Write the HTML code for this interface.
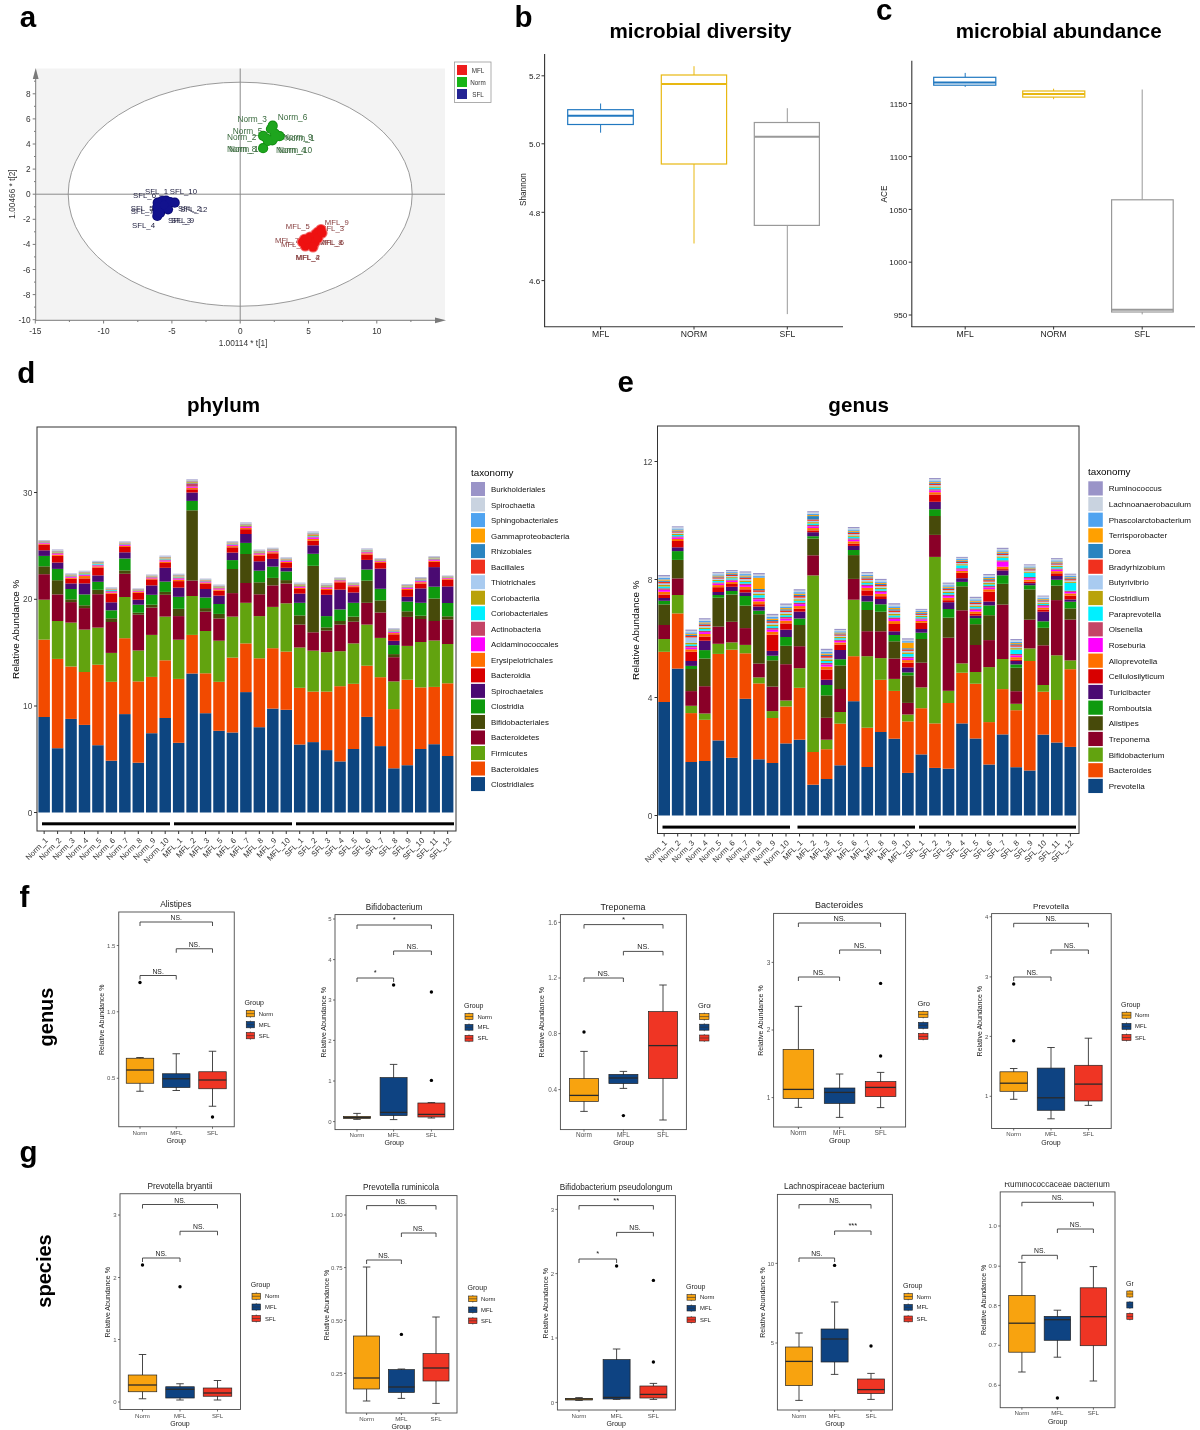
<!DOCTYPE html>
<html><head><meta charset="utf-8"><style>
html,body{margin:0;padding:0;background:#fff;}
svg{display:block;font-family:"Liberation Sans", sans-serif;will-change:transform;}
</style></head><body>
<svg width="1200" height="1430" viewBox="0 0 1200 1430">
<rect width="1200" height="1430" fill="#fff"/>
<text x="19.8" y="26.5" font-size="29.5" text-anchor="start" font-weight="bold" fill="#000" >a</text>
<text x="514.5" y="26.5" font-size="29.5" text-anchor="start" font-weight="bold" fill="#000" >b</text>
<text x="876" y="19.7" font-size="29.5" text-anchor="start" font-weight="bold" fill="#000" >c</text>
<text x="17.3" y="383" font-size="29.5" text-anchor="start" font-weight="bold" fill="#000" >d</text>
<text x="617.4" y="392.3" font-size="29.5" text-anchor="start" font-weight="bold" fill="#000" >e</text>
<text x="19.5" y="907" font-size="29.5" text-anchor="start" font-weight="bold" fill="#000" >f</text>
<text x="19.6" y="1161.7" font-size="29.5" text-anchor="start" font-weight="bold" fill="#000" >g</text>
<rect x="36" y="68.5" width="409" height="251.5" fill="#f3f3f3"/>
<ellipse cx="240.2" cy="194.2" rx="172" ry="112" fill="#fff" stroke="#9a9a9a" stroke-width="1"/>
<line x1="36" y1="194.2" x2="445" y2="194.2" stroke="#8a8a8a" stroke-width="1"/>
<line x1="240.2" y1="68.5" x2="240.2" y2="320" stroke="#8a8a8a" stroke-width="1"/>
<line x1="35.7" y1="72" x2="35.7" y2="320.5" stroke="#7a7a7a" stroke-width="1"/>
<line x1="35.2" y1="320.3" x2="440" y2="320.3" stroke="#7a7a7a" stroke-width="1"/>
<path d="M35.7,68 L32.8,79 L38.6,79 Z" fill="#7a7a7a"/>
<path d="M446,320.3 L435,317.4 L435,323.2 Z" fill="#7a7a7a"/>
<line x1="32.7" y1="319.7" x2="35.7" y2="319.7" stroke="#7a7a7a" stroke-width="1"/>
<text x="30.5" y="322.7" font-size="8.3" text-anchor="end" font-weight="normal" fill="#333" >-10</text>
<line x1="34" y1="307.1" x2="35.7" y2="307.1" stroke="#7a7a7a" stroke-width="1"/>
<line x1="32.7" y1="294.6" x2="35.7" y2="294.6" stroke="#7a7a7a" stroke-width="1"/>
<text x="30.5" y="297.6" font-size="8.3" text-anchor="end" font-weight="normal" fill="#333" >-8</text>
<line x1="34" y1="282.1" x2="35.7" y2="282.1" stroke="#7a7a7a" stroke-width="1"/>
<line x1="32.7" y1="269.5" x2="35.7" y2="269.5" stroke="#7a7a7a" stroke-width="1"/>
<text x="30.5" y="272.5" font-size="8.3" text-anchor="end" font-weight="normal" fill="#333" >-6</text>
<line x1="34" y1="256.9" x2="35.7" y2="256.9" stroke="#7a7a7a" stroke-width="1"/>
<line x1="32.7" y1="244.4" x2="35.7" y2="244.4" stroke="#7a7a7a" stroke-width="1"/>
<text x="30.5" y="247.39999999999998" font-size="8.3" text-anchor="end" font-weight="normal" fill="#333" >-4</text>
<line x1="34" y1="231.8" x2="35.7" y2="231.8" stroke="#7a7a7a" stroke-width="1"/>
<line x1="32.7" y1="219.3" x2="35.7" y2="219.3" stroke="#7a7a7a" stroke-width="1"/>
<text x="30.5" y="222.29999999999998" font-size="8.3" text-anchor="end" font-weight="normal" fill="#333" >-2</text>
<line x1="34" y1="206.8" x2="35.7" y2="206.8" stroke="#7a7a7a" stroke-width="1"/>
<line x1="32.7" y1="194.2" x2="35.7" y2="194.2" stroke="#7a7a7a" stroke-width="1"/>
<text x="30.5" y="197.2" font-size="8.3" text-anchor="end" font-weight="normal" fill="#333" >0</text>
<line x1="34" y1="181.6" x2="35.7" y2="181.6" stroke="#7a7a7a" stroke-width="1"/>
<line x1="32.7" y1="169.1" x2="35.7" y2="169.1" stroke="#7a7a7a" stroke-width="1"/>
<text x="30.5" y="172.1" font-size="8.3" text-anchor="end" font-weight="normal" fill="#333" >2</text>
<line x1="34" y1="156.5" x2="35.7" y2="156.5" stroke="#7a7a7a" stroke-width="1"/>
<line x1="32.7" y1="144.0" x2="35.7" y2="144.0" stroke="#7a7a7a" stroke-width="1"/>
<text x="30.5" y="147.0" font-size="8.3" text-anchor="end" font-weight="normal" fill="#333" >4</text>
<line x1="34" y1="131.4" x2="35.7" y2="131.4" stroke="#7a7a7a" stroke-width="1"/>
<line x1="32.7" y1="118.9" x2="35.7" y2="118.9" stroke="#7a7a7a" stroke-width="1"/>
<text x="30.5" y="121.89999999999998" font-size="8.3" text-anchor="end" font-weight="normal" fill="#333" >6</text>
<line x1="34" y1="106.3" x2="35.7" y2="106.3" stroke="#7a7a7a" stroke-width="1"/>
<line x1="32.7" y1="93.8" x2="35.7" y2="93.8" stroke="#7a7a7a" stroke-width="1"/>
<text x="30.5" y="96.79999999999998" font-size="8.3" text-anchor="end" font-weight="normal" fill="#333" >8</text>
<line x1="34" y1="81.2" x2="35.7" y2="81.2" stroke="#7a7a7a" stroke-width="1"/>
<line x1="35.3" y1="320.3" x2="35.3" y2="323.5" stroke="#7a7a7a" stroke-width="1"/>
<text x="35.29999999999998" y="334" font-size="8.3" text-anchor="middle" font-weight="normal" fill="#333" >-15</text>
<line x1="69.4" y1="320.3" x2="69.4" y2="322" stroke="#7a7a7a" stroke-width="1"/>
<line x1="103.6" y1="320.3" x2="103.6" y2="323.5" stroke="#7a7a7a" stroke-width="1"/>
<text x="103.6" y="334" font-size="8.3" text-anchor="middle" font-weight="normal" fill="#333" >-10</text>
<line x1="137.8" y1="320.3" x2="137.8" y2="322" stroke="#7a7a7a" stroke-width="1"/>
<line x1="171.9" y1="320.3" x2="171.9" y2="323.5" stroke="#7a7a7a" stroke-width="1"/>
<text x="171.89999999999998" y="334" font-size="8.3" text-anchor="middle" font-weight="normal" fill="#333" >-5</text>
<line x1="206.0" y1="320.3" x2="206.0" y2="322" stroke="#7a7a7a" stroke-width="1"/>
<line x1="240.2" y1="320.3" x2="240.2" y2="323.5" stroke="#7a7a7a" stroke-width="1"/>
<text x="240.2" y="334" font-size="8.3" text-anchor="middle" font-weight="normal" fill="#333" >0</text>
<line x1="274.3" y1="320.3" x2="274.3" y2="322" stroke="#7a7a7a" stroke-width="1"/>
<line x1="308.5" y1="320.3" x2="308.5" y2="323.5" stroke="#7a7a7a" stroke-width="1"/>
<text x="308.5" y="334" font-size="8.3" text-anchor="middle" font-weight="normal" fill="#333" >5</text>
<line x1="342.6" y1="320.3" x2="342.6" y2="322" stroke="#7a7a7a" stroke-width="1"/>
<line x1="376.8" y1="320.3" x2="376.8" y2="323.5" stroke="#7a7a7a" stroke-width="1"/>
<text x="376.79999999999995" y="334" font-size="8.3" text-anchor="middle" font-weight="normal" fill="#333" >10</text>
<line x1="410.9" y1="320.3" x2="410.9" y2="322" stroke="#7a7a7a" stroke-width="1"/>
<text x="243" y="346" font-size="8.3" text-anchor="middle" font-weight="normal" fill="#333" >1.00114 * t[1]</text>
<text x="0" y="0" font-size="8.3" text-anchor="middle" fill="#333" transform="translate(15.3,194) rotate(-90)">1.00466 * t[2]</text>
<rect x="454.5" y="62" width="36.5" height="40.5" fill="#fff" stroke="#999" stroke-width="0.8"/>
<rect x="457" y="65" width="10" height="10" fill="#ee1c1c"/>
<text x="478" y="73" font-size="6.3" text-anchor="middle" font-weight="normal" fill="#333" >MFL</text>
<rect x="457" y="77" width="10" height="10" fill="#18b418"/>
<text x="478" y="85" font-size="6.3" text-anchor="middle" font-weight="normal" fill="#333" >Norm</text>
<rect x="457" y="89" width="10" height="10" fill="#242494"/>
<text x="478" y="97" font-size="6.3" text-anchor="middle" font-weight="normal" fill="#333" >SFL</text>
<text x="237.4" y="121.6" font-size="8.3" text-anchor="start" font-weight="normal" fill="#3a6a3e" >Norm_3</text>
<text x="277.8" y="119.7" font-size="8.3" text-anchor="start" font-weight="normal" fill="#3a6a3e" >Norm_6</text>
<text x="232.8" y="133.5" font-size="8.3" text-anchor="start" font-weight="normal" fill="#3a6a3e" >Norm_5</text>
<text x="226.9" y="140.3" font-size="8.3" text-anchor="start" font-weight="normal" fill="#3a6a3e" >Norm_2</text>
<text x="283" y="139.9" font-size="8.3" text-anchor="start" font-weight="normal" fill="#3a6a3e" >Norm_9</text>
<text x="285" y="141" font-size="8.3" text-anchor="start" font-weight="normal" fill="#3a6a3e" >Norm_1</text>
<text x="226.9" y="151.8" font-size="8.3" text-anchor="start" font-weight="normal" fill="#3a6a3e" >Norm_8</text>
<text x="229" y="152.4" font-size="8.3" text-anchor="start" font-weight="normal" fill="#3a6a3e" >Norm_10</text>
<text x="276" y="153.2" font-size="8.3" text-anchor="start" font-weight="normal" fill="#3a6a3e" >Norm_4</text>
<text x="278" y="152.6" font-size="8.3" text-anchor="start" font-weight="normal" fill="#3a6a3e" >Norm_10</text>
<text x="133" y="198" font-size="7.8" text-anchor="start" font-weight="normal" fill="#1c1c3c" >SFL_6</text>
<text x="145" y="194.3" font-size="7.8" text-anchor="start" font-weight="normal" fill="#1c1c3c" >SFL_1</text>
<text x="169.7" y="194.3" font-size="7.8" text-anchor="start" font-weight="normal" fill="#1c1c3c" >SFL_10</text>
<text x="130.7" y="210.7" font-size="7.8" text-anchor="start" font-weight="normal" fill="#1c1c3c" >SFL_5</text>
<text x="130.7" y="214" font-size="7.8" text-anchor="start" font-weight="normal" fill="#1c1c3c" >SFL_7</text>
<text x="178" y="210.7" font-size="7.8" text-anchor="start" font-weight="normal" fill="#1c1c3c" >SFL_2</text>
<text x="180" y="211.5" font-size="7.8" text-anchor="start" font-weight="normal" fill="#1c1c3c" >SFL_12</text>
<text x="168" y="222.7" font-size="7.8" text-anchor="start" font-weight="normal" fill="#1c1c3c" >SFL_3</text>
<text x="171" y="222.7" font-size="7.8" text-anchor="start" font-weight="normal" fill="#1c1c3c" >SFL_9</text>
<text x="132" y="228" font-size="7.8" text-anchor="start" font-weight="normal" fill="#1c1c3c" >SFL_4</text>
<text x="285.8" y="228.8" font-size="7.7" text-anchor="start" font-weight="normal" fill="#853c3c" >MFL_5</text>
<text x="324.8" y="224.6" font-size="7.7" text-anchor="start" font-weight="normal" fill="#853c3c" >MFL_9</text>
<text x="320" y="231.4" font-size="7.7" text-anchor="start" font-weight="normal" fill="#853c3c" >MFL_3</text>
<text x="275" y="243" font-size="7.7" text-anchor="start" font-weight="normal" fill="#853c3c" >MFL_7</text>
<text x="281" y="246.8" font-size="7.7" text-anchor="start" font-weight="normal" fill="#853c3c" >MFL_1</text>
<text x="318.5" y="245.3" font-size="7.7" text-anchor="start" font-weight="normal" fill="#853c3c" >MFL_8</text>
<text x="320" y="245.3" font-size="7.7" text-anchor="start" font-weight="normal" fill="#853c3c" >MFL_6</text>
<text x="295.5" y="259.5" font-size="7.7" text-anchor="start" font-weight="normal" fill="#853c3c" >MFL_4</text>
<text x="296" y="259.5" font-size="7.7" text-anchor="start" font-weight="normal" fill="#853c3c" >MFL_2</text>
<circle cx="272.7" cy="125.7" r="5.1" fill="#0f8a0f"/>
<circle cx="270.9" cy="129" r="5.1" fill="#0f8a0f"/>
<circle cx="275" cy="133.5" r="5.1" fill="#0f8a0f"/>
<circle cx="263.1" cy="135.8" r="5.1" fill="#0f8a0f"/>
<circle cx="266.8" cy="138.5" r="5.1" fill="#0f8a0f"/>
<circle cx="272.3" cy="140.3" r="5.1" fill="#0f8a0f"/>
<circle cx="279.6" cy="136.2" r="5.1" fill="#0f8a0f"/>
<circle cx="275.5" cy="137" r="5.1" fill="#0f8a0f"/>
<circle cx="263.1" cy="148.2" r="5.1" fill="#0f8a0f"/>
<circle cx="268" cy="141" r="5.1" fill="#0f8a0f"/>
<circle cx="272.7" cy="125.7" r="4.3" fill="#1ea51e"/>
<circle cx="270.9" cy="129" r="4.3" fill="#1ea51e"/>
<circle cx="275" cy="133.5" r="4.3" fill="#1ea51e"/>
<circle cx="263.1" cy="135.8" r="4.3" fill="#1ea51e"/>
<circle cx="266.8" cy="138.5" r="4.3" fill="#1ea51e"/>
<circle cx="272.3" cy="140.3" r="4.3" fill="#1ea51e"/>
<circle cx="279.6" cy="136.2" r="4.3" fill="#1ea51e"/>
<circle cx="275.5" cy="137" r="4.3" fill="#1ea51e"/>
<circle cx="263.1" cy="148.2" r="4.3" fill="#1ea51e"/>
<circle cx="268" cy="141" r="4.3" fill="#1ea51e"/>
<circle cx="157.7" cy="202.7" r="5.1" fill="#0a0a70"/>
<circle cx="162" cy="201" r="5.1" fill="#0a0a70"/>
<circle cx="166" cy="200.7" r="5.1" fill="#0a0a70"/>
<circle cx="170" cy="202" r="5.1" fill="#0a0a70"/>
<circle cx="174.7" cy="202.7" r="5.1" fill="#0a0a70"/>
<circle cx="157.3" cy="216" r="5.1" fill="#0a0a70"/>
<circle cx="157.5" cy="212" r="5.1" fill="#0a0a70"/>
<circle cx="161.3" cy="208.7" r="5.1" fill="#0a0a70"/>
<circle cx="168" cy="209.3" r="5.1" fill="#0a0a70"/>
<circle cx="157.3" cy="207" r="5.1" fill="#0a0a70"/>
<circle cx="164" cy="205" r="5.1" fill="#0a0a70"/>
<circle cx="160" cy="213" r="5.1" fill="#0a0a70"/>
<circle cx="157.7" cy="202.7" r="4.3" fill="#12128e"/>
<circle cx="162" cy="201" r="4.3" fill="#12128e"/>
<circle cx="166" cy="200.7" r="4.3" fill="#12128e"/>
<circle cx="170" cy="202" r="4.3" fill="#12128e"/>
<circle cx="174.7" cy="202.7" r="4.3" fill="#12128e"/>
<circle cx="157.3" cy="216" r="4.3" fill="#12128e"/>
<circle cx="157.5" cy="212" r="4.3" fill="#12128e"/>
<circle cx="161.3" cy="208.7" r="4.3" fill="#12128e"/>
<circle cx="168" cy="209.3" r="4.3" fill="#12128e"/>
<circle cx="157.3" cy="207" r="4.3" fill="#12128e"/>
<circle cx="164" cy="205" r="4.3" fill="#12128e"/>
<circle cx="160" cy="213" r="4.3" fill="#12128e"/>
<circle cx="321" cy="229.5" r="5.6" fill="#f26a6a"/>
<circle cx="318" cy="232" r="5.6" fill="#f26a6a"/>
<circle cx="315.8" cy="234" r="5.6" fill="#f26a6a"/>
<circle cx="310" cy="237" r="5.6" fill="#f26a6a"/>
<circle cx="304.5" cy="239.3" r="5.6" fill="#f26a6a"/>
<circle cx="311.3" cy="241.5" r="5.6" fill="#f26a6a"/>
<circle cx="305.3" cy="246" r="5.6" fill="#f26a6a"/>
<circle cx="315" cy="242.3" r="5.6" fill="#f26a6a"/>
<circle cx="308" cy="244" r="5.6" fill="#f26a6a"/>
<circle cx="302.5" cy="242" r="5.6" fill="#f26a6a"/>
<circle cx="318" cy="238" r="5.6" fill="#f26a6a"/>
<circle cx="313" cy="247" r="5.6" fill="#f26a6a"/>
<circle cx="322" cy="233" r="5.6" fill="#f26a6a"/>
<circle cx="307" cy="239" r="5.6" fill="#f26a6a"/>
<circle cx="321" cy="229.5" r="4.5" fill="#ee1111"/>
<circle cx="318" cy="232" r="4.5" fill="#ee1111"/>
<circle cx="315.8" cy="234" r="4.5" fill="#ee1111"/>
<circle cx="310" cy="237" r="4.5" fill="#ee1111"/>
<circle cx="304.5" cy="239.3" r="4.5" fill="#ee1111"/>
<circle cx="311.3" cy="241.5" r="4.5" fill="#ee1111"/>
<circle cx="305.3" cy="246" r="4.5" fill="#ee1111"/>
<circle cx="315" cy="242.3" r="4.5" fill="#ee1111"/>
<circle cx="308" cy="244" r="4.5" fill="#ee1111"/>
<circle cx="302.5" cy="242" r="4.5" fill="#ee1111"/>
<circle cx="318" cy="238" r="4.5" fill="#ee1111"/>
<circle cx="313" cy="247" r="4.5" fill="#ee1111"/>
<circle cx="322" cy="233" r="4.5" fill="#ee1111"/>
<circle cx="307" cy="239" r="4.5" fill="#ee1111"/>
<text x="700.5" y="38" font-size="20.6" text-anchor="middle" font-weight="bold" fill="#000" >microbial diversity</text>
<line x1="544.6" y1="54" x2="544.6" y2="327" stroke="#333" stroke-width="1.1"/>
<line x1="544" y1="326.7" x2="843" y2="326.7" stroke="#333" stroke-width="1.1"/>
<line x1="541.5" y1="75.8" x2="544.6" y2="75.8" stroke="#333" stroke-width="1"/>
<text x="540.2" y="79.0" font-size="8.1" text-anchor="end" font-weight="normal" fill="#222" >5.2</text>
<line x1="541.5" y1="143.8" x2="544.6" y2="143.8" stroke="#333" stroke-width="1"/>
<text x="540.2" y="147.0" font-size="8.1" text-anchor="end" font-weight="normal" fill="#222" >5.0</text>
<line x1="541.5" y1="212.3" x2="544.6" y2="212.3" stroke="#333" stroke-width="1"/>
<text x="540.2" y="215.5" font-size="8.1" text-anchor="end" font-weight="normal" fill="#222" >4.8</text>
<line x1="541.5" y1="280.6" x2="544.6" y2="280.6" stroke="#333" stroke-width="1"/>
<text x="540.2" y="283.8" font-size="8.1" text-anchor="end" font-weight="normal" fill="#222" >4.6</text>
<line x1="600.6" y1="326.7" x2="600.6" y2="329.5" stroke="#333" stroke-width="1"/>
<text x="600.6" y="336.8" font-size="8.6" text-anchor="middle" font-weight="normal" fill="#222" >MFL</text>
<line x1="694" y1="326.7" x2="694" y2="329.5" stroke="#333" stroke-width="1"/>
<text x="694" y="336.8" font-size="8.6" text-anchor="middle" font-weight="normal" fill="#222" >NORM</text>
<line x1="787.3" y1="326.7" x2="787.3" y2="329.5" stroke="#333" stroke-width="1"/>
<text x="787.3" y="336.8" font-size="8.6" text-anchor="middle" font-weight="normal" fill="#222" >SFL</text>
<text x="0" y="0" font-size="8.2" text-anchor="middle" fill="#222" transform="translate(525.5,189.6) rotate(-90)">Shannon</text>
<line x1="600.6" y1="103.5" x2="600.6" y2="109.7" stroke="#2178c0" stroke-width="1"/>
<line x1="600.6" y1="124.5" x2="600.6" y2="132.7" stroke="#2178c0" stroke-width="1"/>
<rect x="567.7" y="109.7" width="65.59999999999991" height="14.799999999999997" fill="#fff" stroke="#2178c0" stroke-width="1.2"/>
<line x1="567.7" y1="115.8" x2="633.3" y2="115.8" stroke="#2178c0" stroke-width="2"/>
<line x1="694" y1="66.2" x2="694" y2="75" stroke="#e8b812" stroke-width="1"/>
<line x1="694" y1="164" x2="694" y2="243.5" stroke="#e8b812" stroke-width="1"/>
<rect x="661.3" y="75" width="65.30000000000007" height="89" fill="#fff" stroke="#e8b812" stroke-width="1.2"/>
<line x1="661.3" y1="84" x2="726.6" y2="84" stroke="#e8b812" stroke-width="2"/>
<line x1="787.3" y1="108.2" x2="787.3" y2="122.5" stroke="#999999" stroke-width="1"/>
<line x1="787.3" y1="225.4" x2="787.3" y2="314.1" stroke="#999999" stroke-width="1"/>
<rect x="754.3" y="122.5" width="65.10000000000002" height="102.9" fill="#fff" stroke="#999999" stroke-width="1.2"/>
<line x1="754.3" y1="136.8" x2="819.4" y2="136.8" stroke="#999999" stroke-width="2"/>
<text x="1058.7" y="37.5" font-size="20.6" text-anchor="middle" font-weight="bold" fill="#000" >microbial abundance</text>
<line x1="911.8" y1="60.7" x2="911.8" y2="327" stroke="#333" stroke-width="1.1"/>
<line x1="911.3" y1="326.7" x2="1195" y2="326.7" stroke="#333" stroke-width="1.1"/>
<line x1="908.7" y1="103.5" x2="911.8" y2="103.5" stroke="#333" stroke-width="1"/>
<text x="907.2" y="106.7" font-size="8.1" text-anchor="end" font-weight="normal" fill="#222" >1150</text>
<line x1="908.7" y1="156.6" x2="911.8" y2="156.6" stroke="#333" stroke-width="1"/>
<text x="907.2" y="159.79999999999998" font-size="8.1" text-anchor="end" font-weight="normal" fill="#222" >1100</text>
<line x1="908.7" y1="209.4" x2="911.8" y2="209.4" stroke="#333" stroke-width="1"/>
<text x="907.2" y="212.6" font-size="8.1" text-anchor="end" font-weight="normal" fill="#222" >1050</text>
<line x1="908.7" y1="262.2" x2="911.8" y2="262.2" stroke="#333" stroke-width="1"/>
<text x="907.2" y="265.4" font-size="8.1" text-anchor="end" font-weight="normal" fill="#222" >1000</text>
<line x1="908.7" y1="315" x2="911.8" y2="315" stroke="#333" stroke-width="1"/>
<text x="907.2" y="318.2" font-size="8.1" text-anchor="end" font-weight="normal" fill="#222" >950</text>
<line x1="965.2" y1="326.7" x2="965.2" y2="329.5" stroke="#333" stroke-width="1"/>
<text x="965.2" y="336.8" font-size="8.6" text-anchor="middle" font-weight="normal" fill="#222" >MFL</text>
<line x1="1053.6" y1="326.7" x2="1053.6" y2="329.5" stroke="#333" stroke-width="1"/>
<text x="1053.6" y="336.8" font-size="8.6" text-anchor="middle" font-weight="normal" fill="#222" >NORM</text>
<line x1="1142.2" y1="326.7" x2="1142.2" y2="329.5" stroke="#333" stroke-width="1"/>
<text x="1142.2" y="336.8" font-size="8.6" text-anchor="middle" font-weight="normal" fill="#222" >SFL</text>
<text x="0" y="0" font-size="8.2" text-anchor="middle" fill="#222" transform="translate(886.5,194) rotate(-90)">ACE</text>
<line x1="965.2" y1="72.9" x2="965.2" y2="77.3" stroke="#2178c0" stroke-width="1"/>
<line x1="965.2" y1="85.2" x2="965.2" y2="86.9" stroke="#2178c0" stroke-width="1"/>
<rect x="933.7" y="77.3" width="62.09999999999991" height="7.900000000000006" fill="#fff" stroke="#2178c0" stroke-width="1.2"/>
<line x1="933.7" y1="82.5" x2="995.8" y2="82.5" stroke="#2178c0" stroke-width="2"/>
<line x1="1053.6" y1="88.7" x2="1053.6" y2="91" stroke="#e8b812" stroke-width="1"/>
<line x1="1053.6" y1="97.1" x2="1053.6" y2="99.2" stroke="#e8b812" stroke-width="1"/>
<rect x="1022.7" y="91" width="62.09999999999991" height="6.099999999999994" fill="#fff" stroke="#e8b812" stroke-width="1.2"/>
<line x1="1022.7" y1="93.9" x2="1084.8" y2="93.9" stroke="#e8b812" stroke-width="2"/>
<line x1="1142.2" y1="89.5" x2="1142.2" y2="199.8" stroke="#999999" stroke-width="1"/>
<line x1="1142.2" y1="312" x2="1142.2" y2="314.4" stroke="#999999" stroke-width="1"/>
<rect x="1111.6" y="199.8" width="61.600000000000136" height="112.19999999999999" fill="#fff" stroke="#999999" stroke-width="1.2"/>
<line x1="1111.6" y1="309.7" x2="1173.2" y2="309.7" stroke="#999999" stroke-width="2"/>
<text x="223.5" y="411.5" font-size="20.6" text-anchor="middle" font-weight="bold" fill="#000" >phylum</text>
<rect x="37" y="427" width="419" height="404" fill="#fff" stroke="#333" stroke-width="1"/>
<rect x="38.40" y="717.00" width="11.5" height="95.50" fill="#0d4580"/>
<rect x="38.40" y="639.60" width="11.5" height="77.40" fill="#f24a00"/>
<rect x="38.40" y="599.70" width="11.5" height="39.90" fill="#62a30f"/>
<rect x="38.40" y="574.20" width="11.5" height="25.50" fill="#8a0028"/>
<rect x="38.40" y="566.30" width="11.5" height="7.90" fill="#474a0a"/>
<rect x="38.40" y="555.90" width="11.5" height="10.40" fill="#0e9a0e"/>
<rect x="38.40" y="550.30" width="11.5" height="5.60" fill="#4a0a72"/>
<rect x="38.40" y="544.50" width="11.5" height="5.80" fill="#d80000"/>
<rect x="38.40" y="543.60" width="11.5" height="0.90" fill="#ff7000"/>
<rect x="38.40" y="542.93" width="11.5" height="0.67" fill="#ff00ff"/>
<rect x="38.40" y="542.39" width="11.5" height="0.54" fill="#c44466"/>
<rect x="38.40" y="542.12" width="11.5" height="0.27" fill="#00f0ff"/>
<rect x="38.40" y="541.67" width="11.5" height="0.45" fill="#b9a20a"/>
<rect x="38.40" y="541.44" width="11.5" height="0.23" fill="#a9cbf0"/>
<rect x="38.40" y="541.22" width="11.5" height="0.23" fill="#f0301e"/>
<rect x="38.40" y="541.04" width="11.5" height="0.18" fill="#2a84c0"/>
<rect x="38.40" y="540.86" width="11.5" height="0.18" fill="#ffa000"/>
<rect x="38.40" y="540.63" width="11.5" height="0.23" fill="#4fa3f0"/>
<rect x="38.40" y="540.32" width="11.5" height="0.32" fill="#c9d3e0"/>
<rect x="38.40" y="540.00" width="11.5" height="0.32" fill="#9a94c8"/>
<rect x="51.85" y="748.20" width="11.5" height="64.30" fill="#0d4580"/>
<rect x="51.85" y="658.90" width="11.5" height="89.30" fill="#f24a00"/>
<rect x="51.85" y="621.00" width="11.5" height="37.90" fill="#62a30f"/>
<rect x="51.85" y="594.40" width="11.5" height="26.60" fill="#8a0028"/>
<rect x="51.85" y="580.20" width="11.5" height="14.20" fill="#474a0a"/>
<rect x="51.85" y="568.90" width="11.5" height="11.30" fill="#0e9a0e"/>
<rect x="51.85" y="562.50" width="11.5" height="6.40" fill="#4a0a72"/>
<rect x="51.85" y="555.90" width="11.5" height="6.60" fill="#d80000"/>
<rect x="51.85" y="554.62" width="11.5" height="1.28" fill="#ff7000"/>
<rect x="51.85" y="553.66" width="11.5" height="0.96" fill="#ff00ff"/>
<rect x="51.85" y="552.89" width="11.5" height="0.77" fill="#c44466"/>
<rect x="51.85" y="552.51" width="11.5" height="0.38" fill="#00f0ff"/>
<rect x="51.85" y="551.87" width="11.5" height="0.64" fill="#b9a20a"/>
<rect x="51.85" y="551.55" width="11.5" height="0.32" fill="#a9cbf0"/>
<rect x="51.85" y="551.23" width="11.5" height="0.32" fill="#f0301e"/>
<rect x="51.85" y="550.97" width="11.5" height="0.26" fill="#2a84c0"/>
<rect x="51.85" y="550.72" width="11.5" height="0.26" fill="#ffa000"/>
<rect x="51.85" y="550.40" width="11.5" height="0.32" fill="#4fa3f0"/>
<rect x="51.85" y="549.95" width="11.5" height="0.45" fill="#c9d3e0"/>
<rect x="51.85" y="549.50" width="11.5" height="0.45" fill="#9a94c8"/>
<rect x="65.30" y="718.90" width="11.5" height="93.60" fill="#0d4580"/>
<rect x="65.30" y="666.50" width="11.5" height="52.40" fill="#f24a00"/>
<rect x="65.30" y="622.60" width="11.5" height="43.90" fill="#62a30f"/>
<rect x="65.30" y="602.10" width="11.5" height="20.50" fill="#8a0028"/>
<rect x="65.30" y="599.30" width="11.5" height="2.80" fill="#474a0a"/>
<rect x="65.30" y="589.00" width="11.5" height="10.30" fill="#0e9a0e"/>
<rect x="65.30" y="583.40" width="11.5" height="5.60" fill="#4a0a72"/>
<rect x="65.30" y="578.80" width="11.5" height="4.60" fill="#d80000"/>
<rect x="65.30" y="577.72" width="11.5" height="1.08" fill="#ff7000"/>
<rect x="65.30" y="576.91" width="11.5" height="0.81" fill="#ff00ff"/>
<rect x="65.30" y="576.26" width="11.5" height="0.65" fill="#c44466"/>
<rect x="65.30" y="575.94" width="11.5" height="0.32" fill="#00f0ff"/>
<rect x="65.30" y="575.40" width="11.5" height="0.54" fill="#b9a20a"/>
<rect x="65.30" y="575.13" width="11.5" height="0.27" fill="#a9cbf0"/>
<rect x="65.30" y="574.86" width="11.5" height="0.27" fill="#f0301e"/>
<rect x="65.30" y="574.64" width="11.5" height="0.22" fill="#2a84c0"/>
<rect x="65.30" y="574.43" width="11.5" height="0.22" fill="#ffa000"/>
<rect x="65.30" y="574.16" width="11.5" height="0.27" fill="#4fa3f0"/>
<rect x="65.30" y="573.78" width="11.5" height="0.38" fill="#c9d3e0"/>
<rect x="65.30" y="573.40" width="11.5" height="0.38" fill="#9a94c8"/>
<rect x="78.75" y="724.90" width="11.5" height="87.60" fill="#0d4580"/>
<rect x="78.75" y="672.00" width="11.5" height="52.90" fill="#f24a00"/>
<rect x="78.75" y="629.60" width="11.5" height="42.40" fill="#62a30f"/>
<rect x="78.75" y="608.10" width="11.5" height="21.50" fill="#8a0028"/>
<rect x="78.75" y="605.30" width="11.5" height="2.80" fill="#474a0a"/>
<rect x="78.75" y="594.40" width="11.5" height="10.90" fill="#0e9a0e"/>
<rect x="78.75" y="583.40" width="11.5" height="11.00" fill="#4a0a72"/>
<rect x="78.75" y="578.40" width="11.5" height="5.00" fill="#d80000"/>
<rect x="78.75" y="576.04" width="11.5" height="2.36" fill="#ff7000"/>
<rect x="78.75" y="575.16" width="11.5" height="0.88" fill="#ff00ff"/>
<rect x="78.75" y="574.45" width="11.5" height="0.71" fill="#c44466"/>
<rect x="78.75" y="573.57" width="11.5" height="0.88" fill="#00f0ff"/>
<rect x="78.75" y="572.98" width="11.5" height="0.59" fill="#b9a20a"/>
<rect x="78.75" y="572.69" width="11.5" height="0.29" fill="#a9cbf0"/>
<rect x="78.75" y="572.39" width="11.5" height="0.29" fill="#f0301e"/>
<rect x="78.75" y="572.16" width="11.5" height="0.24" fill="#2a84c0"/>
<rect x="78.75" y="571.92" width="11.5" height="0.24" fill="#ffa000"/>
<rect x="78.75" y="571.62" width="11.5" height="0.29" fill="#4fa3f0"/>
<rect x="78.75" y="571.21" width="11.5" height="0.41" fill="#c9d3e0"/>
<rect x="78.75" y="570.80" width="11.5" height="0.41" fill="#9a94c8"/>
<rect x="92.20" y="745.20" width="11.5" height="67.30" fill="#0d4580"/>
<rect x="92.20" y="664.70" width="11.5" height="80.50" fill="#f24a00"/>
<rect x="92.20" y="627.60" width="11.5" height="37.10" fill="#62a30f"/>
<rect x="92.20" y="594.20" width="11.5" height="33.40" fill="#8a0028"/>
<rect x="92.20" y="589.80" width="11.5" height="4.40" fill="#474a0a"/>
<rect x="92.20" y="581.80" width="11.5" height="8.00" fill="#0e9a0e"/>
<rect x="92.20" y="575.40" width="11.5" height="6.40" fill="#4a0a72"/>
<rect x="92.20" y="567.50" width="11.5" height="7.90" fill="#d80000"/>
<rect x="92.20" y="566.32" width="11.5" height="1.18" fill="#ff7000"/>
<rect x="92.20" y="565.44" width="11.5" height="0.88" fill="#ff00ff"/>
<rect x="92.20" y="564.73" width="11.5" height="0.71" fill="#c44466"/>
<rect x="92.20" y="564.02" width="11.5" height="0.71" fill="#00f0ff"/>
<rect x="92.20" y="563.43" width="11.5" height="0.59" fill="#b9a20a"/>
<rect x="92.20" y="563.14" width="11.5" height="0.29" fill="#a9cbf0"/>
<rect x="92.20" y="562.84" width="11.5" height="0.29" fill="#f0301e"/>
<rect x="92.20" y="562.26" width="11.5" height="0.59" fill="#2a84c0"/>
<rect x="92.20" y="562.02" width="11.5" height="0.24" fill="#ffa000"/>
<rect x="92.20" y="561.72" width="11.5" height="0.29" fill="#4fa3f0"/>
<rect x="92.20" y="561.31" width="11.5" height="0.41" fill="#c9d3e0"/>
<rect x="92.20" y="560.90" width="11.5" height="0.41" fill="#9a94c8"/>
<rect x="105.65" y="760.70" width="11.5" height="51.80" fill="#0d4580"/>
<rect x="105.65" y="681.80" width="11.5" height="78.90" fill="#f24a00"/>
<rect x="105.65" y="652.90" width="11.5" height="28.90" fill="#62a30f"/>
<rect x="105.65" y="622.00" width="11.5" height="30.90" fill="#8a0028"/>
<rect x="105.65" y="618.30" width="11.5" height="3.70" fill="#474a0a"/>
<rect x="105.65" y="610.30" width="11.5" height="8.00" fill="#0e9a0e"/>
<rect x="105.65" y="602.30" width="11.5" height="8.00" fill="#4a0a72"/>
<rect x="105.65" y="593.80" width="11.5" height="8.50" fill="#d80000"/>
<rect x="105.65" y="592.63" width="11.5" height="1.17" fill="#ff7000"/>
<rect x="105.65" y="591.74" width="11.5" height="0.88" fill="#ff00ff"/>
<rect x="105.65" y="591.04" width="11.5" height="0.70" fill="#c44466"/>
<rect x="105.65" y="590.16" width="11.5" height="0.88" fill="#00f0ff"/>
<rect x="105.65" y="589.57" width="11.5" height="0.59" fill="#b9a20a"/>
<rect x="105.65" y="589.28" width="11.5" height="0.29" fill="#a9cbf0"/>
<rect x="105.65" y="588.99" width="11.5" height="0.29" fill="#f0301e"/>
<rect x="105.65" y="588.75" width="11.5" height="0.23" fill="#2a84c0"/>
<rect x="105.65" y="588.52" width="11.5" height="0.23" fill="#ffa000"/>
<rect x="105.65" y="588.22" width="11.5" height="0.29" fill="#4fa3f0"/>
<rect x="105.65" y="587.81" width="11.5" height="0.41" fill="#c9d3e0"/>
<rect x="105.65" y="587.40" width="11.5" height="0.41" fill="#9a94c8"/>
<rect x="119.10" y="714.10" width="11.5" height="98.40" fill="#0d4580"/>
<rect x="119.10" y="638.20" width="11.5" height="75.90" fill="#f24a00"/>
<rect x="119.10" y="597.00" width="11.5" height="41.20" fill="#62a30f"/>
<rect x="119.10" y="573.80" width="11.5" height="23.20" fill="#8a0028"/>
<rect x="119.10" y="570.40" width="11.5" height="3.40" fill="#474a0a"/>
<rect x="119.10" y="558.50" width="11.5" height="11.90" fill="#0e9a0e"/>
<rect x="119.10" y="552.30" width="11.5" height="6.20" fill="#4a0a72"/>
<rect x="119.10" y="547.00" width="11.5" height="5.30" fill="#d80000"/>
<rect x="119.10" y="545.88" width="11.5" height="1.12" fill="#ff7000"/>
<rect x="119.10" y="545.04" width="11.5" height="0.84" fill="#ff00ff"/>
<rect x="119.10" y="544.37" width="11.5" height="0.67" fill="#c44466"/>
<rect x="119.10" y="544.03" width="11.5" height="0.34" fill="#00f0ff"/>
<rect x="119.10" y="543.47" width="11.5" height="0.56" fill="#b9a20a"/>
<rect x="119.10" y="543.19" width="11.5" height="0.28" fill="#a9cbf0"/>
<rect x="119.10" y="542.91" width="11.5" height="0.28" fill="#f0301e"/>
<rect x="119.10" y="542.69" width="11.5" height="0.22" fill="#2a84c0"/>
<rect x="119.10" y="542.46" width="11.5" height="0.22" fill="#ffa000"/>
<rect x="119.10" y="542.18" width="11.5" height="0.28" fill="#4fa3f0"/>
<rect x="119.10" y="541.79" width="11.5" height="0.39" fill="#c9d3e0"/>
<rect x="119.10" y="541.40" width="11.5" height="0.39" fill="#9a94c8"/>
<rect x="132.55" y="762.70" width="11.5" height="49.80" fill="#0d4580"/>
<rect x="132.55" y="681.40" width="11.5" height="81.30" fill="#f24a00"/>
<rect x="132.55" y="650.50" width="11.5" height="30.90" fill="#62a30f"/>
<rect x="132.55" y="614.70" width="11.5" height="35.80" fill="#8a0028"/>
<rect x="132.55" y="612.70" width="11.5" height="2.00" fill="#474a0a"/>
<rect x="132.55" y="604.70" width="11.5" height="8.00" fill="#0e9a0e"/>
<rect x="132.55" y="599.70" width="11.5" height="5.00" fill="#4a0a72"/>
<rect x="132.55" y="592.80" width="11.5" height="6.90" fill="#d80000"/>
<rect x="132.55" y="591.92" width="11.5" height="0.88" fill="#ff7000"/>
<rect x="132.55" y="591.26" width="11.5" height="0.66" fill="#ff00ff"/>
<rect x="132.55" y="590.73" width="11.5" height="0.53" fill="#c44466"/>
<rect x="132.55" y="590.47" width="11.5" height="0.26" fill="#00f0ff"/>
<rect x="132.55" y="590.03" width="11.5" height="0.44" fill="#b9a20a"/>
<rect x="132.55" y="589.81" width="11.5" height="0.22" fill="#a9cbf0"/>
<rect x="132.55" y="589.59" width="11.5" height="0.22" fill="#f0301e"/>
<rect x="132.55" y="589.41" width="11.5" height="0.18" fill="#2a84c0"/>
<rect x="132.55" y="589.24" width="11.5" height="0.18" fill="#ffa000"/>
<rect x="132.55" y="589.02" width="11.5" height="0.22" fill="#4fa3f0"/>
<rect x="132.55" y="588.71" width="11.5" height="0.31" fill="#c9d3e0"/>
<rect x="132.55" y="588.40" width="11.5" height="0.31" fill="#9a94c8"/>
<rect x="146.00" y="733.20" width="11.5" height="79.30" fill="#0d4580"/>
<rect x="146.00" y="676.90" width="11.5" height="56.30" fill="#f24a00"/>
<rect x="146.00" y="634.90" width="11.5" height="42.00" fill="#62a30f"/>
<rect x="146.00" y="607.60" width="11.5" height="27.30" fill="#8a0028"/>
<rect x="146.00" y="604.70" width="11.5" height="2.90" fill="#474a0a"/>
<rect x="146.00" y="594.80" width="11.5" height="9.90" fill="#0e9a0e"/>
<rect x="146.00" y="585.40" width="11.5" height="9.40" fill="#4a0a72"/>
<rect x="146.00" y="579.40" width="11.5" height="6.00" fill="#d80000"/>
<rect x="146.00" y="578.44" width="11.5" height="0.96" fill="#ff7000"/>
<rect x="146.00" y="577.72" width="11.5" height="0.72" fill="#ff00ff"/>
<rect x="146.00" y="577.14" width="11.5" height="0.58" fill="#c44466"/>
<rect x="146.00" y="576.86" width="11.5" height="0.29" fill="#00f0ff"/>
<rect x="146.00" y="576.38" width="11.5" height="0.48" fill="#b9a20a"/>
<rect x="146.00" y="576.14" width="11.5" height="0.24" fill="#a9cbf0"/>
<rect x="146.00" y="575.90" width="11.5" height="0.24" fill="#f0301e"/>
<rect x="146.00" y="575.70" width="11.5" height="0.19" fill="#2a84c0"/>
<rect x="146.00" y="575.51" width="11.5" height="0.19" fill="#ffa000"/>
<rect x="146.00" y="575.27" width="11.5" height="0.24" fill="#4fa3f0"/>
<rect x="146.00" y="574.94" width="11.5" height="0.34" fill="#c9d3e0"/>
<rect x="146.00" y="574.60" width="11.5" height="0.34" fill="#9a94c8"/>
<rect x="159.45" y="718.00" width="11.5" height="94.50" fill="#0d4580"/>
<rect x="159.45" y="660.30" width="11.5" height="57.70" fill="#f24a00"/>
<rect x="159.45" y="616.60" width="11.5" height="43.70" fill="#62a30f"/>
<rect x="159.45" y="594.80" width="11.5" height="21.80" fill="#8a0028"/>
<rect x="159.45" y="591.90" width="11.5" height="2.90" fill="#474a0a"/>
<rect x="159.45" y="581.60" width="11.5" height="10.30" fill="#0e9a0e"/>
<rect x="159.45" y="567.80" width="11.5" height="13.80" fill="#4a0a72"/>
<rect x="159.45" y="563.00" width="11.5" height="4.80" fill="#d80000"/>
<rect x="159.45" y="561.54" width="11.5" height="1.46" fill="#ff7000"/>
<rect x="159.45" y="560.44" width="11.5" height="1.09" fill="#ff00ff"/>
<rect x="159.45" y="559.57" width="11.5" height="0.88" fill="#c44466"/>
<rect x="159.45" y="559.13" width="11.5" height="0.44" fill="#00f0ff"/>
<rect x="159.45" y="558.40" width="11.5" height="0.73" fill="#b9a20a"/>
<rect x="159.45" y="558.04" width="11.5" height="0.36" fill="#a9cbf0"/>
<rect x="159.45" y="557.67" width="11.5" height="0.36" fill="#f0301e"/>
<rect x="159.45" y="557.38" width="11.5" height="0.29" fill="#2a84c0"/>
<rect x="159.45" y="557.09" width="11.5" height="0.29" fill="#ffa000"/>
<rect x="159.45" y="556.72" width="11.5" height="0.36" fill="#4fa3f0"/>
<rect x="159.45" y="556.21" width="11.5" height="0.51" fill="#c9d3e0"/>
<rect x="159.45" y="555.70" width="11.5" height="0.51" fill="#9a94c8"/>
<rect x="172.90" y="742.80" width="11.5" height="69.70" fill="#0d4580"/>
<rect x="172.90" y="678.90" width="11.5" height="63.90" fill="#f24a00"/>
<rect x="172.90" y="639.70" width="11.5" height="39.20" fill="#62a30f"/>
<rect x="172.90" y="616.10" width="11.5" height="23.60" fill="#8a0028"/>
<rect x="172.90" y="608.80" width="11.5" height="7.30" fill="#474a0a"/>
<rect x="172.90" y="596.80" width="11.5" height="12.00" fill="#0e9a0e"/>
<rect x="172.90" y="587.60" width="11.5" height="9.20" fill="#4a0a72"/>
<rect x="172.90" y="581.10" width="11.5" height="6.50" fill="#d80000"/>
<rect x="172.90" y="579.64" width="11.5" height="1.46" fill="#ff7000"/>
<rect x="172.90" y="578.54" width="11.5" height="1.10" fill="#ff00ff"/>
<rect x="172.90" y="577.67" width="11.5" height="0.88" fill="#c44466"/>
<rect x="172.90" y="577.23" width="11.5" height="0.44" fill="#00f0ff"/>
<rect x="172.90" y="576.50" width="11.5" height="0.73" fill="#b9a20a"/>
<rect x="172.90" y="576.14" width="11.5" height="0.37" fill="#a9cbf0"/>
<rect x="172.90" y="575.77" width="11.5" height="0.37" fill="#f0301e"/>
<rect x="172.90" y="575.48" width="11.5" height="0.29" fill="#2a84c0"/>
<rect x="172.90" y="575.19" width="11.5" height="0.29" fill="#ffa000"/>
<rect x="172.90" y="574.82" width="11.5" height="0.37" fill="#4fa3f0"/>
<rect x="172.90" y="574.31" width="11.5" height="0.51" fill="#c9d3e0"/>
<rect x="172.90" y="573.80" width="11.5" height="0.51" fill="#9a94c8"/>
<rect x="186.35" y="673.50" width="11.5" height="139.00" fill="#0d4580"/>
<rect x="186.35" y="634.90" width="11.5" height="38.60" fill="#f24a00"/>
<rect x="186.35" y="596.00" width="11.5" height="38.90" fill="#62a30f"/>
<rect x="186.35" y="580.60" width="11.5" height="15.40" fill="#8a0028"/>
<rect x="186.35" y="510.30" width="11.5" height="70.30" fill="#474a0a"/>
<rect x="186.35" y="500.90" width="11.5" height="9.40" fill="#0e9a0e"/>
<rect x="186.35" y="492.50" width="11.5" height="8.40" fill="#4a0a72"/>
<rect x="186.35" y="489.30" width="11.5" height="3.20" fill="#d80000"/>
<rect x="186.35" y="487.78" width="11.5" height="1.52" fill="#ff7000"/>
<rect x="186.35" y="486.64" width="11.5" height="1.14" fill="#ff00ff"/>
<rect x="186.35" y="483.22" width="11.5" height="3.42" fill="#c44466"/>
<rect x="186.35" y="482.77" width="11.5" height="0.46" fill="#00f0ff"/>
<rect x="186.35" y="482.01" width="11.5" height="0.76" fill="#b9a20a"/>
<rect x="186.35" y="481.63" width="11.5" height="0.38" fill="#a9cbf0"/>
<rect x="186.35" y="481.25" width="11.5" height="0.38" fill="#f0301e"/>
<rect x="186.35" y="480.95" width="11.5" height="0.30" fill="#2a84c0"/>
<rect x="186.35" y="480.64" width="11.5" height="0.30" fill="#ffa000"/>
<rect x="186.35" y="480.26" width="11.5" height="0.38" fill="#4fa3f0"/>
<rect x="186.35" y="479.73" width="11.5" height="0.53" fill="#c9d3e0"/>
<rect x="186.35" y="479.20" width="11.5" height="0.53" fill="#9a94c8"/>
<rect x="199.80" y="713.20" width="11.5" height="99.30" fill="#0d4580"/>
<rect x="199.80" y="673.30" width="11.5" height="39.90" fill="#f24a00"/>
<rect x="199.80" y="631.00" width="11.5" height="42.30" fill="#62a30f"/>
<rect x="199.80" y="611.70" width="11.5" height="19.30" fill="#8a0028"/>
<rect x="199.80" y="608.10" width="11.5" height="3.60" fill="#474a0a"/>
<rect x="199.80" y="597.50" width="11.5" height="10.60" fill="#0e9a0e"/>
<rect x="199.80" y="589.00" width="11.5" height="8.50" fill="#4a0a72"/>
<rect x="199.80" y="583.50" width="11.5" height="5.50" fill="#d80000"/>
<rect x="199.80" y="582.54" width="11.5" height="0.96" fill="#ff7000"/>
<rect x="199.80" y="581.82" width="11.5" height="0.72" fill="#ff00ff"/>
<rect x="199.80" y="581.24" width="11.5" height="0.58" fill="#c44466"/>
<rect x="199.80" y="580.96" width="11.5" height="0.29" fill="#00f0ff"/>
<rect x="199.80" y="580.48" width="11.5" height="0.48" fill="#b9a20a"/>
<rect x="199.80" y="580.24" width="11.5" height="0.24" fill="#a9cbf0"/>
<rect x="199.80" y="580.00" width="11.5" height="0.24" fill="#f0301e"/>
<rect x="199.80" y="579.80" width="11.5" height="0.19" fill="#2a84c0"/>
<rect x="199.80" y="579.61" width="11.5" height="0.19" fill="#ffa000"/>
<rect x="199.80" y="579.37" width="11.5" height="0.24" fill="#4fa3f0"/>
<rect x="199.80" y="579.04" width="11.5" height="0.34" fill="#c9d3e0"/>
<rect x="199.80" y="578.70" width="11.5" height="0.34" fill="#9a94c8"/>
<rect x="213.25" y="730.80" width="11.5" height="81.70" fill="#0d4580"/>
<rect x="213.25" y="681.80" width="11.5" height="49.00" fill="#f24a00"/>
<rect x="213.25" y="640.70" width="11.5" height="41.10" fill="#62a30f"/>
<rect x="213.25" y="618.50" width="11.5" height="22.20" fill="#8a0028"/>
<rect x="213.25" y="613.90" width="11.5" height="4.60" fill="#474a0a"/>
<rect x="213.25" y="604.00" width="11.5" height="9.90" fill="#0e9a0e"/>
<rect x="213.25" y="595.60" width="11.5" height="8.40" fill="#4a0a72"/>
<rect x="213.25" y="590.70" width="11.5" height="4.90" fill="#d80000"/>
<rect x="213.25" y="589.50" width="11.5" height="1.20" fill="#ff7000"/>
<rect x="213.25" y="588.60" width="11.5" height="0.90" fill="#ff00ff"/>
<rect x="213.25" y="587.88" width="11.5" height="0.72" fill="#c44466"/>
<rect x="213.25" y="587.52" width="11.5" height="0.36" fill="#00f0ff"/>
<rect x="213.25" y="586.92" width="11.5" height="0.60" fill="#b9a20a"/>
<rect x="213.25" y="586.62" width="11.5" height="0.30" fill="#a9cbf0"/>
<rect x="213.25" y="586.32" width="11.5" height="0.30" fill="#f0301e"/>
<rect x="213.25" y="586.08" width="11.5" height="0.24" fill="#2a84c0"/>
<rect x="213.25" y="585.84" width="11.5" height="0.24" fill="#ffa000"/>
<rect x="213.25" y="585.54" width="11.5" height="0.30" fill="#4fa3f0"/>
<rect x="213.25" y="585.12" width="11.5" height="0.42" fill="#c9d3e0"/>
<rect x="213.25" y="584.70" width="11.5" height="0.42" fill="#9a94c8"/>
<rect x="226.70" y="732.50" width="11.5" height="80.00" fill="#0d4580"/>
<rect x="226.70" y="657.60" width="11.5" height="74.90" fill="#f24a00"/>
<rect x="226.70" y="616.60" width="11.5" height="41.00" fill="#62a30f"/>
<rect x="226.70" y="593.10" width="11.5" height="23.50" fill="#8a0028"/>
<rect x="226.70" y="569.00" width="11.5" height="24.10" fill="#474a0a"/>
<rect x="226.70" y="560.10" width="11.5" height="8.90" fill="#0e9a0e"/>
<rect x="226.70" y="552.60" width="11.5" height="7.50" fill="#4a0a72"/>
<rect x="226.70" y="547.30" width="11.5" height="5.30" fill="#d80000"/>
<rect x="226.70" y="546.08" width="11.5" height="1.22" fill="#ff7000"/>
<rect x="226.70" y="545.16" width="11.5" height="0.91" fill="#ff00ff"/>
<rect x="226.70" y="544.43" width="11.5" height="0.73" fill="#c44466"/>
<rect x="226.70" y="544.07" width="11.5" height="0.37" fill="#00f0ff"/>
<rect x="226.70" y="543.46" width="11.5" height="0.61" fill="#b9a20a"/>
<rect x="226.70" y="543.15" width="11.5" height="0.30" fill="#a9cbf0"/>
<rect x="226.70" y="542.85" width="11.5" height="0.30" fill="#f0301e"/>
<rect x="226.70" y="542.60" width="11.5" height="0.24" fill="#2a84c0"/>
<rect x="226.70" y="542.36" width="11.5" height="0.24" fill="#ffa000"/>
<rect x="226.70" y="542.05" width="11.5" height="0.30" fill="#4fa3f0"/>
<rect x="226.70" y="541.63" width="11.5" height="0.43" fill="#c9d3e0"/>
<rect x="226.70" y="541.20" width="11.5" height="0.43" fill="#9a94c8"/>
<rect x="240.15" y="692.10" width="11.5" height="120.40" fill="#0d4580"/>
<rect x="240.15" y="643.40" width="11.5" height="48.70" fill="#f24a00"/>
<rect x="240.15" y="602.80" width="11.5" height="40.60" fill="#62a30f"/>
<rect x="240.15" y="583.00" width="11.5" height="19.80" fill="#8a0028"/>
<rect x="240.15" y="554.00" width="11.5" height="29.00" fill="#474a0a"/>
<rect x="240.15" y="542.90" width="11.5" height="11.10" fill="#0e9a0e"/>
<rect x="240.15" y="534.00" width="11.5" height="8.90" fill="#4a0a72"/>
<rect x="240.15" y="529.20" width="11.5" height="4.80" fill="#d80000"/>
<rect x="240.15" y="527.84" width="11.5" height="1.36" fill="#ff7000"/>
<rect x="240.15" y="526.82" width="11.5" height="1.02" fill="#ff00ff"/>
<rect x="240.15" y="526.00" width="11.5" height="0.82" fill="#c44466"/>
<rect x="240.15" y="525.60" width="11.5" height="0.41" fill="#00f0ff"/>
<rect x="240.15" y="524.92" width="11.5" height="0.68" fill="#b9a20a"/>
<rect x="240.15" y="524.58" width="11.5" height="0.34" fill="#a9cbf0"/>
<rect x="240.15" y="524.24" width="11.5" height="0.34" fill="#f0301e"/>
<rect x="240.15" y="523.96" width="11.5" height="0.27" fill="#2a84c0"/>
<rect x="240.15" y="523.69" width="11.5" height="0.27" fill="#ffa000"/>
<rect x="240.15" y="523.35" width="11.5" height="0.34" fill="#4fa3f0"/>
<rect x="240.15" y="522.88" width="11.5" height="0.48" fill="#c9d3e0"/>
<rect x="240.15" y="522.40" width="11.5" height="0.48" fill="#9a94c8"/>
<rect x="253.60" y="727.20" width="11.5" height="85.30" fill="#0d4580"/>
<rect x="253.60" y="658.30" width="11.5" height="68.90" fill="#f24a00"/>
<rect x="253.60" y="616.10" width="11.5" height="42.20" fill="#62a30f"/>
<rect x="253.60" y="594.30" width="11.5" height="21.80" fill="#8a0028"/>
<rect x="253.60" y="582.30" width="11.5" height="12.00" fill="#474a0a"/>
<rect x="253.60" y="570.70" width="11.5" height="11.60" fill="#0e9a0e"/>
<rect x="253.60" y="561.30" width="11.5" height="9.40" fill="#4a0a72"/>
<rect x="253.60" y="555.70" width="11.5" height="5.60" fill="#d80000"/>
<rect x="253.60" y="554.50" width="11.5" height="1.20" fill="#ff7000"/>
<rect x="253.60" y="553.60" width="11.5" height="0.90" fill="#ff00ff"/>
<rect x="253.60" y="552.88" width="11.5" height="0.72" fill="#c44466"/>
<rect x="253.60" y="552.52" width="11.5" height="0.36" fill="#00f0ff"/>
<rect x="253.60" y="551.92" width="11.5" height="0.60" fill="#b9a20a"/>
<rect x="253.60" y="551.62" width="11.5" height="0.30" fill="#a9cbf0"/>
<rect x="253.60" y="551.32" width="11.5" height="0.30" fill="#f0301e"/>
<rect x="253.60" y="551.08" width="11.5" height="0.24" fill="#2a84c0"/>
<rect x="253.60" y="550.84" width="11.5" height="0.24" fill="#ffa000"/>
<rect x="253.60" y="550.54" width="11.5" height="0.30" fill="#4fa3f0"/>
<rect x="253.60" y="550.12" width="11.5" height="0.42" fill="#c9d3e0"/>
<rect x="253.60" y="549.70" width="11.5" height="0.42" fill="#9a94c8"/>
<rect x="267.05" y="708.60" width="11.5" height="103.90" fill="#0d4580"/>
<rect x="267.05" y="648.20" width="11.5" height="60.40" fill="#f24a00"/>
<rect x="267.05" y="606.90" width="11.5" height="41.30" fill="#62a30f"/>
<rect x="267.05" y="585.40" width="11.5" height="21.50" fill="#8a0028"/>
<rect x="267.05" y="577.90" width="11.5" height="7.50" fill="#474a0a"/>
<rect x="267.05" y="566.60" width="11.5" height="11.30" fill="#0e9a0e"/>
<rect x="267.05" y="558.90" width="11.5" height="7.70" fill="#4a0a72"/>
<rect x="267.05" y="553.30" width="11.5" height="5.60" fill="#d80000"/>
<rect x="267.05" y="552.20" width="11.5" height="1.10" fill="#ff7000"/>
<rect x="267.05" y="551.37" width="11.5" height="0.82" fill="#ff00ff"/>
<rect x="267.05" y="550.71" width="11.5" height="0.66" fill="#c44466"/>
<rect x="267.05" y="550.38" width="11.5" height="0.33" fill="#00f0ff"/>
<rect x="267.05" y="549.83" width="11.5" height="0.55" fill="#b9a20a"/>
<rect x="267.05" y="549.56" width="11.5" height="0.28" fill="#a9cbf0"/>
<rect x="267.05" y="549.28" width="11.5" height="0.28" fill="#f0301e"/>
<rect x="267.05" y="549.06" width="11.5" height="0.22" fill="#2a84c0"/>
<rect x="267.05" y="548.84" width="11.5" height="0.22" fill="#ffa000"/>
<rect x="267.05" y="548.57" width="11.5" height="0.28" fill="#4fa3f0"/>
<rect x="267.05" y="548.18" width="11.5" height="0.39" fill="#c9d3e0"/>
<rect x="267.05" y="547.80" width="11.5" height="0.39" fill="#9a94c8"/>
<rect x="280.50" y="709.80" width="11.5" height="102.70" fill="#0d4580"/>
<rect x="280.50" y="651.60" width="11.5" height="58.20" fill="#f24a00"/>
<rect x="280.50" y="603.30" width="11.5" height="48.30" fill="#62a30f"/>
<rect x="280.50" y="583.50" width="11.5" height="19.80" fill="#8a0028"/>
<rect x="280.50" y="580.10" width="11.5" height="3.40" fill="#474a0a"/>
<rect x="280.50" y="571.40" width="11.5" height="8.70" fill="#0e9a0e"/>
<rect x="280.50" y="567.80" width="11.5" height="3.60" fill="#4a0a72"/>
<rect x="280.50" y="563.00" width="11.5" height="4.80" fill="#d80000"/>
<rect x="280.50" y="561.88" width="11.5" height="1.12" fill="#ff7000"/>
<rect x="280.50" y="561.04" width="11.5" height="0.84" fill="#ff00ff"/>
<rect x="280.50" y="560.37" width="11.5" height="0.67" fill="#c44466"/>
<rect x="280.50" y="560.03" width="11.5" height="0.34" fill="#00f0ff"/>
<rect x="280.50" y="559.47" width="11.5" height="0.56" fill="#b9a20a"/>
<rect x="280.50" y="559.19" width="11.5" height="0.28" fill="#a9cbf0"/>
<rect x="280.50" y="558.91" width="11.5" height="0.28" fill="#f0301e"/>
<rect x="280.50" y="558.69" width="11.5" height="0.22" fill="#2a84c0"/>
<rect x="280.50" y="558.46" width="11.5" height="0.22" fill="#ffa000"/>
<rect x="280.50" y="558.18" width="11.5" height="0.28" fill="#4fa3f0"/>
<rect x="280.50" y="557.79" width="11.5" height="0.39" fill="#c9d3e0"/>
<rect x="280.50" y="557.40" width="11.5" height="0.39" fill="#9a94c8"/>
<rect x="293.95" y="744.50" width="11.5" height="68.00" fill="#0d4580"/>
<rect x="293.95" y="687.80" width="11.5" height="56.70" fill="#f24a00"/>
<rect x="293.95" y="647.50" width="11.5" height="40.30" fill="#62a30f"/>
<rect x="293.95" y="624.60" width="11.5" height="22.90" fill="#8a0028"/>
<rect x="293.95" y="615.40" width="11.5" height="9.20" fill="#474a0a"/>
<rect x="293.95" y="602.80" width="11.5" height="12.60" fill="#0e9a0e"/>
<rect x="293.95" y="593.60" width="11.5" height="9.20" fill="#4a0a72"/>
<rect x="293.95" y="589.00" width="11.5" height="4.60" fill="#d80000"/>
<rect x="293.95" y="587.74" width="11.5" height="1.26" fill="#ff7000"/>
<rect x="293.95" y="586.80" width="11.5" height="0.94" fill="#ff00ff"/>
<rect x="293.95" y="586.04" width="11.5" height="0.76" fill="#c44466"/>
<rect x="293.95" y="585.66" width="11.5" height="0.38" fill="#00f0ff"/>
<rect x="293.95" y="585.03" width="11.5" height="0.63" fill="#b9a20a"/>
<rect x="293.95" y="584.72" width="11.5" height="0.31" fill="#a9cbf0"/>
<rect x="293.95" y="584.40" width="11.5" height="0.31" fill="#f0301e"/>
<rect x="293.95" y="584.15" width="11.5" height="0.25" fill="#2a84c0"/>
<rect x="293.95" y="583.90" width="11.5" height="0.25" fill="#ffa000"/>
<rect x="293.95" y="583.58" width="11.5" height="0.31" fill="#4fa3f0"/>
<rect x="293.95" y="583.14" width="11.5" height="0.44" fill="#c9d3e0"/>
<rect x="293.95" y="582.70" width="11.5" height="0.44" fill="#9a94c8"/>
<rect x="307.40" y="742.10" width="11.5" height="70.40" fill="#0d4580"/>
<rect x="307.40" y="691.60" width="11.5" height="50.50" fill="#f24a00"/>
<rect x="307.40" y="650.60" width="11.5" height="41.00" fill="#62a30f"/>
<rect x="307.40" y="632.30" width="11.5" height="18.30" fill="#8a0028"/>
<rect x="307.40" y="565.80" width="11.5" height="66.50" fill="#474a0a"/>
<rect x="307.40" y="553.80" width="11.5" height="12.00" fill="#0e9a0e"/>
<rect x="307.40" y="545.30" width="11.5" height="8.50" fill="#4a0a72"/>
<rect x="307.40" y="540.70" width="11.5" height="4.60" fill="#d80000"/>
<rect x="307.40" y="538.88" width="11.5" height="1.82" fill="#ff7000"/>
<rect x="307.40" y="537.51" width="11.5" height="1.37" fill="#ff00ff"/>
<rect x="307.40" y="536.42" width="11.5" height="1.09" fill="#c44466"/>
<rect x="307.40" y="535.88" width="11.5" height="0.55" fill="#00f0ff"/>
<rect x="307.40" y="534.97" width="11.5" height="0.91" fill="#b9a20a"/>
<rect x="307.40" y="534.51" width="11.5" height="0.46" fill="#a9cbf0"/>
<rect x="307.40" y="534.06" width="11.5" height="0.46" fill="#f0301e"/>
<rect x="307.40" y="533.69" width="11.5" height="0.36" fill="#2a84c0"/>
<rect x="307.40" y="533.33" width="11.5" height="0.36" fill="#ffa000"/>
<rect x="307.40" y="532.87" width="11.5" height="0.46" fill="#4fa3f0"/>
<rect x="307.40" y="532.24" width="11.5" height="0.64" fill="#c9d3e0"/>
<rect x="307.40" y="531.60" width="11.5" height="0.64" fill="#9a94c8"/>
<rect x="320.85" y="750.10" width="11.5" height="62.40" fill="#0d4580"/>
<rect x="320.85" y="691.60" width="11.5" height="58.50" fill="#f24a00"/>
<rect x="320.85" y="652.20" width="11.5" height="39.40" fill="#62a30f"/>
<rect x="320.85" y="630.60" width="11.5" height="21.60" fill="#8a0028"/>
<rect x="320.85" y="627.40" width="11.5" height="3.20" fill="#474a0a"/>
<rect x="320.85" y="616.10" width="11.5" height="11.30" fill="#0e9a0e"/>
<rect x="320.85" y="594.80" width="11.5" height="21.30" fill="#4a0a72"/>
<rect x="320.85" y="590.00" width="11.5" height="4.80" fill="#d80000"/>
<rect x="320.85" y="588.70" width="11.5" height="1.30" fill="#ff7000"/>
<rect x="320.85" y="587.73" width="11.5" height="0.97" fill="#ff00ff"/>
<rect x="320.85" y="586.95" width="11.5" height="0.78" fill="#c44466"/>
<rect x="320.85" y="586.56" width="11.5" height="0.39" fill="#00f0ff"/>
<rect x="320.85" y="585.91" width="11.5" height="0.65" fill="#b9a20a"/>
<rect x="320.85" y="585.58" width="11.5" height="0.33" fill="#a9cbf0"/>
<rect x="320.85" y="585.25" width="11.5" height="0.33" fill="#f0301e"/>
<rect x="320.85" y="585.00" width="11.5" height="0.26" fill="#2a84c0"/>
<rect x="320.85" y="584.74" width="11.5" height="0.26" fill="#ffa000"/>
<rect x="320.85" y="584.41" width="11.5" height="0.33" fill="#4fa3f0"/>
<rect x="320.85" y="583.95" width="11.5" height="0.46" fill="#c9d3e0"/>
<rect x="320.85" y="583.50" width="11.5" height="0.46" fill="#9a94c8"/>
<rect x="334.30" y="761.40" width="11.5" height="51.10" fill="#0d4580"/>
<rect x="334.30" y="686.20" width="11.5" height="75.20" fill="#f24a00"/>
<rect x="334.30" y="651.20" width="11.5" height="35.00" fill="#62a30f"/>
<rect x="334.30" y="624.60" width="11.5" height="26.60" fill="#8a0028"/>
<rect x="334.30" y="621.00" width="11.5" height="3.60" fill="#474a0a"/>
<rect x="334.30" y="609.40" width="11.5" height="11.60" fill="#0e9a0e"/>
<rect x="334.30" y="589.60" width="11.5" height="19.80" fill="#4a0a72"/>
<rect x="334.30" y="582.30" width="11.5" height="7.30" fill="#d80000"/>
<rect x="334.30" y="581.34" width="11.5" height="0.96" fill="#ff7000"/>
<rect x="334.30" y="580.62" width="11.5" height="0.72" fill="#ff00ff"/>
<rect x="334.30" y="580.04" width="11.5" height="0.58" fill="#c44466"/>
<rect x="334.30" y="579.76" width="11.5" height="0.29" fill="#00f0ff"/>
<rect x="334.30" y="579.28" width="11.5" height="0.48" fill="#b9a20a"/>
<rect x="334.30" y="579.04" width="11.5" height="0.24" fill="#a9cbf0"/>
<rect x="334.30" y="578.80" width="11.5" height="0.24" fill="#f0301e"/>
<rect x="334.30" y="578.60" width="11.5" height="0.19" fill="#2a84c0"/>
<rect x="334.30" y="578.41" width="11.5" height="0.19" fill="#ffa000"/>
<rect x="334.30" y="578.17" width="11.5" height="0.24" fill="#4fa3f0"/>
<rect x="334.30" y="577.84" width="11.5" height="0.34" fill="#c9d3e0"/>
<rect x="334.30" y="577.50" width="11.5" height="0.34" fill="#9a94c8"/>
<rect x="347.75" y="749.00" width="11.5" height="63.50" fill="#0d4580"/>
<rect x="347.75" y="683.80" width="11.5" height="65.20" fill="#f24a00"/>
<rect x="347.75" y="643.40" width="11.5" height="40.40" fill="#62a30f"/>
<rect x="347.75" y="621.70" width="11.5" height="21.70" fill="#8a0028"/>
<rect x="347.75" y="616.60" width="11.5" height="5.10" fill="#474a0a"/>
<rect x="347.75" y="602.80" width="11.5" height="13.80" fill="#0e9a0e"/>
<rect x="347.75" y="592.50" width="11.5" height="10.30" fill="#4a0a72"/>
<rect x="347.75" y="587.10" width="11.5" height="5.40" fill="#d80000"/>
<rect x="347.75" y="586.14" width="11.5" height="0.96" fill="#ff7000"/>
<rect x="347.75" y="585.42" width="11.5" height="0.72" fill="#ff00ff"/>
<rect x="347.75" y="584.84" width="11.5" height="0.58" fill="#c44466"/>
<rect x="347.75" y="584.56" width="11.5" height="0.29" fill="#00f0ff"/>
<rect x="347.75" y="584.08" width="11.5" height="0.48" fill="#b9a20a"/>
<rect x="347.75" y="583.84" width="11.5" height="0.24" fill="#a9cbf0"/>
<rect x="347.75" y="583.60" width="11.5" height="0.24" fill="#f0301e"/>
<rect x="347.75" y="583.40" width="11.5" height="0.19" fill="#2a84c0"/>
<rect x="347.75" y="583.21" width="11.5" height="0.19" fill="#ffa000"/>
<rect x="347.75" y="582.97" width="11.5" height="0.24" fill="#4fa3f0"/>
<rect x="347.75" y="582.64" width="11.5" height="0.34" fill="#c9d3e0"/>
<rect x="347.75" y="582.30" width="11.5" height="0.34" fill="#9a94c8"/>
<rect x="361.20" y="716.90" width="11.5" height="95.60" fill="#0d4580"/>
<rect x="361.20" y="665.70" width="11.5" height="51.20" fill="#f24a00"/>
<rect x="361.20" y="624.60" width="11.5" height="41.10" fill="#62a30f"/>
<rect x="361.20" y="602.80" width="11.5" height="21.80" fill="#8a0028"/>
<rect x="361.20" y="580.60" width="11.5" height="22.20" fill="#474a0a"/>
<rect x="361.20" y="569.50" width="11.5" height="11.10" fill="#0e9a0e"/>
<rect x="361.20" y="559.90" width="11.5" height="9.60" fill="#4a0a72"/>
<rect x="361.20" y="554.50" width="11.5" height="5.40" fill="#d80000"/>
<rect x="361.20" y="553.30" width="11.5" height="1.20" fill="#ff7000"/>
<rect x="361.20" y="552.40" width="11.5" height="0.90" fill="#ff00ff"/>
<rect x="361.20" y="551.68" width="11.5" height="0.72" fill="#c44466"/>
<rect x="361.20" y="551.32" width="11.5" height="0.36" fill="#00f0ff"/>
<rect x="361.20" y="550.72" width="11.5" height="0.60" fill="#b9a20a"/>
<rect x="361.20" y="550.42" width="11.5" height="0.30" fill="#a9cbf0"/>
<rect x="361.20" y="550.12" width="11.5" height="0.30" fill="#f0301e"/>
<rect x="361.20" y="549.88" width="11.5" height="0.24" fill="#2a84c0"/>
<rect x="361.20" y="549.64" width="11.5" height="0.24" fill="#ffa000"/>
<rect x="361.20" y="549.34" width="11.5" height="0.30" fill="#4fa3f0"/>
<rect x="361.20" y="548.92" width="11.5" height="0.42" fill="#c9d3e0"/>
<rect x="361.20" y="548.50" width="11.5" height="0.42" fill="#9a94c8"/>
<rect x="374.65" y="746.10" width="11.5" height="66.40" fill="#0d4580"/>
<rect x="374.65" y="677.20" width="11.5" height="68.90" fill="#f24a00"/>
<rect x="374.65" y="637.90" width="11.5" height="39.30" fill="#62a30f"/>
<rect x="374.65" y="612.50" width="11.5" height="25.40" fill="#8a0028"/>
<rect x="374.65" y="600.40" width="11.5" height="12.10" fill="#474a0a"/>
<rect x="374.65" y="588.80" width="11.5" height="11.60" fill="#0e9a0e"/>
<rect x="374.65" y="568.60" width="11.5" height="20.20" fill="#4a0a72"/>
<rect x="374.65" y="563.00" width="11.5" height="5.60" fill="#d80000"/>
<rect x="374.65" y="562.04" width="11.5" height="0.96" fill="#ff7000"/>
<rect x="374.65" y="561.32" width="11.5" height="0.72" fill="#ff00ff"/>
<rect x="374.65" y="560.74" width="11.5" height="0.58" fill="#c44466"/>
<rect x="374.65" y="560.46" width="11.5" height="0.29" fill="#00f0ff"/>
<rect x="374.65" y="559.98" width="11.5" height="0.48" fill="#b9a20a"/>
<rect x="374.65" y="559.74" width="11.5" height="0.24" fill="#a9cbf0"/>
<rect x="374.65" y="559.50" width="11.5" height="0.24" fill="#f0301e"/>
<rect x="374.65" y="559.30" width="11.5" height="0.19" fill="#2a84c0"/>
<rect x="374.65" y="559.11" width="11.5" height="0.19" fill="#ffa000"/>
<rect x="374.65" y="558.87" width="11.5" height="0.24" fill="#4fa3f0"/>
<rect x="374.65" y="558.54" width="11.5" height="0.34" fill="#c9d3e0"/>
<rect x="374.65" y="558.20" width="11.5" height="0.34" fill="#9a94c8"/>
<rect x="388.10" y="768.30" width="11.5" height="44.20" fill="#0d4580"/>
<rect x="388.10" y="709.10" width="11.5" height="59.20" fill="#f24a00"/>
<rect x="388.10" y="681.40" width="11.5" height="27.70" fill="#62a30f"/>
<rect x="388.10" y="657.20" width="11.5" height="24.20" fill="#8a0028"/>
<rect x="388.10" y="654.10" width="11.5" height="3.10" fill="#474a0a"/>
<rect x="388.10" y="645.10" width="11.5" height="9.00" fill="#0e9a0e"/>
<rect x="388.10" y="640.80" width="11.5" height="4.30" fill="#4a0a72"/>
<rect x="388.10" y="634.30" width="11.5" height="6.50" fill="#d80000"/>
<rect x="388.10" y="633.08" width="11.5" height="1.22" fill="#ff7000"/>
<rect x="388.10" y="632.16" width="11.5" height="0.91" fill="#ff00ff"/>
<rect x="388.10" y="631.43" width="11.5" height="0.73" fill="#c44466"/>
<rect x="388.10" y="631.07" width="11.5" height="0.37" fill="#00f0ff"/>
<rect x="388.10" y="630.46" width="11.5" height="0.61" fill="#b9a20a"/>
<rect x="388.10" y="630.15" width="11.5" height="0.30" fill="#a9cbf0"/>
<rect x="388.10" y="629.85" width="11.5" height="0.30" fill="#f0301e"/>
<rect x="388.10" y="629.60" width="11.5" height="0.24" fill="#2a84c0"/>
<rect x="388.10" y="629.36" width="11.5" height="0.24" fill="#ffa000"/>
<rect x="388.10" y="629.05" width="11.5" height="0.30" fill="#4fa3f0"/>
<rect x="388.10" y="628.63" width="11.5" height="0.43" fill="#c9d3e0"/>
<rect x="388.10" y="628.20" width="11.5" height="0.43" fill="#9a94c8"/>
<rect x="401.55" y="765.20" width="11.5" height="47.30" fill="#0d4580"/>
<rect x="401.55" y="679.70" width="11.5" height="85.50" fill="#f24a00"/>
<rect x="401.55" y="645.90" width="11.5" height="33.80" fill="#62a30f"/>
<rect x="401.55" y="616.90" width="11.5" height="29.00" fill="#8a0028"/>
<rect x="401.55" y="611.30" width="11.5" height="5.60" fill="#474a0a"/>
<rect x="401.55" y="601.60" width="11.5" height="9.70" fill="#0e9a0e"/>
<rect x="401.55" y="596.80" width="11.5" height="4.80" fill="#4a0a72"/>
<rect x="401.55" y="590.00" width="11.5" height="6.80" fill="#d80000"/>
<rect x="401.55" y="588.80" width="11.5" height="1.20" fill="#ff7000"/>
<rect x="401.55" y="587.90" width="11.5" height="0.90" fill="#ff00ff"/>
<rect x="401.55" y="587.18" width="11.5" height="0.72" fill="#c44466"/>
<rect x="401.55" y="586.82" width="11.5" height="0.36" fill="#00f0ff"/>
<rect x="401.55" y="586.22" width="11.5" height="0.60" fill="#b9a20a"/>
<rect x="401.55" y="585.92" width="11.5" height="0.30" fill="#a9cbf0"/>
<rect x="401.55" y="585.62" width="11.5" height="0.30" fill="#f0301e"/>
<rect x="401.55" y="585.38" width="11.5" height="0.24" fill="#2a84c0"/>
<rect x="401.55" y="585.14" width="11.5" height="0.24" fill="#ffa000"/>
<rect x="401.55" y="584.84" width="11.5" height="0.30" fill="#4fa3f0"/>
<rect x="401.55" y="584.42" width="11.5" height="0.42" fill="#c9d3e0"/>
<rect x="401.55" y="584.00" width="11.5" height="0.42" fill="#9a94c8"/>
<rect x="415.00" y="749.00" width="11.5" height="63.50" fill="#0d4580"/>
<rect x="415.00" y="687.40" width="11.5" height="61.60" fill="#f24a00"/>
<rect x="415.00" y="642.00" width="11.5" height="45.40" fill="#62a30f"/>
<rect x="415.00" y="619.00" width="11.5" height="23.00" fill="#8a0028"/>
<rect x="415.00" y="615.70" width="11.5" height="3.30" fill="#474a0a"/>
<rect x="415.00" y="602.80" width="11.5" height="12.90" fill="#0e9a0e"/>
<rect x="415.00" y="588.40" width="11.5" height="14.40" fill="#4a0a72"/>
<rect x="415.00" y="583.50" width="11.5" height="4.90" fill="#d80000"/>
<rect x="415.00" y="582.20" width="11.5" height="1.30" fill="#ff7000"/>
<rect x="415.00" y="581.23" width="11.5" height="0.97" fill="#ff00ff"/>
<rect x="415.00" y="580.45" width="11.5" height="0.78" fill="#c44466"/>
<rect x="415.00" y="580.06" width="11.5" height="0.39" fill="#00f0ff"/>
<rect x="415.00" y="579.41" width="11.5" height="0.65" fill="#b9a20a"/>
<rect x="415.00" y="579.08" width="11.5" height="0.33" fill="#a9cbf0"/>
<rect x="415.00" y="578.75" width="11.5" height="0.33" fill="#f0301e"/>
<rect x="415.00" y="578.50" width="11.5" height="0.26" fill="#2a84c0"/>
<rect x="415.00" y="578.24" width="11.5" height="0.26" fill="#ffa000"/>
<rect x="415.00" y="577.91" width="11.5" height="0.33" fill="#4fa3f0"/>
<rect x="415.00" y="577.45" width="11.5" height="0.46" fill="#c9d3e0"/>
<rect x="415.00" y="577.00" width="11.5" height="0.46" fill="#9a94c8"/>
<rect x="428.45" y="744.20" width="11.5" height="68.30" fill="#0d4580"/>
<rect x="428.45" y="686.90" width="11.5" height="57.30" fill="#f24a00"/>
<rect x="428.45" y="640.50" width="11.5" height="46.40" fill="#62a30f"/>
<rect x="428.45" y="621.00" width="11.5" height="19.50" fill="#8a0028"/>
<rect x="428.45" y="598.50" width="11.5" height="22.50" fill="#474a0a"/>
<rect x="428.45" y="586.70" width="11.5" height="11.80" fill="#0e9a0e"/>
<rect x="428.45" y="567.10" width="11.5" height="19.60" fill="#4a0a72"/>
<rect x="428.45" y="561.80" width="11.5" height="5.30" fill="#d80000"/>
<rect x="428.45" y="560.68" width="11.5" height="1.12" fill="#ff7000"/>
<rect x="428.45" y="559.84" width="11.5" height="0.84" fill="#ff00ff"/>
<rect x="428.45" y="559.17" width="11.5" height="0.67" fill="#c44466"/>
<rect x="428.45" y="558.83" width="11.5" height="0.34" fill="#00f0ff"/>
<rect x="428.45" y="558.27" width="11.5" height="0.56" fill="#b9a20a"/>
<rect x="428.45" y="557.99" width="11.5" height="0.28" fill="#a9cbf0"/>
<rect x="428.45" y="557.71" width="11.5" height="0.28" fill="#f0301e"/>
<rect x="428.45" y="557.49" width="11.5" height="0.22" fill="#2a84c0"/>
<rect x="428.45" y="557.26" width="11.5" height="0.22" fill="#ffa000"/>
<rect x="428.45" y="556.98" width="11.5" height="0.28" fill="#4fa3f0"/>
<rect x="428.45" y="556.59" width="11.5" height="0.39" fill="#c9d3e0"/>
<rect x="428.45" y="556.20" width="11.5" height="0.39" fill="#9a94c8"/>
<rect x="441.90" y="756.00" width="11.5" height="56.50" fill="#0d4580"/>
<rect x="441.90" y="683.30" width="11.5" height="72.70" fill="#f24a00"/>
<rect x="441.90" y="644.00" width="11.5" height="39.30" fill="#62a30f"/>
<rect x="441.90" y="619.40" width="11.5" height="24.60" fill="#8a0028"/>
<rect x="441.90" y="616.30" width="11.5" height="3.10" fill="#474a0a"/>
<rect x="441.90" y="603.00" width="11.5" height="13.30" fill="#0e9a0e"/>
<rect x="441.90" y="586.40" width="11.5" height="16.60" fill="#4a0a72"/>
<rect x="441.90" y="579.60" width="11.5" height="6.80" fill="#d80000"/>
<rect x="441.90" y="578.78" width="11.5" height="0.82" fill="#ff7000"/>
<rect x="441.90" y="578.16" width="11.5" height="0.62" fill="#ff00ff"/>
<rect x="441.90" y="577.67" width="11.5" height="0.49" fill="#c44466"/>
<rect x="441.90" y="577.43" width="11.5" height="0.25" fill="#00f0ff"/>
<rect x="441.90" y="577.02" width="11.5" height="0.41" fill="#b9a20a"/>
<rect x="441.90" y="576.81" width="11.5" height="0.21" fill="#a9cbf0"/>
<rect x="441.90" y="576.61" width="11.5" height="0.21" fill="#f0301e"/>
<rect x="441.90" y="576.44" width="11.5" height="0.16" fill="#2a84c0"/>
<rect x="441.90" y="576.28" width="11.5" height="0.16" fill="#ffa000"/>
<rect x="441.90" y="576.07" width="11.5" height="0.21" fill="#4fa3f0"/>
<rect x="441.90" y="575.79" width="11.5" height="0.29" fill="#c9d3e0"/>
<rect x="441.90" y="575.50" width="11.5" height="0.29" fill="#9a94c8"/>
<rect x="42" y="822.3" width="128" height="3" fill="#000"/>
<rect x="174" y="822.3" width="118" height="3" fill="#000"/>
<rect x="296" y="822.3" width="158" height="3" fill="#000"/>
<line x1="34" y1="812.5" x2="37" y2="812.5" stroke="#333" stroke-width="1"/>
<text x="32.3" y="815.5" font-size="8.3" text-anchor="end" font-weight="normal" fill="#444" >0</text>
<line x1="34" y1="706" x2="37" y2="706" stroke="#333" stroke-width="1"/>
<text x="32.3" y="709" font-size="8.3" text-anchor="end" font-weight="normal" fill="#444" >10</text>
<line x1="34" y1="599.3" x2="37" y2="599.3" stroke="#333" stroke-width="1"/>
<text x="32.3" y="602.3" font-size="8.3" text-anchor="end" font-weight="normal" fill="#444" >20</text>
<line x1="34" y1="492.5" x2="37" y2="492.5" stroke="#333" stroke-width="1"/>
<text x="32.3" y="495.5" font-size="8.3" text-anchor="end" font-weight="normal" fill="#444" >30</text>
<text x="0" y="0" font-size="9.9" text-anchor="middle" fill="#000" transform="translate(19.4,629.3) rotate(-90)">Relative Abundance %</text>
<line x1="44.15" y1="831" x2="44.15" y2="834" stroke="#333" stroke-width="1"/>
<text x="0" y="0" font-size="7.8" text-anchor="end" fill="#333" transform="translate(48.35,841) rotate(-45)">Norm_1</text>
<line x1="57.60" y1="831" x2="57.60" y2="834" stroke="#333" stroke-width="1"/>
<text x="0" y="0" font-size="7.8" text-anchor="end" fill="#333" transform="translate(61.80,841) rotate(-45)">Norm_2</text>
<line x1="71.05" y1="831" x2="71.05" y2="834" stroke="#333" stroke-width="1"/>
<text x="0" y="0" font-size="7.8" text-anchor="end" fill="#333" transform="translate(75.25,841) rotate(-45)">Norm_3</text>
<line x1="84.50" y1="831" x2="84.50" y2="834" stroke="#333" stroke-width="1"/>
<text x="0" y="0" font-size="7.8" text-anchor="end" fill="#333" transform="translate(88.70,841) rotate(-45)">Norm_4</text>
<line x1="97.95" y1="831" x2="97.95" y2="834" stroke="#333" stroke-width="1"/>
<text x="0" y="0" font-size="7.8" text-anchor="end" fill="#333" transform="translate(102.15,841) rotate(-45)">Norm_5</text>
<line x1="111.40" y1="831" x2="111.40" y2="834" stroke="#333" stroke-width="1"/>
<text x="0" y="0" font-size="7.8" text-anchor="end" fill="#333" transform="translate(115.60,841) rotate(-45)">Norm_6</text>
<line x1="124.85" y1="831" x2="124.85" y2="834" stroke="#333" stroke-width="1"/>
<text x="0" y="0" font-size="7.8" text-anchor="end" fill="#333" transform="translate(129.05,841) rotate(-45)">Norm_7</text>
<line x1="138.30" y1="831" x2="138.30" y2="834" stroke="#333" stroke-width="1"/>
<text x="0" y="0" font-size="7.8" text-anchor="end" fill="#333" transform="translate(142.50,841) rotate(-45)">Norm_8</text>
<line x1="151.75" y1="831" x2="151.75" y2="834" stroke="#333" stroke-width="1"/>
<text x="0" y="0" font-size="7.8" text-anchor="end" fill="#333" transform="translate(155.95,841) rotate(-45)">Norm_9</text>
<line x1="165.20" y1="831" x2="165.20" y2="834" stroke="#333" stroke-width="1"/>
<text x="0" y="0" font-size="7.8" text-anchor="end" fill="#333" transform="translate(169.40,841) rotate(-45)">Norm_10</text>
<line x1="178.65" y1="831" x2="178.65" y2="834" stroke="#333" stroke-width="1"/>
<text x="0" y="0" font-size="7.8" text-anchor="end" fill="#333" transform="translate(182.85,841) rotate(-45)">MFL_1</text>
<line x1="192.10" y1="831" x2="192.10" y2="834" stroke="#333" stroke-width="1"/>
<text x="0" y="0" font-size="7.8" text-anchor="end" fill="#333" transform="translate(196.30,841) rotate(-45)">MFL_2</text>
<line x1="205.55" y1="831" x2="205.55" y2="834" stroke="#333" stroke-width="1"/>
<text x="0" y="0" font-size="7.8" text-anchor="end" fill="#333" transform="translate(209.75,841) rotate(-45)">MFL_3</text>
<line x1="219.00" y1="831" x2="219.00" y2="834" stroke="#333" stroke-width="1"/>
<text x="0" y="0" font-size="7.8" text-anchor="end" fill="#333" transform="translate(223.20,841) rotate(-45)">MFL_5</text>
<line x1="232.45" y1="831" x2="232.45" y2="834" stroke="#333" stroke-width="1"/>
<text x="0" y="0" font-size="7.8" text-anchor="end" fill="#333" transform="translate(236.65,841) rotate(-45)">MFL_6</text>
<line x1="245.90" y1="831" x2="245.90" y2="834" stroke="#333" stroke-width="1"/>
<text x="0" y="0" font-size="7.8" text-anchor="end" fill="#333" transform="translate(250.10,841) rotate(-45)">MFL_7</text>
<line x1="259.35" y1="831" x2="259.35" y2="834" stroke="#333" stroke-width="1"/>
<text x="0" y="0" font-size="7.8" text-anchor="end" fill="#333" transform="translate(263.55,841) rotate(-45)">MFL_8</text>
<line x1="272.80" y1="831" x2="272.80" y2="834" stroke="#333" stroke-width="1"/>
<text x="0" y="0" font-size="7.8" text-anchor="end" fill="#333" transform="translate(277.00,841) rotate(-45)">MFL_9</text>
<line x1="286.25" y1="831" x2="286.25" y2="834" stroke="#333" stroke-width="1"/>
<text x="0" y="0" font-size="7.8" text-anchor="end" fill="#333" transform="translate(290.45,841) rotate(-45)">MFL_10</text>
<line x1="299.70" y1="831" x2="299.70" y2="834" stroke="#333" stroke-width="1"/>
<text x="0" y="0" font-size="7.8" text-anchor="end" fill="#333" transform="translate(303.90,841) rotate(-45)">SFL_1</text>
<line x1="313.15" y1="831" x2="313.15" y2="834" stroke="#333" stroke-width="1"/>
<text x="0" y="0" font-size="7.8" text-anchor="end" fill="#333" transform="translate(317.35,841) rotate(-45)">SFL_2</text>
<line x1="326.60" y1="831" x2="326.60" y2="834" stroke="#333" stroke-width="1"/>
<text x="0" y="0" font-size="7.8" text-anchor="end" fill="#333" transform="translate(330.80,841) rotate(-45)">SFL_3</text>
<line x1="340.05" y1="831" x2="340.05" y2="834" stroke="#333" stroke-width="1"/>
<text x="0" y="0" font-size="7.8" text-anchor="end" fill="#333" transform="translate(344.25,841) rotate(-45)">SFL_4</text>
<line x1="353.50" y1="831" x2="353.50" y2="834" stroke="#333" stroke-width="1"/>
<text x="0" y="0" font-size="7.8" text-anchor="end" fill="#333" transform="translate(357.70,841) rotate(-45)">SFL_5</text>
<line x1="366.95" y1="831" x2="366.95" y2="834" stroke="#333" stroke-width="1"/>
<text x="0" y="0" font-size="7.8" text-anchor="end" fill="#333" transform="translate(371.15,841) rotate(-45)">SFL_6</text>
<line x1="380.40" y1="831" x2="380.40" y2="834" stroke="#333" stroke-width="1"/>
<text x="0" y="0" font-size="7.8" text-anchor="end" fill="#333" transform="translate(384.60,841) rotate(-45)">SFL_7</text>
<line x1="393.85" y1="831" x2="393.85" y2="834" stroke="#333" stroke-width="1"/>
<text x="0" y="0" font-size="7.8" text-anchor="end" fill="#333" transform="translate(398.05,841) rotate(-45)">SFL_8</text>
<line x1="407.30" y1="831" x2="407.30" y2="834" stroke="#333" stroke-width="1"/>
<text x="0" y="0" font-size="7.8" text-anchor="end" fill="#333" transform="translate(411.50,841) rotate(-45)">SFL_9</text>
<line x1="420.75" y1="831" x2="420.75" y2="834" stroke="#333" stroke-width="1"/>
<text x="0" y="0" font-size="7.8" text-anchor="end" fill="#333" transform="translate(424.95,841) rotate(-45)">SFL_10</text>
<line x1="434.20" y1="831" x2="434.20" y2="834" stroke="#333" stroke-width="1"/>
<text x="0" y="0" font-size="7.8" text-anchor="end" fill="#333" transform="translate(438.40,841) rotate(-45)">SFL_11</text>
<line x1="447.65" y1="831" x2="447.65" y2="834" stroke="#333" stroke-width="1"/>
<text x="0" y="0" font-size="7.8" text-anchor="end" fill="#333" transform="translate(451.85,841) rotate(-45)">SFL_12</text>
<text x="471" y="476" font-size="9.8" text-anchor="start" font-weight="normal" fill="#000" >taxonomy</text>
<rect x="471" y="482.00" width="14" height="14" fill="#9a94c8"/>
<text x="491" y="492.0" font-size="7.9" text-anchor="start" font-weight="normal" fill="#111" >Burkholderiales</text>
<rect x="471" y="497.53" width="14" height="14" fill="#c9d3e0"/>
<text x="491" y="507.53" font-size="7.9" text-anchor="start" font-weight="normal" fill="#111" >Spirochaetia</text>
<rect x="471" y="513.06" width="14" height="14" fill="#4fa3f0"/>
<text x="491" y="523.06" font-size="7.9" text-anchor="start" font-weight="normal" fill="#111" >Sphingobacteriales</text>
<rect x="471" y="528.59" width="14" height="14" fill="#ffa000"/>
<text x="491" y="538.59" font-size="7.9" text-anchor="start" font-weight="normal" fill="#111" >Gammaproteobacteria</text>
<rect x="471" y="544.12" width="14" height="14" fill="#2a84c0"/>
<text x="491" y="554.12" font-size="7.9" text-anchor="start" font-weight="normal" fill="#111" >Rhizobiales</text>
<rect x="471" y="559.65" width="14" height="14" fill="#f0301e"/>
<text x="491" y="569.65" font-size="7.9" text-anchor="start" font-weight="normal" fill="#111" >Bacillales</text>
<rect x="471" y="575.18" width="14" height="14" fill="#a9cbf0"/>
<text x="491" y="585.18" font-size="7.9" text-anchor="start" font-weight="normal" fill="#111" >Thiotrichales</text>
<rect x="471" y="590.71" width="14" height="14" fill="#b9a20a"/>
<text x="491" y="600.71" font-size="7.9" text-anchor="start" font-weight="normal" fill="#111" >Coriobacteriia</text>
<rect x="471" y="606.24" width="14" height="14" fill="#00f0ff"/>
<text x="491" y="616.24" font-size="7.9" text-anchor="start" font-weight="normal" fill="#111" >Coriobacteriales</text>
<rect x="471" y="621.77" width="14" height="14" fill="#c44466"/>
<text x="491" y="631.77" font-size="7.9" text-anchor="start" font-weight="normal" fill="#111" >Actinobacteria</text>
<rect x="471" y="637.30" width="14" height="14" fill="#ff00ff"/>
<text x="491" y="647.3" font-size="7.9" text-anchor="start" font-weight="normal" fill="#111" >Acidaminococcales</text>
<rect x="471" y="652.83" width="14" height="14" fill="#ff7000"/>
<text x="491" y="662.8299999999999" font-size="7.9" text-anchor="start" font-weight="normal" fill="#111" >Erysipelotrichales</text>
<rect x="471" y="668.36" width="14" height="14" fill="#d80000"/>
<text x="491" y="678.36" font-size="7.9" text-anchor="start" font-weight="normal" fill="#111" >Bacteroidia</text>
<rect x="471" y="683.89" width="14" height="14" fill="#4a0a72"/>
<text x="491" y="693.89" font-size="7.9" text-anchor="start" font-weight="normal" fill="#111" >Spirochaetales</text>
<rect x="471" y="699.42" width="14" height="14" fill="#0e9a0e"/>
<text x="491" y="709.42" font-size="7.9" text-anchor="start" font-weight="normal" fill="#111" >Clostridia</text>
<rect x="471" y="714.95" width="14" height="14" fill="#474a0a"/>
<text x="491" y="724.95" font-size="7.9" text-anchor="start" font-weight="normal" fill="#111" >Bifidobacteriales</text>
<rect x="471" y="730.48" width="14" height="14" fill="#8a0028"/>
<text x="491" y="740.48" font-size="7.9" text-anchor="start" font-weight="normal" fill="#111" >Bacteroidetes</text>
<rect x="471" y="746.01" width="14" height="14" fill="#62a30f"/>
<text x="491" y="756.01" font-size="7.9" text-anchor="start" font-weight="normal" fill="#111" >Firmicutes</text>
<rect x="471" y="761.54" width="14" height="14" fill="#f24a00"/>
<text x="491" y="771.54" font-size="7.9" text-anchor="start" font-weight="normal" fill="#111" >Bacteroidales</text>
<rect x="471" y="777.07" width="14" height="14" fill="#0d4580"/>
<text x="491" y="787.0699999999999" font-size="7.9" text-anchor="start" font-weight="normal" fill="#111" >Clostridiales</text>
<text x="858.7" y="411.5" font-size="20.6" text-anchor="middle" font-weight="bold" fill="#000" >genus</text>
<rect x="657.5" y="426" width="421.5" height="407.5" fill="#fff" stroke="#333" stroke-width="1"/>
<rect x="658.30" y="702.00" width="11.7" height="113.50" fill="#0d4580"/>
<rect x="658.30" y="651.80" width="11.7" height="50.20" fill="#f24a00"/>
<rect x="658.30" y="639.00" width="11.7" height="12.80" fill="#62a30f"/>
<rect x="658.30" y="625.00" width="11.7" height="14.00" fill="#8a0028"/>
<rect x="658.30" y="604.40" width="11.7" height="20.60" fill="#474a0a"/>
<rect x="658.30" y="600.80" width="11.7" height="3.60" fill="#0e9a0e"/>
<rect x="658.30" y="598.00" width="11.7" height="2.80" fill="#4a0a72"/>
<rect x="658.30" y="594.50" width="11.7" height="3.50" fill="#d80000"/>
<rect x="658.30" y="591.77" width="11.7" height="2.73" fill="#ff7000"/>
<rect x="658.30" y="589.82" width="11.7" height="1.95" fill="#ff00ff"/>
<rect x="658.30" y="588.26" width="11.7" height="1.56" fill="#c44466"/>
<rect x="658.30" y="586.50" width="11.7" height="1.75" fill="#00f0ff"/>
<rect x="658.30" y="584.95" width="11.7" height="1.56" fill="#b9a20a"/>
<rect x="658.30" y="583.39" width="11.7" height="1.56" fill="#a9cbf0"/>
<rect x="658.30" y="581.83" width="11.7" height="1.56" fill="#f0301e"/>
<rect x="658.30" y="580.66" width="11.7" height="1.17" fill="#2a84c0"/>
<rect x="658.30" y="579.49" width="11.7" height="1.17" fill="#ffa000"/>
<rect x="658.30" y="577.93" width="11.7" height="1.56" fill="#4fa3f0"/>
<rect x="658.30" y="576.37" width="11.7" height="1.56" fill="#c9d3e0"/>
<rect x="658.30" y="575.00" width="11.7" height="1.37" fill="#9a94c8"/>
<rect x="671.84" y="668.60" width="11.7" height="146.90" fill="#0d4580"/>
<rect x="671.84" y="613.40" width="11.7" height="55.20" fill="#f24a00"/>
<rect x="671.84" y="595.00" width="11.7" height="18.40" fill="#62a30f"/>
<rect x="671.84" y="578.40" width="11.7" height="16.60" fill="#8a0028"/>
<rect x="671.84" y="559.90" width="11.7" height="18.50" fill="#474a0a"/>
<rect x="671.84" y="551.10" width="11.7" height="8.80" fill="#0e9a0e"/>
<rect x="671.84" y="547.30" width="11.7" height="3.80" fill="#4a0a72"/>
<rect x="671.84" y="541.00" width="11.7" height="6.30" fill="#d80000"/>
<rect x="671.84" y="538.94" width="11.7" height="2.06" fill="#ff7000"/>
<rect x="671.84" y="537.47" width="11.7" height="1.47" fill="#ff00ff"/>
<rect x="671.84" y="536.30" width="11.7" height="1.18" fill="#c44466"/>
<rect x="671.84" y="534.97" width="11.7" height="1.32" fill="#00f0ff"/>
<rect x="671.84" y="533.80" width="11.7" height="1.18" fill="#b9a20a"/>
<rect x="671.84" y="532.62" width="11.7" height="1.18" fill="#a9cbf0"/>
<rect x="671.84" y="531.44" width="11.7" height="1.18" fill="#f0301e"/>
<rect x="671.84" y="530.56" width="11.7" height="0.88" fill="#2a84c0"/>
<rect x="671.84" y="529.68" width="11.7" height="0.88" fill="#ffa000"/>
<rect x="671.84" y="528.50" width="11.7" height="1.18" fill="#4fa3f0"/>
<rect x="671.84" y="527.33" width="11.7" height="1.18" fill="#c9d3e0"/>
<rect x="671.84" y="526.30" width="11.7" height="1.03" fill="#9a94c8"/>
<rect x="685.38" y="762.00" width="11.7" height="53.50" fill="#0d4580"/>
<rect x="685.38" y="713.10" width="11.7" height="48.90" fill="#f24a00"/>
<rect x="685.38" y="705.80" width="11.7" height="7.30" fill="#62a30f"/>
<rect x="685.38" y="691.10" width="11.7" height="14.70" fill="#8a0028"/>
<rect x="685.38" y="669.00" width="11.7" height="22.10" fill="#474a0a"/>
<rect x="685.38" y="665.90" width="11.7" height="3.10" fill="#0e9a0e"/>
<rect x="685.38" y="661.00" width="11.7" height="4.90" fill="#4a0a72"/>
<rect x="685.38" y="651.80" width="11.7" height="9.20" fill="#d80000"/>
<rect x="685.38" y="649.25" width="11.7" height="2.55" fill="#ff7000"/>
<rect x="685.38" y="647.43" width="11.7" height="1.82" fill="#ff00ff"/>
<rect x="685.38" y="645.98" width="11.7" height="1.46" fill="#c44466"/>
<rect x="685.38" y="644.34" width="11.7" height="1.64" fill="#00f0ff"/>
<rect x="685.38" y="642.88" width="11.7" height="1.46" fill="#b9a20a"/>
<rect x="685.38" y="637.42" width="11.7" height="5.46" fill="#a9cbf0"/>
<rect x="685.38" y="635.97" width="11.7" height="1.46" fill="#f0301e"/>
<rect x="685.38" y="634.88" width="11.7" height="1.09" fill="#2a84c0"/>
<rect x="685.38" y="633.79" width="11.7" height="1.09" fill="#ffa000"/>
<rect x="685.38" y="632.33" width="11.7" height="1.46" fill="#4fa3f0"/>
<rect x="685.38" y="630.87" width="11.7" height="1.46" fill="#c9d3e0"/>
<rect x="685.38" y="629.60" width="11.7" height="1.27" fill="#9a94c8"/>
<rect x="698.92" y="761.00" width="11.7" height="54.50" fill="#0d4580"/>
<rect x="698.92" y="719.80" width="11.7" height="41.20" fill="#f24a00"/>
<rect x="698.92" y="713.50" width="11.7" height="6.30" fill="#62a30f"/>
<rect x="698.92" y="686.20" width="11.7" height="27.30" fill="#8a0028"/>
<rect x="698.92" y="658.50" width="11.7" height="27.70" fill="#474a0a"/>
<rect x="698.92" y="650.10" width="11.7" height="8.40" fill="#0e9a0e"/>
<rect x="698.92" y="640.70" width="11.7" height="9.40" fill="#4a0a72"/>
<rect x="698.92" y="636.50" width="11.7" height="4.20" fill="#d80000"/>
<rect x="698.92" y="633.94" width="11.7" height="2.56" fill="#ff7000"/>
<rect x="698.92" y="632.11" width="11.7" height="1.83" fill="#ff00ff"/>
<rect x="698.92" y="630.64" width="11.7" height="1.46" fill="#c44466"/>
<rect x="698.92" y="629.00" width="11.7" height="1.65" fill="#00f0ff"/>
<rect x="698.92" y="627.53" width="11.7" height="1.46" fill="#b9a20a"/>
<rect x="698.92" y="626.07" width="11.7" height="1.46" fill="#a9cbf0"/>
<rect x="698.92" y="624.61" width="11.7" height="1.46" fill="#f0301e"/>
<rect x="698.92" y="623.51" width="11.7" height="1.10" fill="#2a84c0"/>
<rect x="698.92" y="622.41" width="11.7" height="1.10" fill="#ffa000"/>
<rect x="698.92" y="620.95" width="11.7" height="1.46" fill="#4fa3f0"/>
<rect x="698.92" y="619.48" width="11.7" height="1.46" fill="#c9d3e0"/>
<rect x="698.92" y="618.20" width="11.7" height="1.28" fill="#9a94c8"/>
<rect x="712.46" y="740.40" width="11.7" height="75.10" fill="#0d4580"/>
<rect x="712.46" y="653.90" width="11.7" height="86.50" fill="#f24a00"/>
<rect x="712.46" y="643.80" width="11.7" height="10.10" fill="#62a30f"/>
<rect x="712.46" y="626.60" width="11.7" height="17.20" fill="#8a0028"/>
<rect x="712.46" y="597.70" width="11.7" height="28.90" fill="#474a0a"/>
<rect x="712.46" y="595.00" width="11.7" height="2.70" fill="#0e9a0e"/>
<rect x="712.46" y="592.00" width="11.7" height="3.00" fill="#4a0a72"/>
<rect x="712.46" y="587.20" width="11.7" height="4.80" fill="#d80000"/>
<rect x="712.46" y="585.09" width="11.7" height="2.11" fill="#ff7000"/>
<rect x="712.46" y="583.58" width="11.7" height="1.51" fill="#ff00ff"/>
<rect x="712.46" y="582.37" width="11.7" height="1.21" fill="#c44466"/>
<rect x="712.46" y="581.01" width="11.7" height="1.36" fill="#00f0ff"/>
<rect x="712.46" y="579.80" width="11.7" height="1.21" fill="#b9a20a"/>
<rect x="712.46" y="578.59" width="11.7" height="1.21" fill="#a9cbf0"/>
<rect x="712.46" y="577.39" width="11.7" height="1.21" fill="#f0301e"/>
<rect x="712.46" y="576.48" width="11.7" height="0.91" fill="#2a84c0"/>
<rect x="712.46" y="575.57" width="11.7" height="0.91" fill="#ffa000"/>
<rect x="712.46" y="574.37" width="11.7" height="1.21" fill="#4fa3f0"/>
<rect x="712.46" y="573.16" width="11.7" height="1.21" fill="#c9d3e0"/>
<rect x="712.46" y="572.10" width="11.7" height="1.06" fill="#9a94c8"/>
<rect x="726.00" y="757.80" width="11.7" height="57.70" fill="#0d4580"/>
<rect x="726.00" y="649.70" width="11.7" height="108.10" fill="#f24a00"/>
<rect x="726.00" y="642.40" width="11.7" height="7.30" fill="#62a30f"/>
<rect x="726.00" y="621.80" width="11.7" height="20.60" fill="#8a0028"/>
<rect x="726.00" y="594.50" width="11.7" height="27.30" fill="#474a0a"/>
<rect x="726.00" y="591.00" width="11.7" height="3.50" fill="#0e9a0e"/>
<rect x="726.00" y="586.80" width="11.7" height="4.20" fill="#4a0a72"/>
<rect x="726.00" y="584.00" width="11.7" height="2.80" fill="#d80000"/>
<rect x="726.00" y="582.04" width="11.7" height="1.96" fill="#ff7000"/>
<rect x="726.00" y="580.64" width="11.7" height="1.40" fill="#ff00ff"/>
<rect x="726.00" y="579.52" width="11.7" height="1.12" fill="#c44466"/>
<rect x="726.00" y="578.26" width="11.7" height="1.26" fill="#00f0ff"/>
<rect x="726.00" y="577.14" width="11.7" height="1.12" fill="#b9a20a"/>
<rect x="726.00" y="576.02" width="11.7" height="1.12" fill="#a9cbf0"/>
<rect x="726.00" y="574.90" width="11.7" height="1.12" fill="#f0301e"/>
<rect x="726.00" y="574.06" width="11.7" height="0.84" fill="#2a84c0"/>
<rect x="726.00" y="573.22" width="11.7" height="0.84" fill="#ffa000"/>
<rect x="726.00" y="572.10" width="11.7" height="1.12" fill="#4fa3f0"/>
<rect x="726.00" y="570.98" width="11.7" height="1.12" fill="#c9d3e0"/>
<rect x="726.00" y="570.00" width="11.7" height="0.98" fill="#9a94c8"/>
<rect x="739.54" y="698.80" width="11.7" height="116.70" fill="#0d4580"/>
<rect x="739.54" y="653.30" width="11.7" height="45.50" fill="#f24a00"/>
<rect x="739.54" y="644.90" width="11.7" height="8.40" fill="#62a30f"/>
<rect x="739.54" y="628.10" width="11.7" height="16.80" fill="#8a0028"/>
<rect x="739.54" y="605.60" width="11.7" height="22.50" fill="#474a0a"/>
<rect x="739.54" y="596.00" width="11.7" height="9.60" fill="#0e9a0e"/>
<rect x="739.54" y="592.40" width="11.7" height="3.60" fill="#4a0a72"/>
<rect x="739.54" y="589.30" width="11.7" height="3.10" fill="#d80000"/>
<rect x="739.54" y="586.79" width="11.7" height="2.51" fill="#ff7000"/>
<rect x="739.54" y="585.00" width="11.7" height="1.79" fill="#ff00ff"/>
<rect x="739.54" y="583.57" width="11.7" height="1.43" fill="#c44466"/>
<rect x="739.54" y="581.96" width="11.7" height="1.61" fill="#00f0ff"/>
<rect x="739.54" y="580.53" width="11.7" height="1.43" fill="#b9a20a"/>
<rect x="739.54" y="579.10" width="11.7" height="1.43" fill="#a9cbf0"/>
<rect x="739.54" y="577.66" width="11.7" height="1.43" fill="#f0301e"/>
<rect x="739.54" y="576.59" width="11.7" height="1.07" fill="#2a84c0"/>
<rect x="739.54" y="575.52" width="11.7" height="1.07" fill="#ffa000"/>
<rect x="739.54" y="574.09" width="11.7" height="1.43" fill="#4fa3f0"/>
<rect x="739.54" y="572.65" width="11.7" height="1.43" fill="#c9d3e0"/>
<rect x="739.54" y="571.40" width="11.7" height="1.25" fill="#9a94c8"/>
<rect x="753.08" y="759.30" width="11.7" height="56.20" fill="#0d4580"/>
<rect x="753.08" y="683.40" width="11.7" height="75.90" fill="#f24a00"/>
<rect x="753.08" y="677.40" width="11.7" height="6.00" fill="#62a30f"/>
<rect x="753.08" y="663.60" width="11.7" height="13.80" fill="#8a0028"/>
<rect x="753.08" y="614.20" width="11.7" height="49.40" fill="#474a0a"/>
<rect x="753.08" y="610.70" width="11.7" height="3.50" fill="#0e9a0e"/>
<rect x="753.08" y="606.50" width="11.7" height="4.20" fill="#4a0a72"/>
<rect x="753.08" y="604.20" width="11.7" height="2.30" fill="#d80000"/>
<rect x="753.08" y="601.33" width="11.7" height="2.87" fill="#ff7000"/>
<rect x="753.08" y="599.27" width="11.7" height="2.05" fill="#ff00ff"/>
<rect x="753.08" y="597.63" width="11.7" height="1.64" fill="#c44466"/>
<rect x="753.08" y="595.17" width="11.7" height="2.46" fill="#00f0ff"/>
<rect x="753.08" y="593.53" width="11.7" height="1.64" fill="#b9a20a"/>
<rect x="753.08" y="591.88" width="11.7" height="1.64" fill="#a9cbf0"/>
<rect x="753.08" y="590.24" width="11.7" height="1.64" fill="#f0301e"/>
<rect x="753.08" y="589.01" width="11.7" height="1.23" fill="#2a84c0"/>
<rect x="753.08" y="577.72" width="11.7" height="11.29" fill="#ffa000"/>
<rect x="753.08" y="576.08" width="11.7" height="1.64" fill="#4fa3f0"/>
<rect x="753.08" y="574.44" width="11.7" height="1.64" fill="#c9d3e0"/>
<rect x="753.08" y="573.00" width="11.7" height="1.44" fill="#9a94c8"/>
<rect x="766.62" y="763.00" width="11.7" height="52.50" fill="#0d4580"/>
<rect x="766.62" y="718.00" width="11.7" height="45.00" fill="#f24a00"/>
<rect x="766.62" y="711.10" width="11.7" height="6.90" fill="#62a30f"/>
<rect x="766.62" y="686.60" width="11.7" height="24.50" fill="#8a0028"/>
<rect x="766.62" y="660.30" width="11.7" height="26.30" fill="#474a0a"/>
<rect x="766.62" y="655.70" width="11.7" height="4.60" fill="#0e9a0e"/>
<rect x="766.62" y="650.90" width="11.7" height="4.80" fill="#4a0a72"/>
<rect x="766.62" y="634.70" width="11.7" height="16.20" fill="#d80000"/>
<rect x="766.62" y="631.79" width="11.7" height="2.91" fill="#ff7000"/>
<rect x="766.62" y="629.71" width="11.7" height="2.08" fill="#ff00ff"/>
<rect x="766.62" y="628.04" width="11.7" height="1.66" fill="#c44466"/>
<rect x="766.62" y="626.17" width="11.7" height="1.87" fill="#00f0ff"/>
<rect x="766.62" y="624.51" width="11.7" height="1.66" fill="#b9a20a"/>
<rect x="766.62" y="622.84" width="11.7" height="1.66" fill="#a9cbf0"/>
<rect x="766.62" y="621.18" width="11.7" height="1.66" fill="#f0301e"/>
<rect x="766.62" y="619.93" width="11.7" height="1.25" fill="#2a84c0"/>
<rect x="766.62" y="618.68" width="11.7" height="1.25" fill="#ffa000"/>
<rect x="766.62" y="617.02" width="11.7" height="1.66" fill="#4fa3f0"/>
<rect x="766.62" y="615.36" width="11.7" height="1.66" fill="#c9d3e0"/>
<rect x="766.62" y="613.90" width="11.7" height="1.46" fill="#9a94c8"/>
<rect x="780.16" y="743.40" width="11.7" height="72.10" fill="#0d4580"/>
<rect x="780.16" y="706.50" width="11.7" height="36.90" fill="#f24a00"/>
<rect x="780.16" y="700.50" width="11.7" height="6.00" fill="#62a30f"/>
<rect x="780.16" y="664.20" width="11.7" height="36.30" fill="#8a0028"/>
<rect x="780.16" y="645.80" width="11.7" height="18.40" fill="#474a0a"/>
<rect x="780.16" y="637.00" width="11.7" height="8.80" fill="#0e9a0e"/>
<rect x="780.16" y="629.60" width="11.7" height="7.40" fill="#4a0a72"/>
<rect x="780.16" y="623.40" width="11.7" height="6.20" fill="#d80000"/>
<rect x="780.16" y="620.61" width="11.7" height="2.79" fill="#ff7000"/>
<rect x="780.16" y="618.62" width="11.7" height="1.99" fill="#ff00ff"/>
<rect x="780.16" y="617.03" width="11.7" height="1.59" fill="#c44466"/>
<rect x="780.16" y="615.24" width="11.7" height="1.79" fill="#00f0ff"/>
<rect x="780.16" y="613.65" width="11.7" height="1.59" fill="#b9a20a"/>
<rect x="780.16" y="612.06" width="11.7" height="1.59" fill="#a9cbf0"/>
<rect x="780.16" y="610.47" width="11.7" height="1.59" fill="#f0301e"/>
<rect x="780.16" y="609.27" width="11.7" height="1.19" fill="#2a84c0"/>
<rect x="780.16" y="608.08" width="11.7" height="1.19" fill="#ffa000"/>
<rect x="780.16" y="606.49" width="11.7" height="1.59" fill="#4fa3f0"/>
<rect x="780.16" y="604.89" width="11.7" height="1.59" fill="#c9d3e0"/>
<rect x="780.16" y="603.50" width="11.7" height="1.39" fill="#9a94c8"/>
<rect x="793.70" y="739.70" width="11.7" height="75.80" fill="#0d4580"/>
<rect x="793.70" y="687.80" width="11.7" height="51.90" fill="#f24a00"/>
<rect x="793.70" y="668.20" width="11.7" height="19.60" fill="#62a30f"/>
<rect x="793.70" y="646.20" width="11.7" height="22.00" fill="#8a0028"/>
<rect x="793.70" y="625.00" width="11.7" height="21.20" fill="#474a0a"/>
<rect x="793.70" y="618.50" width="11.7" height="6.50" fill="#0e9a0e"/>
<rect x="793.70" y="611.60" width="11.7" height="6.90" fill="#4a0a72"/>
<rect x="793.70" y="608.80" width="11.7" height="2.80" fill="#d80000"/>
<rect x="793.70" y="606.06" width="11.7" height="2.74" fill="#ff7000"/>
<rect x="793.70" y="604.10" width="11.7" height="1.96" fill="#ff00ff"/>
<rect x="793.70" y="602.53" width="11.7" height="1.57" fill="#c44466"/>
<rect x="793.70" y="600.76" width="11.7" height="1.76" fill="#00f0ff"/>
<rect x="793.70" y="599.20" width="11.7" height="1.57" fill="#b9a20a"/>
<rect x="793.70" y="597.63" width="11.7" height="1.57" fill="#a9cbf0"/>
<rect x="793.70" y="596.06" width="11.7" height="1.57" fill="#f0301e"/>
<rect x="793.70" y="594.88" width="11.7" height="1.18" fill="#2a84c0"/>
<rect x="793.70" y="593.71" width="11.7" height="1.18" fill="#ffa000"/>
<rect x="793.70" y="592.14" width="11.7" height="1.57" fill="#4fa3f0"/>
<rect x="793.70" y="590.57" width="11.7" height="1.57" fill="#c9d3e0"/>
<rect x="793.70" y="589.20" width="11.7" height="1.37" fill="#9a94c8"/>
<rect x="807.24" y="784.70" width="11.7" height="30.80" fill="#0d4580"/>
<rect x="807.24" y="752.00" width="11.7" height="32.70" fill="#f24a00"/>
<rect x="807.24" y="575.40" width="11.7" height="176.60" fill="#62a30f"/>
<rect x="807.24" y="555.30" width="11.7" height="20.10" fill="#8a0028"/>
<rect x="807.24" y="538.50" width="11.7" height="16.80" fill="#474a0a"/>
<rect x="807.24" y="536.20" width="11.7" height="2.30" fill="#0e9a0e"/>
<rect x="807.24" y="532.20" width="11.7" height="4.00" fill="#4a0a72"/>
<rect x="807.24" y="530.40" width="11.7" height="1.80" fill="#d80000"/>
<rect x="807.24" y="528.04" width="11.7" height="2.36" fill="#ff7000"/>
<rect x="807.24" y="526.36" width="11.7" height="1.68" fill="#ff00ff"/>
<rect x="807.24" y="525.01" width="11.7" height="1.35" fill="#c44466"/>
<rect x="807.24" y="523.49" width="11.7" height="1.52" fill="#00f0ff"/>
<rect x="807.24" y="522.15" width="11.7" height="1.35" fill="#b9a20a"/>
<rect x="807.24" y="520.80" width="11.7" height="1.35" fill="#a9cbf0"/>
<rect x="807.24" y="519.45" width="11.7" height="1.35" fill="#f0301e"/>
<rect x="807.24" y="516.08" width="11.7" height="3.37" fill="#2a84c0"/>
<rect x="807.24" y="515.07" width="11.7" height="1.01" fill="#ffa000"/>
<rect x="807.24" y="513.73" width="11.7" height="1.35" fill="#4fa3f0"/>
<rect x="807.24" y="512.38" width="11.7" height="1.35" fill="#c9d3e0"/>
<rect x="807.24" y="511.20" width="11.7" height="1.18" fill="#9a94c8"/>
<rect x="820.78" y="779.00" width="11.7" height="36.50" fill="#0d4580"/>
<rect x="820.78" y="749.20" width="11.7" height="29.80" fill="#f24a00"/>
<rect x="820.78" y="739.70" width="11.7" height="9.50" fill="#62a30f"/>
<rect x="820.78" y="717.80" width="11.7" height="21.90" fill="#8a0028"/>
<rect x="820.78" y="695.40" width="11.7" height="22.40" fill="#474a0a"/>
<rect x="820.78" y="685.00" width="11.7" height="10.40" fill="#0e9a0e"/>
<rect x="820.78" y="679.70" width="11.7" height="5.30" fill="#4a0a72"/>
<rect x="820.78" y="669.50" width="11.7" height="10.20" fill="#d80000"/>
<rect x="820.78" y="666.60" width="11.7" height="2.90" fill="#ff7000"/>
<rect x="820.78" y="664.53" width="11.7" height="2.07" fill="#ff00ff"/>
<rect x="820.78" y="662.88" width="11.7" height="1.66" fill="#c44466"/>
<rect x="820.78" y="661.01" width="11.7" height="1.86" fill="#00f0ff"/>
<rect x="820.78" y="659.36" width="11.7" height="1.66" fill="#b9a20a"/>
<rect x="820.78" y="657.70" width="11.7" height="1.66" fill="#a9cbf0"/>
<rect x="820.78" y="656.05" width="11.7" height="1.66" fill="#f0301e"/>
<rect x="820.78" y="654.80" width="11.7" height="1.24" fill="#2a84c0"/>
<rect x="820.78" y="653.56" width="11.7" height="1.24" fill="#ffa000"/>
<rect x="820.78" y="651.91" width="11.7" height="1.66" fill="#4fa3f0"/>
<rect x="820.78" y="650.25" width="11.7" height="1.66" fill="#c9d3e0"/>
<rect x="820.78" y="648.80" width="11.7" height="1.45" fill="#9a94c8"/>
<rect x="834.32" y="765.30" width="11.7" height="50.20" fill="#0d4580"/>
<rect x="834.32" y="723.60" width="11.7" height="41.70" fill="#f24a00"/>
<rect x="834.32" y="712.00" width="11.7" height="11.60" fill="#62a30f"/>
<rect x="834.32" y="689.00" width="11.7" height="23.00" fill="#8a0028"/>
<rect x="834.32" y="665.40" width="11.7" height="23.60" fill="#474a0a"/>
<rect x="834.32" y="659.20" width="11.7" height="6.20" fill="#0e9a0e"/>
<rect x="834.32" y="650.00" width="11.7" height="9.20" fill="#4a0a72"/>
<rect x="834.32" y="644.60" width="11.7" height="5.40" fill="#d80000"/>
<rect x="834.32" y="642.40" width="11.7" height="2.20" fill="#ff7000"/>
<rect x="834.32" y="640.83" width="11.7" height="1.57" fill="#ff00ff"/>
<rect x="834.32" y="639.58" width="11.7" height="1.26" fill="#c44466"/>
<rect x="834.32" y="638.16" width="11.7" height="1.41" fill="#00f0ff"/>
<rect x="834.32" y="636.91" width="11.7" height="1.26" fill="#b9a20a"/>
<rect x="834.32" y="635.65" width="11.7" height="1.26" fill="#a9cbf0"/>
<rect x="834.32" y="634.40" width="11.7" height="1.26" fill="#f0301e"/>
<rect x="834.32" y="633.45" width="11.7" height="0.94" fill="#2a84c0"/>
<rect x="834.32" y="632.51" width="11.7" height="0.94" fill="#ffa000"/>
<rect x="834.32" y="631.26" width="11.7" height="1.26" fill="#4fa3f0"/>
<rect x="834.32" y="630.00" width="11.7" height="1.26" fill="#c9d3e0"/>
<rect x="834.32" y="628.90" width="11.7" height="1.10" fill="#9a94c8"/>
<rect x="847.86" y="701.20" width="11.7" height="114.30" fill="#0d4580"/>
<rect x="847.86" y="656.20" width="11.7" height="45.00" fill="#f24a00"/>
<rect x="847.86" y="599.70" width="11.7" height="56.50" fill="#62a30f"/>
<rect x="847.86" y="578.90" width="11.7" height="20.80" fill="#8a0028"/>
<rect x="847.86" y="555.10" width="11.7" height="23.80" fill="#474a0a"/>
<rect x="847.86" y="550.00" width="11.7" height="5.10" fill="#0e9a0e"/>
<rect x="847.86" y="545.90" width="11.7" height="4.10" fill="#4a0a72"/>
<rect x="847.86" y="543.60" width="11.7" height="2.30" fill="#d80000"/>
<rect x="847.86" y="541.28" width="11.7" height="2.32" fill="#ff7000"/>
<rect x="847.86" y="539.62" width="11.7" height="1.66" fill="#ff00ff"/>
<rect x="847.86" y="538.29" width="11.7" height="1.33" fill="#c44466"/>
<rect x="847.86" y="536.79" width="11.7" height="1.49" fill="#00f0ff"/>
<rect x="847.86" y="535.47" width="11.7" height="1.33" fill="#b9a20a"/>
<rect x="847.86" y="534.14" width="11.7" height="1.33" fill="#a9cbf0"/>
<rect x="847.86" y="532.81" width="11.7" height="1.33" fill="#f0301e"/>
<rect x="847.86" y="531.81" width="11.7" height="1.00" fill="#2a84c0"/>
<rect x="847.86" y="530.82" width="11.7" height="1.00" fill="#ffa000"/>
<rect x="847.86" y="529.49" width="11.7" height="1.33" fill="#4fa3f0"/>
<rect x="847.86" y="528.16" width="11.7" height="1.33" fill="#c9d3e0"/>
<rect x="847.86" y="527.00" width="11.7" height="1.16" fill="#9a94c8"/>
<rect x="861.40" y="767.00" width="11.7" height="48.50" fill="#0d4580"/>
<rect x="861.40" y="727.70" width="11.7" height="39.30" fill="#f24a00"/>
<rect x="861.40" y="656.20" width="11.7" height="71.50" fill="#62a30f"/>
<rect x="861.40" y="631.20" width="11.7" height="25.00" fill="#8a0028"/>
<rect x="861.40" y="610.00" width="11.7" height="21.20" fill="#474a0a"/>
<rect x="861.40" y="601.50" width="11.7" height="8.50" fill="#0e9a0e"/>
<rect x="861.40" y="595.70" width="11.7" height="5.80" fill="#4a0a72"/>
<rect x="861.40" y="590.40" width="11.7" height="5.30" fill="#d80000"/>
<rect x="861.40" y="587.82" width="11.7" height="2.58" fill="#ff7000"/>
<rect x="861.40" y="585.98" width="11.7" height="1.84" fill="#ff00ff"/>
<rect x="861.40" y="584.51" width="11.7" height="1.47" fill="#c44466"/>
<rect x="861.40" y="582.86" width="11.7" height="1.66" fill="#00f0ff"/>
<rect x="861.40" y="581.38" width="11.7" height="1.47" fill="#b9a20a"/>
<rect x="861.40" y="579.91" width="11.7" height="1.47" fill="#a9cbf0"/>
<rect x="861.40" y="578.44" width="11.7" height="1.47" fill="#f0301e"/>
<rect x="861.40" y="577.34" width="11.7" height="1.10" fill="#2a84c0"/>
<rect x="861.40" y="576.23" width="11.7" height="1.10" fill="#ffa000"/>
<rect x="861.40" y="574.76" width="11.7" height="1.47" fill="#4fa3f0"/>
<rect x="861.40" y="573.29" width="11.7" height="1.47" fill="#c9d3e0"/>
<rect x="861.40" y="572.00" width="11.7" height="1.29" fill="#9a94c8"/>
<rect x="874.94" y="732.00" width="11.7" height="83.50" fill="#0d4580"/>
<rect x="874.94" y="679.80" width="11.7" height="52.20" fill="#f24a00"/>
<rect x="874.94" y="658.10" width="11.7" height="21.70" fill="#62a30f"/>
<rect x="874.94" y="631.30" width="11.7" height="26.80" fill="#8a0028"/>
<rect x="874.94" y="611.70" width="11.7" height="19.60" fill="#474a0a"/>
<rect x="874.94" y="604.30" width="11.7" height="7.40" fill="#0e9a0e"/>
<rect x="874.94" y="599.00" width="11.7" height="5.30" fill="#4a0a72"/>
<rect x="874.94" y="596.20" width="11.7" height="2.80" fill="#d80000"/>
<rect x="874.94" y="593.78" width="11.7" height="2.42" fill="#ff7000"/>
<rect x="874.94" y="592.05" width="11.7" height="1.73" fill="#ff00ff"/>
<rect x="874.94" y="590.66" width="11.7" height="1.38" fill="#c44466"/>
<rect x="874.94" y="589.11" width="11.7" height="1.56" fill="#00f0ff"/>
<rect x="874.94" y="587.72" width="11.7" height="1.38" fill="#b9a20a"/>
<rect x="874.94" y="586.34" width="11.7" height="1.38" fill="#a9cbf0"/>
<rect x="874.94" y="584.95" width="11.7" height="1.38" fill="#f0301e"/>
<rect x="874.94" y="583.92" width="11.7" height="1.04" fill="#2a84c0"/>
<rect x="874.94" y="582.88" width="11.7" height="1.04" fill="#ffa000"/>
<rect x="874.94" y="581.49" width="11.7" height="1.38" fill="#4fa3f0"/>
<rect x="874.94" y="580.11" width="11.7" height="1.38" fill="#c9d3e0"/>
<rect x="874.94" y="578.90" width="11.7" height="1.21" fill="#9a94c8"/>
<rect x="888.48" y="738.70" width="11.7" height="76.80" fill="#0d4580"/>
<rect x="888.48" y="690.90" width="11.7" height="47.80" fill="#f24a00"/>
<rect x="888.48" y="678.90" width="11.7" height="12.00" fill="#62a30f"/>
<rect x="888.48" y="658.60" width="11.7" height="20.30" fill="#8a0028"/>
<rect x="888.48" y="641.30" width="11.7" height="17.30" fill="#474a0a"/>
<rect x="888.48" y="635.00" width="11.7" height="6.30" fill="#0e9a0e"/>
<rect x="888.48" y="631.30" width="11.7" height="3.70" fill="#4a0a72"/>
<rect x="888.48" y="624.00" width="11.7" height="7.30" fill="#d80000"/>
<rect x="888.48" y="621.09" width="11.7" height="2.91" fill="#ff7000"/>
<rect x="888.48" y="619.01" width="11.7" height="2.08" fill="#ff00ff"/>
<rect x="888.48" y="617.34" width="11.7" height="1.66" fill="#c44466"/>
<rect x="888.48" y="615.47" width="11.7" height="1.87" fill="#00f0ff"/>
<rect x="888.48" y="613.81" width="11.7" height="1.66" fill="#b9a20a"/>
<rect x="888.48" y="612.14" width="11.7" height="1.66" fill="#a9cbf0"/>
<rect x="888.48" y="610.48" width="11.7" height="1.66" fill="#f0301e"/>
<rect x="888.48" y="609.23" width="11.7" height="1.25" fill="#2a84c0"/>
<rect x="888.48" y="607.98" width="11.7" height="1.25" fill="#ffa000"/>
<rect x="888.48" y="606.32" width="11.7" height="1.66" fill="#4fa3f0"/>
<rect x="888.48" y="604.66" width="11.7" height="1.66" fill="#c9d3e0"/>
<rect x="888.48" y="603.20" width="11.7" height="1.46" fill="#9a94c8"/>
<rect x="902.02" y="772.90" width="11.7" height="42.60" fill="#0d4580"/>
<rect x="902.02" y="721.40" width="11.7" height="51.50" fill="#f24a00"/>
<rect x="902.02" y="714.50" width="11.7" height="6.90" fill="#62a30f"/>
<rect x="902.02" y="702.90" width="11.7" height="11.60" fill="#8a0028"/>
<rect x="902.02" y="675.40" width="11.7" height="27.50" fill="#474a0a"/>
<rect x="902.02" y="672.40" width="11.7" height="3.00" fill="#0e9a0e"/>
<rect x="902.02" y="667.40" width="11.7" height="5.00" fill="#4a0a72"/>
<rect x="902.02" y="662.70" width="11.7" height="4.70" fill="#d80000"/>
<rect x="902.02" y="660.07" width="11.7" height="2.63" fill="#ff7000"/>
<rect x="902.02" y="658.20" width="11.7" height="1.88" fill="#ff00ff"/>
<rect x="902.02" y="656.69" width="11.7" height="1.50" fill="#c44466"/>
<rect x="902.02" y="653.88" width="11.7" height="2.82" fill="#00f0ff"/>
<rect x="902.02" y="652.38" width="11.7" height="1.50" fill="#b9a20a"/>
<rect x="902.02" y="650.88" width="11.7" height="1.50" fill="#a9cbf0"/>
<rect x="902.02" y="649.37" width="11.7" height="1.50" fill="#f0301e"/>
<rect x="902.02" y="648.25" width="11.7" height="1.13" fill="#2a84c0"/>
<rect x="902.02" y="642.62" width="11.7" height="5.63" fill="#ffa000"/>
<rect x="902.02" y="641.12" width="11.7" height="1.50" fill="#4fa3f0"/>
<rect x="902.02" y="639.61" width="11.7" height="1.50" fill="#c9d3e0"/>
<rect x="902.02" y="638.30" width="11.7" height="1.31" fill="#9a94c8"/>
<rect x="915.56" y="754.40" width="11.7" height="61.10" fill="#0d4580"/>
<rect x="915.56" y="708.20" width="11.7" height="46.20" fill="#f24a00"/>
<rect x="915.56" y="687.40" width="11.7" height="20.80" fill="#62a30f"/>
<rect x="915.56" y="662.70" width="11.7" height="24.70" fill="#8a0028"/>
<rect x="915.56" y="639.00" width="11.7" height="23.70" fill="#474a0a"/>
<rect x="915.56" y="632.70" width="11.7" height="6.30" fill="#0e9a0e"/>
<rect x="915.56" y="629.00" width="11.7" height="3.70" fill="#4a0a72"/>
<rect x="915.56" y="622.80" width="11.7" height="6.20" fill="#d80000"/>
<rect x="915.56" y="620.85" width="11.7" height="1.95" fill="#ff7000"/>
<rect x="915.56" y="619.46" width="11.7" height="1.39" fill="#ff00ff"/>
<rect x="915.56" y="618.35" width="11.7" height="1.11" fill="#c44466"/>
<rect x="915.56" y="617.10" width="11.7" height="1.25" fill="#00f0ff"/>
<rect x="915.56" y="615.99" width="11.7" height="1.11" fill="#b9a20a"/>
<rect x="915.56" y="614.88" width="11.7" height="1.11" fill="#a9cbf0"/>
<rect x="915.56" y="613.77" width="11.7" height="1.11" fill="#f0301e"/>
<rect x="915.56" y="612.93" width="11.7" height="0.83" fill="#2a84c0"/>
<rect x="915.56" y="612.10" width="11.7" height="0.83" fill="#ffa000"/>
<rect x="915.56" y="610.99" width="11.7" height="1.11" fill="#4fa3f0"/>
<rect x="915.56" y="609.87" width="11.7" height="1.11" fill="#c9d3e0"/>
<rect x="915.56" y="608.90" width="11.7" height="0.97" fill="#9a94c8"/>
<rect x="929.10" y="767.90" width="11.7" height="47.60" fill="#0d4580"/>
<rect x="929.10" y="723.40" width="11.7" height="44.50" fill="#f24a00"/>
<rect x="929.10" y="556.90" width="11.7" height="166.50" fill="#62a30f"/>
<rect x="929.10" y="534.90" width="11.7" height="22.00" fill="#8a0028"/>
<rect x="929.10" y="516.00" width="11.7" height="18.90" fill="#474a0a"/>
<rect x="929.10" y="509.20" width="11.7" height="6.80" fill="#0e9a0e"/>
<rect x="929.10" y="501.80" width="11.7" height="7.40" fill="#4a0a72"/>
<rect x="929.10" y="494.50" width="11.7" height="7.30" fill="#d80000"/>
<rect x="929.10" y="492.19" width="11.7" height="2.31" fill="#ff7000"/>
<rect x="929.10" y="490.54" width="11.7" height="1.65" fill="#ff00ff"/>
<rect x="929.10" y="489.22" width="11.7" height="1.32" fill="#c44466"/>
<rect x="929.10" y="487.74" width="11.7" height="1.48" fill="#00f0ff"/>
<rect x="929.10" y="486.42" width="11.7" height="1.32" fill="#b9a20a"/>
<rect x="929.10" y="485.10" width="11.7" height="1.32" fill="#a9cbf0"/>
<rect x="929.10" y="483.78" width="11.7" height="1.32" fill="#f0301e"/>
<rect x="929.10" y="482.79" width="11.7" height="0.99" fill="#2a84c0"/>
<rect x="929.10" y="481.80" width="11.7" height="0.99" fill="#ffa000"/>
<rect x="929.10" y="480.48" width="11.7" height="1.32" fill="#4fa3f0"/>
<rect x="929.10" y="479.16" width="11.7" height="1.32" fill="#c9d3e0"/>
<rect x="929.10" y="478.00" width="11.7" height="1.16" fill="#9a94c8"/>
<rect x="942.64" y="768.70" width="11.7" height="46.80" fill="#0d4580"/>
<rect x="942.64" y="703.00" width="11.7" height="65.70" fill="#f24a00"/>
<rect x="942.64" y="690.80" width="11.7" height="12.20" fill="#62a30f"/>
<rect x="942.64" y="637.70" width="11.7" height="53.10" fill="#8a0028"/>
<rect x="942.64" y="617.60" width="11.7" height="20.10" fill="#474a0a"/>
<rect x="942.64" y="609.00" width="11.7" height="8.60" fill="#0e9a0e"/>
<rect x="942.64" y="602.20" width="11.7" height="6.80" fill="#4a0a72"/>
<rect x="942.64" y="600.20" width="11.7" height="2.00" fill="#d80000"/>
<rect x="942.64" y="597.74" width="11.7" height="2.46" fill="#ff7000"/>
<rect x="942.64" y="595.98" width="11.7" height="1.76" fill="#ff00ff"/>
<rect x="942.64" y="594.57" width="11.7" height="1.41" fill="#c44466"/>
<rect x="942.64" y="592.98" width="11.7" height="1.58" fill="#00f0ff"/>
<rect x="942.64" y="591.58" width="11.7" height="1.41" fill="#b9a20a"/>
<rect x="942.64" y="590.17" width="11.7" height="1.41" fill="#a9cbf0"/>
<rect x="942.64" y="588.76" width="11.7" height="1.41" fill="#f0301e"/>
<rect x="942.64" y="587.70" width="11.7" height="1.06" fill="#2a84c0"/>
<rect x="942.64" y="586.65" width="11.7" height="1.06" fill="#ffa000"/>
<rect x="942.64" y="585.24" width="11.7" height="1.41" fill="#4fa3f0"/>
<rect x="942.64" y="583.83" width="11.7" height="1.41" fill="#c9d3e0"/>
<rect x="942.64" y="582.60" width="11.7" height="1.23" fill="#9a94c8"/>
<rect x="956.18" y="723.40" width="11.7" height="92.10" fill="#0d4580"/>
<rect x="956.18" y="672.70" width="11.7" height="50.70" fill="#f24a00"/>
<rect x="956.18" y="663.40" width="11.7" height="9.30" fill="#62a30f"/>
<rect x="956.18" y="610.30" width="11.7" height="53.10" fill="#8a0028"/>
<rect x="956.18" y="586.30" width="11.7" height="24.00" fill="#474a0a"/>
<rect x="956.18" y="581.90" width="11.7" height="4.40" fill="#0e9a0e"/>
<rect x="956.18" y="578.20" width="11.7" height="3.70" fill="#4a0a72"/>
<rect x="956.18" y="572.80" width="11.7" height="5.40" fill="#d80000"/>
<rect x="956.18" y="570.79" width="11.7" height="2.01" fill="#ff7000"/>
<rect x="956.18" y="569.36" width="11.7" height="1.43" fill="#ff00ff"/>
<rect x="956.18" y="568.22" width="11.7" height="1.15" fill="#c44466"/>
<rect x="956.18" y="565.35" width="11.7" height="2.86" fill="#00f0ff"/>
<rect x="956.18" y="564.21" width="11.7" height="1.15" fill="#b9a20a"/>
<rect x="956.18" y="563.06" width="11.7" height="1.15" fill="#a9cbf0"/>
<rect x="956.18" y="561.91" width="11.7" height="1.15" fill="#f0301e"/>
<rect x="956.18" y="561.05" width="11.7" height="0.86" fill="#2a84c0"/>
<rect x="956.18" y="560.19" width="11.7" height="0.86" fill="#ffa000"/>
<rect x="956.18" y="559.05" width="11.7" height="1.15" fill="#4fa3f0"/>
<rect x="956.18" y="557.90" width="11.7" height="1.15" fill="#c9d3e0"/>
<rect x="956.18" y="556.90" width="11.7" height="1.00" fill="#9a94c8"/>
<rect x="969.72" y="738.50" width="11.7" height="77.00" fill="#0d4580"/>
<rect x="969.72" y="683.70" width="11.7" height="54.80" fill="#f24a00"/>
<rect x="969.72" y="672.00" width="11.7" height="11.70" fill="#62a30f"/>
<rect x="969.72" y="645.00" width="11.7" height="27.00" fill="#8a0028"/>
<rect x="969.72" y="624.20" width="11.7" height="20.80" fill="#474a0a"/>
<rect x="969.72" y="618.10" width="11.7" height="6.10" fill="#0e9a0e"/>
<rect x="969.72" y="615.70" width="11.7" height="2.40" fill="#4a0a72"/>
<rect x="969.72" y="613.90" width="11.7" height="1.80" fill="#d80000"/>
<rect x="969.72" y="611.51" width="11.7" height="2.39" fill="#ff7000"/>
<rect x="969.72" y="609.80" width="11.7" height="1.71" fill="#ff00ff"/>
<rect x="969.72" y="608.43" width="11.7" height="1.37" fill="#c44466"/>
<rect x="969.72" y="606.89" width="11.7" height="1.54" fill="#00f0ff"/>
<rect x="969.72" y="605.52" width="11.7" height="1.37" fill="#b9a20a"/>
<rect x="969.72" y="604.15" width="11.7" height="1.37" fill="#a9cbf0"/>
<rect x="969.72" y="602.78" width="11.7" height="1.37" fill="#f0301e"/>
<rect x="969.72" y="601.76" width="11.7" height="1.03" fill="#2a84c0"/>
<rect x="969.72" y="600.73" width="11.7" height="1.03" fill="#ffa000"/>
<rect x="969.72" y="599.36" width="11.7" height="1.37" fill="#4fa3f0"/>
<rect x="969.72" y="598.00" width="11.7" height="1.37" fill="#c9d3e0"/>
<rect x="969.72" y="596.80" width="11.7" height="1.20" fill="#9a94c8"/>
<rect x="983.26" y="764.50" width="11.7" height="51.00" fill="#0d4580"/>
<rect x="983.26" y="722.10" width="11.7" height="42.40" fill="#f24a00"/>
<rect x="983.26" y="667.10" width="11.7" height="55.00" fill="#62a30f"/>
<rect x="983.26" y="640.10" width="11.7" height="27.00" fill="#8a0028"/>
<rect x="983.26" y="615.20" width="11.7" height="24.90" fill="#474a0a"/>
<rect x="983.26" y="605.40" width="11.7" height="9.80" fill="#0e9a0e"/>
<rect x="983.26" y="601.50" width="11.7" height="3.90" fill="#4a0a72"/>
<rect x="983.26" y="591.70" width="11.7" height="9.80" fill="#d80000"/>
<rect x="983.26" y="589.22" width="11.7" height="2.48" fill="#ff7000"/>
<rect x="983.26" y="587.45" width="11.7" height="1.77" fill="#ff00ff"/>
<rect x="983.26" y="586.04" width="11.7" height="1.42" fill="#c44466"/>
<rect x="983.26" y="584.44" width="11.7" height="1.59" fill="#00f0ff"/>
<rect x="983.26" y="583.03" width="11.7" height="1.42" fill="#b9a20a"/>
<rect x="983.26" y="581.61" width="11.7" height="1.42" fill="#a9cbf0"/>
<rect x="983.26" y="580.19" width="11.7" height="1.42" fill="#f0301e"/>
<rect x="983.26" y="579.13" width="11.7" height="1.06" fill="#2a84c0"/>
<rect x="983.26" y="578.07" width="11.7" height="1.06" fill="#ffa000"/>
<rect x="983.26" y="576.65" width="11.7" height="1.42" fill="#4fa3f0"/>
<rect x="983.26" y="575.24" width="11.7" height="1.42" fill="#c9d3e0"/>
<rect x="983.26" y="574.00" width="11.7" height="1.24" fill="#9a94c8"/>
<rect x="996.80" y="734.40" width="11.7" height="81.10" fill="#0d4580"/>
<rect x="996.80" y="689.10" width="11.7" height="45.30" fill="#f24a00"/>
<rect x="996.80" y="659.00" width="11.7" height="30.10" fill="#62a30f"/>
<rect x="996.80" y="604.60" width="11.7" height="54.40" fill="#8a0028"/>
<rect x="996.80" y="583.80" width="11.7" height="20.80" fill="#474a0a"/>
<rect x="996.80" y="575.30" width="11.7" height="8.50" fill="#0e9a0e"/>
<rect x="996.80" y="570.40" width="11.7" height="4.90" fill="#4a0a72"/>
<rect x="996.80" y="569.10" width="11.7" height="1.30" fill="#d80000"/>
<rect x="996.80" y="566.73" width="11.7" height="2.37" fill="#ff7000"/>
<rect x="996.80" y="561.66" width="11.7" height="5.07" fill="#ff00ff"/>
<rect x="996.80" y="560.31" width="11.7" height="1.35" fill="#c44466"/>
<rect x="996.80" y="557.77" width="11.7" height="2.54" fill="#00f0ff"/>
<rect x="996.80" y="556.42" width="11.7" height="1.35" fill="#b9a20a"/>
<rect x="996.80" y="555.07" width="11.7" height="1.35" fill="#a9cbf0"/>
<rect x="996.80" y="553.72" width="11.7" height="1.35" fill="#f0301e"/>
<rect x="996.80" y="552.70" width="11.7" height="1.01" fill="#2a84c0"/>
<rect x="996.80" y="551.69" width="11.7" height="1.01" fill="#ffa000"/>
<rect x="996.80" y="550.34" width="11.7" height="1.35" fill="#4fa3f0"/>
<rect x="996.80" y="548.98" width="11.7" height="1.35" fill="#c9d3e0"/>
<rect x="996.80" y="547.80" width="11.7" height="1.18" fill="#9a94c8"/>
<rect x="1010.34" y="767.20" width="11.7" height="48.30" fill="#0d4580"/>
<rect x="1010.34" y="710.20" width="11.7" height="57.00" fill="#f24a00"/>
<rect x="1010.34" y="703.80" width="11.7" height="6.40" fill="#62a30f"/>
<rect x="1010.34" y="691.20" width="11.7" height="12.60" fill="#8a0028"/>
<rect x="1010.34" y="667.70" width="11.7" height="23.50" fill="#474a0a"/>
<rect x="1010.34" y="664.40" width="11.7" height="3.30" fill="#0e9a0e"/>
<rect x="1010.34" y="660.90" width="11.7" height="3.50" fill="#4a0a72"/>
<rect x="1010.34" y="659.70" width="11.7" height="1.20" fill="#d80000"/>
<rect x="1010.34" y="657.20" width="11.7" height="2.50" fill="#ff7000"/>
<rect x="1010.34" y="655.42" width="11.7" height="1.78" fill="#ff00ff"/>
<rect x="1010.34" y="653.99" width="11.7" height="1.43" fill="#c44466"/>
<rect x="1010.34" y="649.53" width="11.7" height="4.46" fill="#00f0ff"/>
<rect x="1010.34" y="648.10" width="11.7" height="1.43" fill="#b9a20a"/>
<rect x="1010.34" y="646.67" width="11.7" height="1.43" fill="#a9cbf0"/>
<rect x="1010.34" y="645.25" width="11.7" height="1.43" fill="#f0301e"/>
<rect x="1010.34" y="644.18" width="11.7" height="1.07" fill="#2a84c0"/>
<rect x="1010.34" y="643.10" width="11.7" height="1.07" fill="#ffa000"/>
<rect x="1010.34" y="641.68" width="11.7" height="1.43" fill="#4fa3f0"/>
<rect x="1010.34" y="640.25" width="11.7" height="1.43" fill="#c9d3e0"/>
<rect x="1010.34" y="639.00" width="11.7" height="1.25" fill="#9a94c8"/>
<rect x="1023.88" y="770.50" width="11.7" height="45.00" fill="#0d4580"/>
<rect x="1023.88" y="661.00" width="11.7" height="109.50" fill="#f24a00"/>
<rect x="1023.88" y="648.40" width="11.7" height="12.60" fill="#62a30f"/>
<rect x="1023.88" y="619.70" width="11.7" height="28.70" fill="#8a0028"/>
<rect x="1023.88" y="589.40" width="11.7" height="30.30" fill="#474a0a"/>
<rect x="1023.88" y="585.20" width="11.7" height="4.20" fill="#0e9a0e"/>
<rect x="1023.88" y="583.20" width="11.7" height="2.00" fill="#4a0a72"/>
<rect x="1023.88" y="581.60" width="11.7" height="1.60" fill="#d80000"/>
<rect x="1023.88" y="579.60" width="11.7" height="2.00" fill="#ff7000"/>
<rect x="1023.88" y="578.17" width="11.7" height="1.43" fill="#ff00ff"/>
<rect x="1023.88" y="577.02" width="11.7" height="1.14" fill="#c44466"/>
<rect x="1023.88" y="572.74" width="11.7" height="4.29" fill="#00f0ff"/>
<rect x="1023.88" y="571.59" width="11.7" height="1.14" fill="#b9a20a"/>
<rect x="1023.88" y="570.45" width="11.7" height="1.14" fill="#a9cbf0"/>
<rect x="1023.88" y="569.30" width="11.7" height="1.14" fill="#f0301e"/>
<rect x="1023.88" y="568.45" width="11.7" height="0.86" fill="#2a84c0"/>
<rect x="1023.88" y="567.59" width="11.7" height="0.86" fill="#ffa000"/>
<rect x="1023.88" y="566.44" width="11.7" height="1.14" fill="#4fa3f0"/>
<rect x="1023.88" y="565.30" width="11.7" height="1.14" fill="#c9d3e0"/>
<rect x="1023.88" y="564.30" width="11.7" height="1.00" fill="#9a94c8"/>
<rect x="1037.42" y="734.60" width="11.7" height="80.90" fill="#0d4580"/>
<rect x="1037.42" y="691.70" width="11.7" height="42.90" fill="#f24a00"/>
<rect x="1037.42" y="685.00" width="11.7" height="6.70" fill="#62a30f"/>
<rect x="1037.42" y="645.30" width="11.7" height="39.70" fill="#8a0028"/>
<rect x="1037.42" y="627.80" width="11.7" height="17.50" fill="#474a0a"/>
<rect x="1037.42" y="621.30" width="11.7" height="6.50" fill="#0e9a0e"/>
<rect x="1037.42" y="611.70" width="11.7" height="9.60" fill="#4a0a72"/>
<rect x="1037.42" y="609.50" width="11.7" height="2.20" fill="#d80000"/>
<rect x="1037.42" y="607.55" width="11.7" height="1.95" fill="#ff7000"/>
<rect x="1037.42" y="606.16" width="11.7" height="1.39" fill="#ff00ff"/>
<rect x="1037.42" y="605.05" width="11.7" height="1.11" fill="#c44466"/>
<rect x="1037.42" y="603.80" width="11.7" height="1.25" fill="#00f0ff"/>
<rect x="1037.42" y="602.69" width="11.7" height="1.11" fill="#b9a20a"/>
<rect x="1037.42" y="601.58" width="11.7" height="1.11" fill="#a9cbf0"/>
<rect x="1037.42" y="600.47" width="11.7" height="1.11" fill="#f0301e"/>
<rect x="1037.42" y="599.63" width="11.7" height="0.83" fill="#2a84c0"/>
<rect x="1037.42" y="598.80" width="11.7" height="0.83" fill="#ffa000"/>
<rect x="1037.42" y="597.69" width="11.7" height="1.11" fill="#4fa3f0"/>
<rect x="1037.42" y="596.57" width="11.7" height="1.11" fill="#c9d3e0"/>
<rect x="1037.42" y="595.60" width="11.7" height="0.97" fill="#9a94c8"/>
<rect x="1050.96" y="742.50" width="11.7" height="73.00" fill="#0d4580"/>
<rect x="1050.96" y="700.00" width="11.7" height="42.50" fill="#f24a00"/>
<rect x="1050.96" y="655.30" width="11.7" height="44.70" fill="#62a30f"/>
<rect x="1050.96" y="600.10" width="11.7" height="55.20" fill="#8a0028"/>
<rect x="1050.96" y="585.60" width="11.7" height="14.50" fill="#474a0a"/>
<rect x="1050.96" y="579.80" width="11.7" height="5.80" fill="#0e9a0e"/>
<rect x="1050.96" y="576.00" width="11.7" height="3.80" fill="#4a0a72"/>
<rect x="1050.96" y="573.30" width="11.7" height="2.70" fill="#d80000"/>
<rect x="1050.96" y="571.17" width="11.7" height="2.13" fill="#ff7000"/>
<rect x="1050.96" y="569.65" width="11.7" height="1.52" fill="#ff00ff"/>
<rect x="1050.96" y="568.44" width="11.7" height="1.22" fill="#c44466"/>
<rect x="1050.96" y="567.07" width="11.7" height="1.37" fill="#00f0ff"/>
<rect x="1050.96" y="565.85" width="11.7" height="1.22" fill="#b9a20a"/>
<rect x="1050.96" y="564.64" width="11.7" height="1.22" fill="#a9cbf0"/>
<rect x="1050.96" y="563.42" width="11.7" height="1.22" fill="#f0301e"/>
<rect x="1050.96" y="562.51" width="11.7" height="0.91" fill="#2a84c0"/>
<rect x="1050.96" y="561.60" width="11.7" height="0.91" fill="#ffa000"/>
<rect x="1050.96" y="560.38" width="11.7" height="1.22" fill="#4fa3f0"/>
<rect x="1050.96" y="559.16" width="11.7" height="1.22" fill="#c9d3e0"/>
<rect x="1050.96" y="558.10" width="11.7" height="1.06" fill="#9a94c8"/>
<rect x="1064.50" y="746.90" width="11.7" height="68.60" fill="#0d4580"/>
<rect x="1064.50" y="669.20" width="11.7" height="77.70" fill="#f24a00"/>
<rect x="1064.50" y="660.40" width="11.7" height="8.80" fill="#62a30f"/>
<rect x="1064.50" y="619.60" width="11.7" height="40.80" fill="#8a0028"/>
<rect x="1064.50" y="608.40" width="11.7" height="11.20" fill="#474a0a"/>
<rect x="1064.50" y="601.70" width="11.7" height="6.70" fill="#0e9a0e"/>
<rect x="1064.50" y="599.40" width="11.7" height="2.30" fill="#4a0a72"/>
<rect x="1064.50" y="595.60" width="11.7" height="3.80" fill="#d80000"/>
<rect x="1064.50" y="593.43" width="11.7" height="2.17" fill="#ff7000"/>
<rect x="1064.50" y="591.87" width="11.7" height="1.55" fill="#ff00ff"/>
<rect x="1064.50" y="590.63" width="11.7" height="1.24" fill="#c44466"/>
<rect x="1064.50" y="582.86" width="11.7" height="7.77" fill="#00f0ff"/>
<rect x="1064.50" y="581.62" width="11.7" height="1.24" fill="#b9a20a"/>
<rect x="1064.50" y="580.38" width="11.7" height="1.24" fill="#a9cbf0"/>
<rect x="1064.50" y="579.14" width="11.7" height="1.24" fill="#f0301e"/>
<rect x="1064.50" y="578.20" width="11.7" height="0.93" fill="#2a84c0"/>
<rect x="1064.50" y="577.27" width="11.7" height="0.93" fill="#ffa000"/>
<rect x="1064.50" y="576.03" width="11.7" height="1.24" fill="#4fa3f0"/>
<rect x="1064.50" y="574.79" width="11.7" height="1.24" fill="#c9d3e0"/>
<rect x="1064.50" y="573.70" width="11.7" height="1.09" fill="#9a94c8"/>
<rect x="662.5" y="825.6" width="127.5" height="3" fill="#000"/>
<rect x="797.5" y="825.6" width="117.5" height="3" fill="#000"/>
<rect x="919" y="825.6" width="157" height="3" fill="#000"/>
<line x1="654.5" y1="815.5" x2="657.5" y2="815.5" stroke="#333" stroke-width="1"/>
<text x="652.5" y="818.5" font-size="8.4" text-anchor="end" font-weight="normal" fill="#444" >0</text>
<line x1="654.5" y1="697.5" x2="657.5" y2="697.5" stroke="#333" stroke-width="1"/>
<text x="652.5" y="700.5" font-size="8.4" text-anchor="end" font-weight="normal" fill="#444" >4</text>
<line x1="654.5" y1="579.5" x2="657.5" y2="579.5" stroke="#333" stroke-width="1"/>
<text x="652.5" y="582.5" font-size="8.4" text-anchor="end" font-weight="normal" fill="#444" >8</text>
<line x1="654.5" y1="461.5" x2="657.5" y2="461.5" stroke="#333" stroke-width="1"/>
<text x="652.5" y="464.5" font-size="8.4" text-anchor="end" font-weight="normal" fill="#444" >12</text>
<text x="0" y="0" font-size="9.9" text-anchor="middle" fill="#000" transform="translate(639,630.2) rotate(-90)">Relative Abundance %</text>
<line x1="664.15" y1="833.5" x2="664.15" y2="836.5" stroke="#333" stroke-width="1"/>
<text x="0" y="0" font-size="7.8" text-anchor="end" fill="#333" transform="translate(667.65,843.5) rotate(-45)">Norm_1</text>
<line x1="677.69" y1="833.5" x2="677.69" y2="836.5" stroke="#333" stroke-width="1"/>
<text x="0" y="0" font-size="7.8" text-anchor="end" fill="#333" transform="translate(681.19,843.5) rotate(-45)">Norm_2</text>
<line x1="691.23" y1="833.5" x2="691.23" y2="836.5" stroke="#333" stroke-width="1"/>
<text x="0" y="0" font-size="7.8" text-anchor="end" fill="#333" transform="translate(694.73,843.5) rotate(-45)">Norm_3</text>
<line x1="704.77" y1="833.5" x2="704.77" y2="836.5" stroke="#333" stroke-width="1"/>
<text x="0" y="0" font-size="7.8" text-anchor="end" fill="#333" transform="translate(708.27,843.5) rotate(-45)">Norm_4</text>
<line x1="718.31" y1="833.5" x2="718.31" y2="836.5" stroke="#333" stroke-width="1"/>
<text x="0" y="0" font-size="7.8" text-anchor="end" fill="#333" transform="translate(721.81,843.5) rotate(-45)">Norm_5</text>
<line x1="731.85" y1="833.5" x2="731.85" y2="836.5" stroke="#333" stroke-width="1"/>
<text x="0" y="0" font-size="7.8" text-anchor="end" fill="#333" transform="translate(735.35,843.5) rotate(-45)">Norm_6</text>
<line x1="745.39" y1="833.5" x2="745.39" y2="836.5" stroke="#333" stroke-width="1"/>
<text x="0" y="0" font-size="7.8" text-anchor="end" fill="#333" transform="translate(748.89,843.5) rotate(-45)">Norm_7</text>
<line x1="758.93" y1="833.5" x2="758.93" y2="836.5" stroke="#333" stroke-width="1"/>
<text x="0" y="0" font-size="7.8" text-anchor="end" fill="#333" transform="translate(762.43,843.5) rotate(-45)">Norm_8</text>
<line x1="772.47" y1="833.5" x2="772.47" y2="836.5" stroke="#333" stroke-width="1"/>
<text x="0" y="0" font-size="7.8" text-anchor="end" fill="#333" transform="translate(775.97,843.5) rotate(-45)">Norm_9</text>
<line x1="786.01" y1="833.5" x2="786.01" y2="836.5" stroke="#333" stroke-width="1"/>
<text x="0" y="0" font-size="7.8" text-anchor="end" fill="#333" transform="translate(789.51,843.5) rotate(-45)">Norm_10</text>
<line x1="799.55" y1="833.5" x2="799.55" y2="836.5" stroke="#333" stroke-width="1"/>
<text x="0" y="0" font-size="7.8" text-anchor="end" fill="#333" transform="translate(803.05,843.5) rotate(-45)">MFL_1</text>
<line x1="813.09" y1="833.5" x2="813.09" y2="836.5" stroke="#333" stroke-width="1"/>
<text x="0" y="0" font-size="7.8" text-anchor="end" fill="#333" transform="translate(816.59,843.5) rotate(-45)">MFL_2</text>
<line x1="826.63" y1="833.5" x2="826.63" y2="836.5" stroke="#333" stroke-width="1"/>
<text x="0" y="0" font-size="7.8" text-anchor="end" fill="#333" transform="translate(830.13,843.5) rotate(-45)">MFL_3</text>
<line x1="840.17" y1="833.5" x2="840.17" y2="836.5" stroke="#333" stroke-width="1"/>
<text x="0" y="0" font-size="7.8" text-anchor="end" fill="#333" transform="translate(843.67,843.5) rotate(-45)">MFL_5</text>
<line x1="853.71" y1="833.5" x2="853.71" y2="836.5" stroke="#333" stroke-width="1"/>
<text x="0" y="0" font-size="7.8" text-anchor="end" fill="#333" transform="translate(857.21,843.5) rotate(-45)">MFL_6</text>
<line x1="867.25" y1="833.5" x2="867.25" y2="836.5" stroke="#333" stroke-width="1"/>
<text x="0" y="0" font-size="7.8" text-anchor="end" fill="#333" transform="translate(870.75,843.5) rotate(-45)">MFL_7</text>
<line x1="880.79" y1="833.5" x2="880.79" y2="836.5" stroke="#333" stroke-width="1"/>
<text x="0" y="0" font-size="7.8" text-anchor="end" fill="#333" transform="translate(884.29,843.5) rotate(-45)">MFL_8</text>
<line x1="894.33" y1="833.5" x2="894.33" y2="836.5" stroke="#333" stroke-width="1"/>
<text x="0" y="0" font-size="7.8" text-anchor="end" fill="#333" transform="translate(897.83,843.5) rotate(-45)">MFL_9</text>
<line x1="907.87" y1="833.5" x2="907.87" y2="836.5" stroke="#333" stroke-width="1"/>
<text x="0" y="0" font-size="7.8" text-anchor="end" fill="#333" transform="translate(911.37,843.5) rotate(-45)">MFL_10</text>
<line x1="921.41" y1="833.5" x2="921.41" y2="836.5" stroke="#333" stroke-width="1"/>
<text x="0" y="0" font-size="7.8" text-anchor="end" fill="#333" transform="translate(924.91,843.5) rotate(-45)">SFL_1</text>
<line x1="934.95" y1="833.5" x2="934.95" y2="836.5" stroke="#333" stroke-width="1"/>
<text x="0" y="0" font-size="7.8" text-anchor="end" fill="#333" transform="translate(938.45,843.5) rotate(-45)">SFL_2</text>
<line x1="948.49" y1="833.5" x2="948.49" y2="836.5" stroke="#333" stroke-width="1"/>
<text x="0" y="0" font-size="7.8" text-anchor="end" fill="#333" transform="translate(951.99,843.5) rotate(-45)">SFL_3</text>
<line x1="962.03" y1="833.5" x2="962.03" y2="836.5" stroke="#333" stroke-width="1"/>
<text x="0" y="0" font-size="7.8" text-anchor="end" fill="#333" transform="translate(965.53,843.5) rotate(-45)">SFL_4</text>
<line x1="975.57" y1="833.5" x2="975.57" y2="836.5" stroke="#333" stroke-width="1"/>
<text x="0" y="0" font-size="7.8" text-anchor="end" fill="#333" transform="translate(979.07,843.5) rotate(-45)">SFL_5</text>
<line x1="989.11" y1="833.5" x2="989.11" y2="836.5" stroke="#333" stroke-width="1"/>
<text x="0" y="0" font-size="7.8" text-anchor="end" fill="#333" transform="translate(992.61,843.5) rotate(-45)">SFL_6</text>
<line x1="1002.65" y1="833.5" x2="1002.65" y2="836.5" stroke="#333" stroke-width="1"/>
<text x="0" y="0" font-size="7.8" text-anchor="end" fill="#333" transform="translate(1006.15,843.5) rotate(-45)">SFL_7</text>
<line x1="1016.19" y1="833.5" x2="1016.19" y2="836.5" stroke="#333" stroke-width="1"/>
<text x="0" y="0" font-size="7.8" text-anchor="end" fill="#333" transform="translate(1019.69,843.5) rotate(-45)">SFL_8</text>
<line x1="1029.73" y1="833.5" x2="1029.73" y2="836.5" stroke="#333" stroke-width="1"/>
<text x="0" y="0" font-size="7.8" text-anchor="end" fill="#333" transform="translate(1033.23,843.5) rotate(-45)">SFL_9</text>
<line x1="1043.27" y1="833.5" x2="1043.27" y2="836.5" stroke="#333" stroke-width="1"/>
<text x="0" y="0" font-size="7.8" text-anchor="end" fill="#333" transform="translate(1046.77,843.5) rotate(-45)">SFL_10</text>
<line x1="1056.81" y1="833.5" x2="1056.81" y2="836.5" stroke="#333" stroke-width="1"/>
<text x="0" y="0" font-size="7.8" text-anchor="end" fill="#333" transform="translate(1060.31,843.5) rotate(-45)">SFL_11</text>
<line x1="1070.35" y1="833.5" x2="1070.35" y2="836.5" stroke="#333" stroke-width="1"/>
<text x="0" y="0" font-size="7.8" text-anchor="end" fill="#333" transform="translate(1073.85,843.5) rotate(-45)">SFL_12</text>
<text x="1088" y="474.6" font-size="9.8" text-anchor="start" font-weight="normal" fill="#000" >taxonomy</text>
<rect x="1088.3" y="481.30" width="14.5" height="14.2" fill="#9a94c8"/>
<text x="1108.7" y="491.3" font-size="8.1" text-anchor="start" font-weight="normal" fill="#111" >Ruminococcus</text>
<rect x="1088.3" y="496.96" width="14.5" height="14.2" fill="#c9d3e0"/>
<text x="1108.7" y="506.96000000000004" font-size="8.1" text-anchor="start" font-weight="normal" fill="#111" >Lachnoanaerobaculum</text>
<rect x="1088.3" y="512.62" width="14.5" height="14.2" fill="#4fa3f0"/>
<text x="1108.7" y="522.62" font-size="8.1" text-anchor="start" font-weight="normal" fill="#111" >Phascolarctobacterium</text>
<rect x="1088.3" y="528.28" width="14.5" height="14.2" fill="#ffa000"/>
<text x="1108.7" y="538.28" font-size="8.1" text-anchor="start" font-weight="normal" fill="#111" >Terrisporobacter</text>
<rect x="1088.3" y="543.94" width="14.5" height="14.2" fill="#2a84c0"/>
<text x="1108.7" y="553.94" font-size="8.1" text-anchor="start" font-weight="normal" fill="#111" >Dorea</text>
<rect x="1088.3" y="559.60" width="14.5" height="14.2" fill="#f0301e"/>
<text x="1108.7" y="569.6" font-size="8.1" text-anchor="start" font-weight="normal" fill="#111" >Bradyrhizobium</text>
<rect x="1088.3" y="575.26" width="14.5" height="14.2" fill="#a9cbf0"/>
<text x="1108.7" y="585.26" font-size="8.1" text-anchor="start" font-weight="normal" fill="#111" >Butyrivibrio</text>
<rect x="1088.3" y="590.92" width="14.5" height="14.2" fill="#b9a20a"/>
<text x="1108.7" y="600.9200000000001" font-size="8.1" text-anchor="start" font-weight="normal" fill="#111" >Clostridium</text>
<rect x="1088.3" y="606.58" width="14.5" height="14.2" fill="#00f0ff"/>
<text x="1108.7" y="616.58" font-size="8.1" text-anchor="start" font-weight="normal" fill="#111" >Paraprevotella</text>
<rect x="1088.3" y="622.24" width="14.5" height="14.2" fill="#c44466"/>
<text x="1108.7" y="632.24" font-size="8.1" text-anchor="start" font-weight="normal" fill="#111" >Olsenella</text>
<rect x="1088.3" y="637.90" width="14.5" height="14.2" fill="#ff00ff"/>
<text x="1108.7" y="647.9" font-size="8.1" text-anchor="start" font-weight="normal" fill="#111" >Roseburia</text>
<rect x="1088.3" y="653.56" width="14.5" height="14.2" fill="#ff7000"/>
<text x="1108.7" y="663.56" font-size="8.1" text-anchor="start" font-weight="normal" fill="#111" >Alloprevotella</text>
<rect x="1088.3" y="669.22" width="14.5" height="14.2" fill="#d80000"/>
<text x="1108.7" y="679.22" font-size="8.1" text-anchor="start" font-weight="normal" fill="#111" >Cellulosilyticum</text>
<rect x="1088.3" y="684.88" width="14.5" height="14.2" fill="#4a0a72"/>
<text x="1108.7" y="694.88" font-size="8.1" text-anchor="start" font-weight="normal" fill="#111" >Turicibacter</text>
<rect x="1088.3" y="700.54" width="14.5" height="14.2" fill="#0e9a0e"/>
<text x="1108.7" y="710.54" font-size="8.1" text-anchor="start" font-weight="normal" fill="#111" >Romboutsia</text>
<rect x="1088.3" y="716.20" width="14.5" height="14.2" fill="#474a0a"/>
<text x="1108.7" y="726.2" font-size="8.1" text-anchor="start" font-weight="normal" fill="#111" >Alistipes</text>
<rect x="1088.3" y="731.86" width="14.5" height="14.2" fill="#8a0028"/>
<text x="1108.7" y="741.86" font-size="8.1" text-anchor="start" font-weight="normal" fill="#111" >Treponema</text>
<rect x="1088.3" y="747.52" width="14.5" height="14.2" fill="#62a30f"/>
<text x="1108.7" y="757.52" font-size="8.1" text-anchor="start" font-weight="normal" fill="#111" >Bifidobacterium</text>
<rect x="1088.3" y="763.18" width="14.5" height="14.2" fill="#f24a00"/>
<text x="1108.7" y="773.1800000000001" font-size="8.1" text-anchor="start" font-weight="normal" fill="#111" >Bacteroides</text>
<rect x="1088.3" y="778.84" width="14.5" height="14.2" fill="#0d4580"/>
<text x="1108.7" y="788.84" font-size="8.1" text-anchor="start" font-weight="normal" fill="#111" >Prevotella</text>
<text x="0" y="0" font-size="20" font-weight="bold" text-anchor="middle" fill="#000" transform="translate(53,1017) rotate(-90)">genus</text>
<text x="0" y="0" font-size="20" font-weight="bold" text-anchor="middle" fill="#000" transform="translate(50.5,1271) rotate(-90)">species</text>
<rect x="118.75" y="912" width="115.5" height="214.75" fill="#fff" stroke="#4a4a4a" stroke-width="0.9"/>
<text x="175.75" y="907.2" font-size="8.4" text-anchor="middle" font-weight="normal" fill="#1a1a1a" >Alistipes</text>
<line x1="116.75" y1="945.5" x2="118.75" y2="945.5" stroke="#4a4a4a" stroke-width="0.8"/>
<text x="115.45" y="947.6" font-size="6.0" text-anchor="end" font-weight="normal" fill="#555" >1.5</text>
<line x1="116.75" y1="1011.75" x2="118.75" y2="1011.75" stroke="#4a4a4a" stroke-width="0.8"/>
<text x="115.45" y="1013.85" font-size="6.0" text-anchor="end" font-weight="normal" fill="#555" >1.0</text>
<line x1="116.75" y1="1078.25" x2="118.75" y2="1078.25" stroke="#4a4a4a" stroke-width="0.8"/>
<text x="115.45" y="1080.35" font-size="6.0" text-anchor="end" font-weight="normal" fill="#555" >0.5</text>
<line x1="140" y1="1126.75" x2="140" y2="1128.75" stroke="#4a4a4a" stroke-width="0.8"/>
<text x="140" y="1134.5" font-size="6.1" text-anchor="middle" font-weight="normal" fill="#4d4d4d" >Norm</text>
<line x1="176.25" y1="1126.75" x2="176.25" y2="1128.75" stroke="#4a4a4a" stroke-width="0.8"/>
<text x="176.25" y="1134.5" font-size="6.1" text-anchor="middle" font-weight="normal" fill="#4d4d4d" >MFL</text>
<line x1="212.5" y1="1126.75" x2="212.5" y2="1128.75" stroke="#4a4a4a" stroke-width="0.8"/>
<text x="212.5" y="1134.5" font-size="6.1" text-anchor="middle" font-weight="normal" fill="#4d4d4d" >SFL</text>
<text x="176.25" y="1143" font-size="7.0" text-anchor="middle" font-weight="normal" fill="#1a1a1a" >Group</text>
<text x="0" y="0" font-size="7" text-anchor="middle" fill="#1a1a1a" transform="translate(103.7,1019.8) rotate(-90)">Relative Abundance %</text>
<line x1="140" y1="1057.5" x2="140" y2="1091.25" stroke="#333" stroke-width="0.9"/>
<line x1="136.25" y1="1057.5" x2="143.75" y2="1057.5" stroke="#333" stroke-width="0.9"/>
<line x1="136.25" y1="1091.25" x2="143.75" y2="1091.25" stroke="#333" stroke-width="0.9"/>
<rect x="126.25" y="1058.25" width="27.5" height="25.0" fill="#f8a30f" stroke="#222" stroke-width="0.7"/>
<line x1="126.25" y1="1070" x2="153.75" y2="1070" stroke="#2a2a2a" stroke-width="1.3"/>
<circle cx="140" cy="982.5" r="1.7" fill="#000"/>
<line x1="176.25" y1="1053.75" x2="176.25" y2="1090.5" stroke="#333" stroke-width="0.9"/>
<line x1="172.5" y1="1053.75" x2="180.0" y2="1053.75" stroke="#333" stroke-width="0.9"/>
<line x1="172.5" y1="1090.5" x2="180.0" y2="1090.5" stroke="#333" stroke-width="0.9"/>
<rect x="162.5" y="1073.75" width="27.5" height="13.75" fill="#0e4382" stroke="#222" stroke-width="0.7"/>
<line x1="162.5" y1="1078.75" x2="190.0" y2="1078.75" stroke="#2a2a2a" stroke-width="1.3"/>
<line x1="212.5" y1="1051.25" x2="212.5" y2="1106.25" stroke="#333" stroke-width="0.9"/>
<line x1="208.75" y1="1051.25" x2="216.25" y2="1051.25" stroke="#333" stroke-width="0.9"/>
<line x1="208.75" y1="1106.25" x2="216.25" y2="1106.25" stroke="#333" stroke-width="0.9"/>
<rect x="198.75" y="1071.75" width="27.5" height="17.0" fill="#ef3524" stroke="#222" stroke-width="0.7"/>
<line x1="198.75" y1="1080" x2="226.25" y2="1080" stroke="#2a2a2a" stroke-width="1.3"/>
<circle cx="212.5" cy="1117" r="1.7" fill="#000"/>
<path d="M140,926 L140,922 L212.5,922 L212.5,926" fill="none" stroke="#3a3a3a" stroke-width="0.9"/>
<text x="176.25" y="920" font-size="6.8" text-anchor="middle" font-weight="normal" fill="#1a1a1a" >NS.</text>
<path d="M176.25,952.75 L176.25,948.75 L212.5,948.75 L212.5,952.75" fill="none" stroke="#3a3a3a" stroke-width="0.9"/>
<text x="194.375" y="946.75" font-size="6.8" text-anchor="middle" font-weight="normal" fill="#1a1a1a" >NS.</text>
<path d="M140,979.5 L140,975.5 L176.25,975.5 L176.25,979.5" fill="none" stroke="#3a3a3a" stroke-width="0.9"/>
<text x="158.125" y="973.5" font-size="6.8" text-anchor="middle" font-weight="normal" fill="#1a1a1a" >NS.</text>
<text x="244.5" y="1005" font-size="7.0" text-anchor="start" font-weight="normal" fill="#1a1a1a" >Group</text>
<line x1="250.375" y1="1009.5" x2="250.375" y2="1017.8" stroke="#333" stroke-width="0.6"/>
<rect x="246.25" y="1010.5" width="8.25" height="6.3" fill="#f8a30f" stroke="#222" stroke-width="0.6"/>
<line x1="246.25" y1="1013.65" x2="254.5" y2="1013.65" stroke="#333" stroke-width="0.6"/>
<text x="258.75" y="1015.65" font-size="5.9" text-anchor="start" font-weight="normal" fill="#222" >Norm</text>
<line x1="250.375" y1="1020.5" x2="250.375" y2="1028.8" stroke="#333" stroke-width="0.6"/>
<rect x="246.25" y="1021.5" width="8.25" height="6.3" fill="#0e4382" stroke="#222" stroke-width="0.6"/>
<line x1="246.25" y1="1024.65" x2="254.5" y2="1024.65" stroke="#333" stroke-width="0.6"/>
<text x="258.75" y="1026.65" font-size="5.9" text-anchor="start" font-weight="normal" fill="#222" >MFL</text>
<line x1="250.375" y1="1031.5" x2="250.375" y2="1039.8" stroke="#333" stroke-width="0.6"/>
<rect x="246.25" y="1032.5" width="8.25" height="6.3" fill="#ef3524" stroke="#222" stroke-width="0.6"/>
<line x1="246.25" y1="1035.65" x2="254.5" y2="1035.65" stroke="#333" stroke-width="0.6"/>
<text x="258.75" y="1037.65" font-size="5.9" text-anchor="start" font-weight="normal" fill="#222" >SFL</text>
<rect x="335" y="914.6" width="118.60000000000002" height="214.9999999999999" fill="#fff" stroke="#4a4a4a" stroke-width="0.9"/>
<text x="394" y="909.6" font-size="8.2" text-anchor="middle" font-weight="normal" fill="#1a1a1a" >Bifidobacterium</text>
<line x1="333" y1="919" x2="335" y2="919" stroke="#4a4a4a" stroke-width="0.8"/>
<text x="331.7" y="921.1" font-size="6.0" text-anchor="end" font-weight="normal" fill="#555" >5</text>
<line x1="333" y1="959.6" x2="335" y2="959.6" stroke="#4a4a4a" stroke-width="0.8"/>
<text x="331.7" y="961.7" font-size="6.0" text-anchor="end" font-weight="normal" fill="#555" >4</text>
<line x1="333" y1="1000" x2="335" y2="1000" stroke="#4a4a4a" stroke-width="0.8"/>
<text x="331.7" y="1002.1" font-size="6.0" text-anchor="end" font-weight="normal" fill="#555" >3</text>
<line x1="333" y1="1040.4" x2="335" y2="1040.4" stroke="#4a4a4a" stroke-width="0.8"/>
<text x="331.7" y="1042.5" font-size="6.0" text-anchor="end" font-weight="normal" fill="#555" >2</text>
<line x1="333" y1="1081" x2="335" y2="1081" stroke="#4a4a4a" stroke-width="0.8"/>
<text x="331.7" y="1083.1" font-size="6.0" text-anchor="end" font-weight="normal" fill="#555" >1</text>
<line x1="333" y1="1121.6" x2="335" y2="1121.6" stroke="#4a4a4a" stroke-width="0.8"/>
<text x="331.7" y="1123.6999999999998" font-size="6.0" text-anchor="end" font-weight="normal" fill="#555" >0</text>
<line x1="357" y1="1129.6" x2="357" y2="1131.6" stroke="#4a4a4a" stroke-width="0.8"/>
<text x="357" y="1136.5" font-size="6.1" text-anchor="middle" font-weight="normal" fill="#4d4d4d" >Norm</text>
<line x1="393.6" y1="1129.6" x2="393.6" y2="1131.6" stroke="#4a4a4a" stroke-width="0.8"/>
<text x="393.6" y="1136.5" font-size="6.1" text-anchor="middle" font-weight="normal" fill="#4d4d4d" >MFL</text>
<line x1="431.4" y1="1129.6" x2="431.4" y2="1131.6" stroke="#4a4a4a" stroke-width="0.8"/>
<text x="431.4" y="1136.5" font-size="6.1" text-anchor="middle" font-weight="normal" fill="#4d4d4d" >SFL</text>
<text x="394.2" y="1144.5" font-size="7.0" text-anchor="middle" font-weight="normal" fill="#1a1a1a" >Group</text>
<text x="0" y="0" font-size="7" text-anchor="middle" fill="#1a1a1a" transform="translate(325.7,1022.3) rotate(-90)">Relative Abundance %</text>
<line x1="357" y1="1113.4" x2="357" y2="1119.4" stroke="#333" stroke-width="0.9"/>
<line x1="353.25" y1="1113.4" x2="360.75" y2="1113.4" stroke="#333" stroke-width="0.9"/>
<line x1="353.25" y1="1119.4" x2="360.75" y2="1119.4" stroke="#333" stroke-width="0.9"/>
<rect x="343.5" y="1116.4" width="27" height="2.0" fill="#f8a30f" stroke="#222" stroke-width="0.7"/>
<line x1="343.5" y1="1117.5" x2="370.5" y2="1117.5" stroke="#2a2a2a" stroke-width="1.3"/>
<line x1="393.6" y1="1064.4" x2="393.6" y2="1119.6" stroke="#333" stroke-width="0.9"/>
<line x1="389.85" y1="1064.4" x2="397.35" y2="1064.4" stroke="#333" stroke-width="0.9"/>
<line x1="389.85" y1="1119.6" x2="397.35" y2="1119.6" stroke="#333" stroke-width="0.9"/>
<rect x="380.1" y="1077.6" width="27" height="38.0" fill="#0e4382" stroke="#222" stroke-width="0.7"/>
<line x1="380.1" y1="1112.4" x2="407.1" y2="1112.4" stroke="#2a2a2a" stroke-width="1.3"/>
<circle cx="393.6" cy="985" r="1.7" fill="#000"/>
<line x1="431.4" y1="1102.6" x2="431.4" y2="1118" stroke="#333" stroke-width="0.9"/>
<line x1="427.65" y1="1102.6" x2="435.15" y2="1102.6" stroke="#333" stroke-width="0.9"/>
<line x1="427.65" y1="1118" x2="435.15" y2="1118" stroke="#333" stroke-width="0.9"/>
<rect x="417.9" y="1103" width="27" height="14" fill="#ef3524" stroke="#222" stroke-width="0.7"/>
<line x1="417.9" y1="1114.4" x2="444.9" y2="1114.4" stroke="#2a2a2a" stroke-width="1.3"/>
<circle cx="431.4" cy="1080.4" r="1.7" fill="#000"/>
<circle cx="431.4" cy="992" r="1.7" fill="#000"/>
<path d="M357,929 L357,925 L431.4,925 L431.4,929" fill="none" stroke="#3a3a3a" stroke-width="0.9"/>
<text x="394.2" y="922" font-size="7.5" text-anchor="middle" font-weight="normal" fill="#1a1a1a" >*</text>
<path d="M393.6,955 L393.6,951 L431.4,951 L431.4,955" fill="none" stroke="#3a3a3a" stroke-width="0.9"/>
<text x="412.5" y="949" font-size="6.8" text-anchor="middle" font-weight="normal" fill="#1a1a1a" >NS.</text>
<path d="M357,982 L357,978 L393.6,978 L393.6,982" fill="none" stroke="#3a3a3a" stroke-width="0.9"/>
<text x="375.3" y="975" font-size="7.5" text-anchor="middle" font-weight="normal" fill="#1a1a1a" >*</text>
<text x="464" y="1007.6" font-size="7.0" text-anchor="start" font-weight="normal" fill="#1a1a1a" >Group</text>
<line x1="469.0" y1="1012.6" x2="469.0" y2="1020.4" stroke="#333" stroke-width="0.6"/>
<rect x="465" y="1013.6" width="8" height="5.8" fill="#f8a30f" stroke="#222" stroke-width="0.6"/>
<line x1="465" y1="1016.5" x2="473" y2="1016.5" stroke="#333" stroke-width="0.6"/>
<text x="477.6" y="1018.5" font-size="5.9" text-anchor="start" font-weight="normal" fill="#222" >Norm</text>
<line x1="469.0" y1="1023.4000000000001" x2="469.0" y2="1031.2" stroke="#333" stroke-width="0.6"/>
<rect x="465" y="1024.4" width="8" height="5.8" fill="#0e4382" stroke="#222" stroke-width="0.6"/>
<line x1="465" y1="1027.3000000000002" x2="473" y2="1027.3000000000002" stroke="#333" stroke-width="0.6"/>
<text x="477.6" y="1029.3000000000002" font-size="5.9" text-anchor="start" font-weight="normal" fill="#222" >MFL</text>
<line x1="469.0" y1="1034.4" x2="469.0" y2="1042.2" stroke="#333" stroke-width="0.6"/>
<rect x="465" y="1035.4" width="8" height="5.8" fill="#ef3524" stroke="#222" stroke-width="0.6"/>
<line x1="465" y1="1038.3000000000002" x2="473" y2="1038.3000000000002" stroke="#333" stroke-width="0.6"/>
<text x="477.6" y="1040.3000000000002" font-size="5.9" text-anchor="start" font-weight="normal" fill="#222" >SFL</text>
<rect x="560.4" y="914.6" width="126.0" height="214.9999999999999" fill="#fff" stroke="#4a4a4a" stroke-width="0.9"/>
<text x="623" y="909.6" font-size="8.9" text-anchor="middle" font-weight="normal" fill="#1a1a1a" >Treponema</text>
<line x1="558.4" y1="922.4" x2="560.4" y2="922.4" stroke="#4a4a4a" stroke-width="0.8"/>
<text x="557.1" y="924.5" font-size="6.36" text-anchor="end" font-weight="normal" fill="#555" >1.6</text>
<line x1="558.4" y1="978" x2="560.4" y2="978" stroke="#4a4a4a" stroke-width="0.8"/>
<text x="557.1" y="980.1" font-size="6.36" text-anchor="end" font-weight="normal" fill="#555" >1.2</text>
<line x1="558.4" y1="1033.6" x2="560.4" y2="1033.6" stroke="#4a4a4a" stroke-width="0.8"/>
<text x="557.1" y="1035.6999999999998" font-size="6.36" text-anchor="end" font-weight="normal" fill="#555" >0.8</text>
<line x1="558.4" y1="1089.6" x2="560.4" y2="1089.6" stroke="#4a4a4a" stroke-width="0.8"/>
<text x="557.1" y="1091.6999999999998" font-size="6.36" text-anchor="end" font-weight="normal" fill="#555" >0.4</text>
<line x1="584" y1="1129.6" x2="584" y2="1131.6" stroke="#4a4a4a" stroke-width="0.8"/>
<text x="584" y="1136.5" font-size="6.466" text-anchor="middle" font-weight="normal" fill="#4d4d4d" >Norm</text>
<line x1="623.4" y1="1129.6" x2="623.4" y2="1131.6" stroke="#4a4a4a" stroke-width="0.8"/>
<text x="623.4" y="1136.5" font-size="6.466" text-anchor="middle" font-weight="normal" fill="#4d4d4d" >MFL</text>
<line x1="663" y1="1129.6" x2="663" y2="1131.6" stroke="#4a4a4a" stroke-width="0.8"/>
<text x="663" y="1136.5" font-size="6.466" text-anchor="middle" font-weight="normal" fill="#4d4d4d" >SFL</text>
<text x="623.5" y="1144.5" font-size="7.42" text-anchor="middle" font-weight="normal" fill="#1a1a1a" >Group</text>
<text x="0" y="0" font-size="7" text-anchor="middle" fill="#1a1a1a" transform="translate(543.7,1022.2) rotate(-90)">Relative Abundance %</text>
<line x1="584" y1="1051.4" x2="584" y2="1111.4" stroke="#333" stroke-width="0.9"/>
<line x1="580.25" y1="1051.4" x2="587.75" y2="1051.4" stroke="#333" stroke-width="0.9"/>
<line x1="580.25" y1="1111.4" x2="587.75" y2="1111.4" stroke="#333" stroke-width="0.9"/>
<rect x="569.5" y="1078.6" width="29" height="22.800000000000182" fill="#f8a30f" stroke="#222" stroke-width="0.7"/>
<line x1="569.5" y1="1095.4" x2="598.5" y2="1095.4" stroke="#2a2a2a" stroke-width="1.3"/>
<circle cx="584" cy="1032" r="1.7" fill="#000"/>
<line x1="623.4" y1="1071.4" x2="623.4" y2="1088.4" stroke="#333" stroke-width="0.9"/>
<line x1="619.65" y1="1071.4" x2="627.15" y2="1071.4" stroke="#333" stroke-width="0.9"/>
<line x1="619.65" y1="1088.4" x2="627.15" y2="1088.4" stroke="#333" stroke-width="0.9"/>
<rect x="608.9" y="1074.4" width="29" height="9.199999999999818" fill="#0e4382" stroke="#222" stroke-width="0.7"/>
<line x1="608.9" y1="1078" x2="637.9" y2="1078" stroke="#2a2a2a" stroke-width="1.3"/>
<circle cx="623.4" cy="1115.6" r="1.7" fill="#000"/>
<line x1="663" y1="985" x2="663" y2="1120" stroke="#333" stroke-width="0.9"/>
<line x1="659.25" y1="985" x2="666.75" y2="985" stroke="#333" stroke-width="0.9"/>
<line x1="659.25" y1="1120" x2="666.75" y2="1120" stroke="#333" stroke-width="0.9"/>
<rect x="648.5" y="1011.6" width="29" height="66.99999999999989" fill="#ef3524" stroke="#222" stroke-width="0.7"/>
<line x1="648.5" y1="1045.6" x2="677.5" y2="1045.6" stroke="#2a2a2a" stroke-width="1.3"/>
<path d="M584,928.6 L584,924.6 L663,924.6 L663,928.6" fill="none" stroke="#3a3a3a" stroke-width="0.9"/>
<text x="623.5" y="921.6" font-size="7.95" text-anchor="middle" font-weight="normal" fill="#1a1a1a" >*</text>
<path d="M623.4,955.4 L623.4,951.4 L663,951.4 L663,955.4" fill="none" stroke="#3a3a3a" stroke-width="0.9"/>
<text x="643.2" y="949.4" font-size="7.208" text-anchor="middle" font-weight="normal" fill="#1a1a1a" >NS.</text>
<path d="M584,982 L584,978 L623.4,978 L623.4,982" fill="none" stroke="#3a3a3a" stroke-width="0.9"/>
<text x="603.7" y="976" font-size="7.208" text-anchor="middle" font-weight="normal" fill="#1a1a1a" >NS.</text>
<clipPath id="lc2"><rect x="0" y="0" width="711" height="1430"/></clipPath><g clip-path="url(#lc2)">
<text x="698" y="1007.6" font-size="7.42" text-anchor="start" font-weight="normal" fill="#1a1a1a" >Group</text>
<line x1="704.3" y1="1012.6" x2="704.3" y2="1020.6" stroke="#333" stroke-width="0.6"/>
<rect x="699.6" y="1013.6" width="9.399999999999977" height="6" fill="#f8a30f" stroke="#222" stroke-width="0.6"/>
<line x1="699.6" y1="1016.6" x2="709" y2="1016.6" stroke="#333" stroke-width="0.6"/>
<line x1="704.3" y1="1023.2" x2="704.3" y2="1031.2" stroke="#333" stroke-width="0.6"/>
<rect x="699.6" y="1024.2" width="9.399999999999977" height="6" fill="#0e4382" stroke="#222" stroke-width="0.6"/>
<line x1="699.6" y1="1027.2" x2="709" y2="1027.2" stroke="#333" stroke-width="0.6"/>
<line x1="704.3" y1="1034" x2="704.3" y2="1042" stroke="#333" stroke-width="0.6"/>
<rect x="699.6" y="1035" width="9.399999999999977" height="6" fill="#ef3524" stroke="#222" stroke-width="0.6"/>
<line x1="699.6" y1="1038.0" x2="709" y2="1038.0" stroke="#333" stroke-width="0.6"/>
</g>
<rect x="773.6" y="913.4" width="132.0" height="213.60000000000002" fill="#fff" stroke="#4a4a4a" stroke-width="0.9"/>
<text x="839" y="908.3" font-size="9.1" text-anchor="middle" font-weight="normal" fill="#1a1a1a" >Bacteroides</text>
<line x1="771.6" y1="962.4" x2="773.6" y2="962.4" stroke="#4a4a4a" stroke-width="0.8"/>
<text x="770.3000000000001" y="964.5" font-size="6.48" text-anchor="end" font-weight="normal" fill="#555" >3</text>
<line x1="771.6" y1="1030" x2="773.6" y2="1030" stroke="#4a4a4a" stroke-width="0.8"/>
<text x="770.3000000000001" y="1032.1" font-size="6.48" text-anchor="end" font-weight="normal" fill="#555" >2</text>
<line x1="771.6" y1="1097.6" x2="773.6" y2="1097.6" stroke="#4a4a4a" stroke-width="0.8"/>
<text x="770.3000000000001" y="1099.6999999999998" font-size="6.48" text-anchor="end" font-weight="normal" fill="#555" >1</text>
<line x1="798.4" y1="1127" x2="798.4" y2="1129" stroke="#4a4a4a" stroke-width="0.8"/>
<text x="798.4" y="1134.5" font-size="6.588" text-anchor="middle" font-weight="normal" fill="#4d4d4d" >Norm</text>
<line x1="839.6" y1="1127" x2="839.6" y2="1129" stroke="#4a4a4a" stroke-width="0.8"/>
<text x="839.6" y="1134.5" font-size="6.588" text-anchor="middle" font-weight="normal" fill="#4d4d4d" >MFL</text>
<line x1="880.6" y1="1127" x2="880.6" y2="1129" stroke="#4a4a4a" stroke-width="0.8"/>
<text x="880.6" y="1134.5" font-size="6.588" text-anchor="middle" font-weight="normal" fill="#4d4d4d" >SFL</text>
<text x="839.5" y="1142.5" font-size="7.5600000000000005" text-anchor="middle" font-weight="normal" fill="#1a1a1a" >Group</text>
<text x="0" y="0" font-size="7" text-anchor="middle" fill="#1a1a1a" transform="translate(762.6,1020.6) rotate(-90)">Relative Abundance %</text>
<line x1="798.4" y1="1006.4" x2="798.4" y2="1107.4" stroke="#333" stroke-width="0.9"/>
<line x1="794.65" y1="1006.4" x2="802.15" y2="1006.4" stroke="#333" stroke-width="0.9"/>
<line x1="794.65" y1="1107.4" x2="802.15" y2="1107.4" stroke="#333" stroke-width="0.9"/>
<rect x="783.1" y="1049.4" width="30.6" height="49.0" fill="#f8a30f" stroke="#222" stroke-width="0.7"/>
<line x1="783.1" y1="1089.4" x2="813.6999999999999" y2="1089.4" stroke="#2a2a2a" stroke-width="1.3"/>
<line x1="839.6" y1="1074" x2="839.6" y2="1117.4" stroke="#333" stroke-width="0.9"/>
<line x1="835.85" y1="1074" x2="843.35" y2="1074" stroke="#333" stroke-width="0.9"/>
<line x1="835.85" y1="1117.4" x2="843.35" y2="1117.4" stroke="#333" stroke-width="0.9"/>
<rect x="824.3000000000001" y="1088" width="30.6" height="15.400000000000091" fill="#0e4382" stroke="#222" stroke-width="0.7"/>
<line x1="824.3000000000001" y1="1092.4" x2="854.9" y2="1092.4" stroke="#2a2a2a" stroke-width="1.3"/>
<line x1="880.6" y1="1072.4" x2="880.6" y2="1107.6" stroke="#333" stroke-width="0.9"/>
<line x1="876.85" y1="1072.4" x2="884.35" y2="1072.4" stroke="#333" stroke-width="0.9"/>
<line x1="876.85" y1="1107.6" x2="884.35" y2="1107.6" stroke="#333" stroke-width="0.9"/>
<rect x="865.3000000000001" y="1081.6" width="30.6" height="15.0" fill="#ef3524" stroke="#222" stroke-width="0.7"/>
<line x1="865.3000000000001" y1="1087.4" x2="895.9" y2="1087.4" stroke="#2a2a2a" stroke-width="1.3"/>
<circle cx="880.6" cy="983.4" r="1.7" fill="#000"/>
<circle cx="880.6" cy="1056" r="1.7" fill="#000"/>
<path d="M798.4,927 L798.4,923 L880.6,923 L880.6,927" fill="none" stroke="#3a3a3a" stroke-width="0.9"/>
<text x="839.5" y="921" font-size="7.344" text-anchor="middle" font-weight="normal" fill="#1a1a1a" >NS.</text>
<path d="M839.6,954 L839.6,950 L880.6,950 L880.6,954" fill="none" stroke="#3a3a3a" stroke-width="0.9"/>
<text x="860.1" y="948" font-size="7.344" text-anchor="middle" font-weight="normal" fill="#1a1a1a" >NS.</text>
<path d="M798.4,981 L798.4,977 L839.6,977 L839.6,981" fill="none" stroke="#3a3a3a" stroke-width="0.9"/>
<text x="819.0" y="975" font-size="7.344" text-anchor="middle" font-weight="normal" fill="#1a1a1a" >NS.</text>
<clipPath id="lc3"><rect x="0" y="0" width="930" height="1430"/></clipPath><g clip-path="url(#lc3)">
<text x="917.4" y="1005.5" font-size="7.5600000000000005" text-anchor="start" font-weight="normal" fill="#1a1a1a" >Group</text>
<line x1="923.2" y1="1010.4" x2="923.2" y2="1018.4" stroke="#333" stroke-width="0.6"/>
<rect x="918.4" y="1011.4" width="9.600000000000023" height="6" fill="#f8a30f" stroke="#222" stroke-width="0.6"/>
<line x1="918.4" y1="1014.4" x2="928" y2="1014.4" stroke="#333" stroke-width="0.6"/>
<line x1="923.2" y1="1021.4" x2="923.2" y2="1029.4" stroke="#333" stroke-width="0.6"/>
<rect x="918.4" y="1022.4" width="9.600000000000023" height="6" fill="#0e4382" stroke="#222" stroke-width="0.6"/>
<line x1="918.4" y1="1025.4" x2="928" y2="1025.4" stroke="#333" stroke-width="0.6"/>
<line x1="923.2" y1="1032.4" x2="923.2" y2="1040.4" stroke="#333" stroke-width="0.6"/>
<rect x="918.4" y="1033.4" width="9.600000000000023" height="6" fill="#ef3524" stroke="#222" stroke-width="0.6"/>
<line x1="918.4" y1="1036.4" x2="928" y2="1036.4" stroke="#333" stroke-width="0.6"/>
</g>
<rect x="991.6" y="913.6" width="119.60000000000002" height="214.89999999999998" fill="#fff" stroke="#4a4a4a" stroke-width="0.9"/>
<text x="1051" y="908.8" font-size="8.1" text-anchor="middle" font-weight="normal" fill="#1a1a1a" >Prevotella</text>
<line x1="989.6" y1="916.8" x2="991.6" y2="916.8" stroke="#4a4a4a" stroke-width="0.8"/>
<text x="988.3000000000001" y="918.9" font-size="6.0" text-anchor="end" font-weight="normal" fill="#555" >4</text>
<line x1="989.6" y1="976.9" x2="991.6" y2="976.9" stroke="#4a4a4a" stroke-width="0.8"/>
<text x="988.3000000000001" y="979.0" font-size="6.0" text-anchor="end" font-weight="normal" fill="#555" >3</text>
<line x1="989.6" y1="1036.4" x2="991.6" y2="1036.4" stroke="#4a4a4a" stroke-width="0.8"/>
<text x="988.3000000000001" y="1038.5" font-size="6.0" text-anchor="end" font-weight="normal" fill="#555" >2</text>
<line x1="989.6" y1="1096.3" x2="991.6" y2="1096.3" stroke="#4a4a4a" stroke-width="0.8"/>
<text x="988.3000000000001" y="1098.3999999999999" font-size="6.0" text-anchor="end" font-weight="normal" fill="#555" >1</text>
<line x1="1013.7" y1="1128.5" x2="1013.7" y2="1130.5" stroke="#4a4a4a" stroke-width="0.8"/>
<text x="1013.7" y="1136" font-size="6.1" text-anchor="middle" font-weight="normal" fill="#4d4d4d" >Norm</text>
<line x1="1051" y1="1128.5" x2="1051" y2="1130.5" stroke="#4a4a4a" stroke-width="0.8"/>
<text x="1051" y="1136" font-size="6.1" text-anchor="middle" font-weight="normal" fill="#4d4d4d" >MFL</text>
<line x1="1088.4" y1="1128.5" x2="1088.4" y2="1130.5" stroke="#4a4a4a" stroke-width="0.8"/>
<text x="1088.4" y="1136" font-size="6.1" text-anchor="middle" font-weight="normal" fill="#4d4d4d" >SFL</text>
<text x="1051.0500000000002" y="1144.5" font-size="7.0" text-anchor="middle" font-weight="normal" fill="#1a1a1a" >Group</text>
<text x="0" y="0" font-size="7" text-anchor="middle" fill="#1a1a1a" transform="translate(982,1021.2) rotate(-90)">Relative Abundance %</text>
<line x1="1013.7" y1="1068.5" x2="1013.7" y2="1099.3" stroke="#333" stroke-width="0.9"/>
<line x1="1009.95" y1="1068.5" x2="1017.45" y2="1068.5" stroke="#333" stroke-width="0.9"/>
<line x1="1009.95" y1="1099.3" x2="1017.45" y2="1099.3" stroke="#333" stroke-width="0.9"/>
<rect x="999.95" y="1071.8" width="27.5" height="19.5" fill="#f8a30f" stroke="#222" stroke-width="0.7"/>
<line x1="999.95" y1="1083.2" x2="1027.45" y2="1083.2" stroke="#2a2a2a" stroke-width="1.3"/>
<circle cx="1013.7" cy="984" r="1.7" fill="#000"/>
<circle cx="1013.7" cy="1040.8" r="1.7" fill="#000"/>
<line x1="1051" y1="1047.5" x2="1051" y2="1118.8" stroke="#333" stroke-width="0.9"/>
<line x1="1047.25" y1="1047.5" x2="1054.75" y2="1047.5" stroke="#333" stroke-width="0.9"/>
<line x1="1047.25" y1="1118.8" x2="1054.75" y2="1118.8" stroke="#333" stroke-width="0.9"/>
<rect x="1037.25" y="1068.1" width="27.5" height="42.200000000000045" fill="#0e4382" stroke="#222" stroke-width="0.7"/>
<line x1="1037.25" y1="1097.8" x2="1064.75" y2="1097.8" stroke="#2a2a2a" stroke-width="1.3"/>
<line x1="1088.4" y1="1038.2" x2="1088.4" y2="1105.4" stroke="#333" stroke-width="0.9"/>
<line x1="1084.65" y1="1038.2" x2="1092.15" y2="1038.2" stroke="#333" stroke-width="0.9"/>
<line x1="1084.65" y1="1105.4" x2="1092.15" y2="1105.4" stroke="#333" stroke-width="0.9"/>
<rect x="1074.65" y="1065.3" width="27.5" height="35.700000000000045" fill="#ef3524" stroke="#222" stroke-width="0.7"/>
<line x1="1074.65" y1="1084.1" x2="1102.15" y2="1084.1" stroke="#2a2a2a" stroke-width="1.3"/>
<path d="M1013.7,927.3 L1013.7,923.3 L1088.4,923.3 L1088.4,927.3" fill="none" stroke="#3a3a3a" stroke-width="0.9"/>
<text x="1051.0500000000002" y="921.3" font-size="6.8" text-anchor="middle" font-weight="normal" fill="#1a1a1a" >NS.</text>
<path d="M1051,954 L1051,950 L1088.4,950 L1088.4,954" fill="none" stroke="#3a3a3a" stroke-width="0.9"/>
<text x="1069.7" y="948" font-size="6.8" text-anchor="middle" font-weight="normal" fill="#1a1a1a" >NS.</text>
<path d="M1013.7,981 L1013.7,977 L1051,977 L1051,981" fill="none" stroke="#3a3a3a" stroke-width="0.9"/>
<text x="1032.35" y="975" font-size="6.8" text-anchor="middle" font-weight="normal" fill="#1a1a1a" >NS.</text>
<text x="1121" y="1006.6" font-size="7.0" text-anchor="start" font-weight="normal" fill="#1a1a1a" >Group</text>
<line x1="1126.5" y1="1011.2" x2="1126.5" y2="1019.2" stroke="#333" stroke-width="0.6"/>
<rect x="1122" y="1012.2" width="9" height="6" fill="#f8a30f" stroke="#222" stroke-width="0.6"/>
<line x1="1122" y1="1015.2" x2="1131" y2="1015.2" stroke="#333" stroke-width="0.6"/>
<text x="1135" y="1017.2" font-size="5.9" text-anchor="start" font-weight="normal" fill="#222" >Norm</text>
<line x1="1126.5" y1="1022.4" x2="1126.5" y2="1030.4" stroke="#333" stroke-width="0.6"/>
<rect x="1122" y="1023.4" width="9" height="6" fill="#0e4382" stroke="#222" stroke-width="0.6"/>
<line x1="1122" y1="1026.4" x2="1131" y2="1026.4" stroke="#333" stroke-width="0.6"/>
<text x="1135" y="1028.4" font-size="5.9" text-anchor="start" font-weight="normal" fill="#222" >MFL</text>
<line x1="1126.5" y1="1033.5" x2="1126.5" y2="1041.5" stroke="#333" stroke-width="0.6"/>
<rect x="1122" y="1034.5" width="9" height="6" fill="#ef3524" stroke="#222" stroke-width="0.6"/>
<line x1="1122" y1="1037.5" x2="1131" y2="1037.5" stroke="#333" stroke-width="0.6"/>
<text x="1135" y="1039.5" font-size="5.9" text-anchor="start" font-weight="normal" fill="#222" >SFL</text>
<rect x="120" y="1193.75" width="120.5" height="215.75" fill="#fff" stroke="#4a4a4a" stroke-width="0.9"/>
<text x="180" y="1188.75" font-size="8.2" text-anchor="middle" font-weight="normal" fill="#1a1a1a" >Prevotella bryantii</text>
<line x1="118" y1="1215" x2="120" y2="1215" stroke="#4a4a4a" stroke-width="0.8"/>
<text x="116.7" y="1217.1" font-size="6.0" text-anchor="end" font-weight="normal" fill="#555" >3</text>
<line x1="118" y1="1277.5" x2="120" y2="1277.5" stroke="#4a4a4a" stroke-width="0.8"/>
<text x="116.7" y="1279.6" font-size="6.0" text-anchor="end" font-weight="normal" fill="#555" >2</text>
<line x1="118" y1="1339.5" x2="120" y2="1339.5" stroke="#4a4a4a" stroke-width="0.8"/>
<text x="116.7" y="1341.6" font-size="6.0" text-anchor="end" font-weight="normal" fill="#555" >1</text>
<line x1="118" y1="1402" x2="120" y2="1402" stroke="#4a4a4a" stroke-width="0.8"/>
<text x="116.7" y="1404.1" font-size="6.0" text-anchor="end" font-weight="normal" fill="#555" >0</text>
<line x1="142.5" y1="1409.5" x2="142.5" y2="1411.5" stroke="#4a4a4a" stroke-width="0.8"/>
<text x="142.5" y="1417.5" font-size="6.1" text-anchor="middle" font-weight="normal" fill="#4d4d4d" >Norm</text>
<line x1="180" y1="1409.5" x2="180" y2="1411.5" stroke="#4a4a4a" stroke-width="0.8"/>
<text x="180" y="1417.5" font-size="6.1" text-anchor="middle" font-weight="normal" fill="#4d4d4d" >MFL</text>
<line x1="217.5" y1="1409.5" x2="217.5" y2="1411.5" stroke="#4a4a4a" stroke-width="0.8"/>
<text x="217.5" y="1417.5" font-size="6.1" text-anchor="middle" font-weight="normal" fill="#4d4d4d" >SFL</text>
<text x="180.0" y="1425.5" font-size="7.0" text-anchor="middle" font-weight="normal" fill="#1a1a1a" >Group</text>
<text x="0" y="0" font-size="7" text-anchor="middle" fill="#1a1a1a" transform="translate(110.3,1302.3) rotate(-90)">Relative Abundance %</text>
<line x1="142.5" y1="1354.5" x2="142.5" y2="1398.75" stroke="#333" stroke-width="0.9"/>
<line x1="138.75" y1="1354.5" x2="146.25" y2="1354.5" stroke="#333" stroke-width="0.9"/>
<line x1="138.75" y1="1398.75" x2="146.25" y2="1398.75" stroke="#333" stroke-width="0.9"/>
<rect x="128.25" y="1375" width="28.5" height="16.75" fill="#f8a30f" stroke="#222" stroke-width="0.7"/>
<line x1="128.25" y1="1385" x2="156.75" y2="1385" stroke="#2a2a2a" stroke-width="1.3"/>
<circle cx="142.5" cy="1265" r="1.7" fill="#000"/>
<line x1="180" y1="1383.75" x2="180" y2="1400" stroke="#333" stroke-width="0.9"/>
<line x1="176.25" y1="1383.75" x2="183.75" y2="1383.75" stroke="#333" stroke-width="0.9"/>
<line x1="176.25" y1="1400" x2="183.75" y2="1400" stroke="#333" stroke-width="0.9"/>
<rect x="165.75" y="1386.75" width="28.5" height="11.25" fill="#0e4382" stroke="#222" stroke-width="0.7"/>
<line x1="165.75" y1="1389.25" x2="194.25" y2="1389.25" stroke="#2a2a2a" stroke-width="1.3"/>
<circle cx="180" cy="1286.75" r="1.7" fill="#000"/>
<line x1="217.5" y1="1380.5" x2="217.5" y2="1400" stroke="#333" stroke-width="0.9"/>
<line x1="213.75" y1="1380.5" x2="221.25" y2="1380.5" stroke="#333" stroke-width="0.9"/>
<line x1="213.75" y1="1400" x2="221.25" y2="1400" stroke="#333" stroke-width="0.9"/>
<rect x="203.25" y="1388" width="28.5" height="8.25" fill="#ef3524" stroke="#222" stroke-width="0.7"/>
<line x1="203.25" y1="1393" x2="231.75" y2="1393" stroke="#2a2a2a" stroke-width="1.3"/>
<path d="M142.5,1208.5 L142.5,1204.5 L217.5,1204.5 L217.5,1208.5" fill="none" stroke="#3a3a3a" stroke-width="0.9"/>
<text x="180.0" y="1202.5" font-size="6.8" text-anchor="middle" font-weight="normal" fill="#1a1a1a" >NS.</text>
<path d="M180,1235.25 L180,1231.25 L217.5,1231.25 L217.5,1235.25" fill="none" stroke="#3a3a3a" stroke-width="0.9"/>
<text x="198.75" y="1229.25" font-size="6.8" text-anchor="middle" font-weight="normal" fill="#1a1a1a" >NS.</text>
<path d="M142.5,1262 L142.5,1258 L180,1258 L180,1262" fill="none" stroke="#3a3a3a" stroke-width="0.9"/>
<text x="161.25" y="1256" font-size="6.8" text-anchor="middle" font-weight="normal" fill="#1a1a1a" >NS.</text>
<text x="250.75" y="1287" font-size="7.0" text-anchor="start" font-weight="normal" fill="#1a1a1a" >Group</text>
<line x1="256.25" y1="1292.25" x2="256.25" y2="1300.25" stroke="#333" stroke-width="0.6"/>
<rect x="252" y="1293.25" width="8.5" height="6" fill="#f8a30f" stroke="#222" stroke-width="0.6"/>
<line x1="252" y1="1296.25" x2="260.5" y2="1296.25" stroke="#333" stroke-width="0.6"/>
<text x="265" y="1298.25" font-size="5.9" text-anchor="start" font-weight="normal" fill="#222" >Norm</text>
<line x1="256.25" y1="1303" x2="256.25" y2="1311" stroke="#333" stroke-width="0.6"/>
<rect x="252" y="1304" width="8.5" height="6" fill="#0e4382" stroke="#222" stroke-width="0.6"/>
<line x1="252" y1="1307.0" x2="260.5" y2="1307.0" stroke="#333" stroke-width="0.6"/>
<text x="265" y="1309.0" font-size="5.9" text-anchor="start" font-weight="normal" fill="#222" >MFL</text>
<line x1="256.25" y1="1314.5" x2="256.25" y2="1322.5" stroke="#333" stroke-width="0.6"/>
<rect x="252" y="1315.5" width="8.5" height="6" fill="#ef3524" stroke="#222" stroke-width="0.6"/>
<line x1="252" y1="1318.5" x2="260.5" y2="1318.5" stroke="#333" stroke-width="0.6"/>
<text x="265" y="1320.5" font-size="5.9" text-anchor="start" font-weight="normal" fill="#222" >SFL</text>
<rect x="346" y="1195.6" width="111" height="217.4000000000001" fill="#fff" stroke="#4a4a4a" stroke-width="0.9"/>
<text x="401" y="1190.4" font-size="8.2" text-anchor="middle" font-weight="normal" fill="#1a1a1a" >Prevotella ruminicola</text>
<line x1="344" y1="1215" x2="346" y2="1215" stroke="#4a4a4a" stroke-width="0.8"/>
<text x="342.7" y="1217.1" font-size="6.0" text-anchor="end" font-weight="normal" fill="#555" >1.00</text>
<line x1="344" y1="1267.6" x2="346" y2="1267.6" stroke="#4a4a4a" stroke-width="0.8"/>
<text x="342.7" y="1269.6999999999998" font-size="6.0" text-anchor="end" font-weight="normal" fill="#555" >0.75</text>
<line x1="344" y1="1320.4" x2="346" y2="1320.4" stroke="#4a4a4a" stroke-width="0.8"/>
<text x="342.7" y="1322.5" font-size="6.0" text-anchor="end" font-weight="normal" fill="#555" >0.50</text>
<line x1="344" y1="1373.4" x2="346" y2="1373.4" stroke="#4a4a4a" stroke-width="0.8"/>
<text x="342.7" y="1375.5" font-size="6.0" text-anchor="end" font-weight="normal" fill="#555" >0.25</text>
<line x1="366.6" y1="1413" x2="366.6" y2="1415" stroke="#4a4a4a" stroke-width="0.8"/>
<text x="366.6" y="1421" font-size="6.1" text-anchor="middle" font-weight="normal" fill="#4d4d4d" >Norm</text>
<line x1="401.4" y1="1413" x2="401.4" y2="1415" stroke="#4a4a4a" stroke-width="0.8"/>
<text x="401.4" y="1421" font-size="6.1" text-anchor="middle" font-weight="normal" fill="#4d4d4d" >MFL</text>
<line x1="436" y1="1413" x2="436" y2="1415" stroke="#4a4a4a" stroke-width="0.8"/>
<text x="436" y="1421" font-size="6.1" text-anchor="middle" font-weight="normal" fill="#4d4d4d" >SFL</text>
<text x="401.3" y="1429" font-size="7.0" text-anchor="middle" font-weight="normal" fill="#1a1a1a" >Group</text>
<text x="0" y="0" font-size="7" text-anchor="middle" fill="#1a1a1a" transform="translate(328.5,1305) rotate(-90)">Relative Abundance %</text>
<line x1="366.6" y1="1267" x2="366.6" y2="1401" stroke="#333" stroke-width="0.9"/>
<line x1="362.85" y1="1267" x2="370.35" y2="1267" stroke="#333" stroke-width="0.9"/>
<line x1="362.85" y1="1401" x2="370.35" y2="1401" stroke="#333" stroke-width="0.9"/>
<rect x="353.6" y="1336" width="26" height="53" fill="#f8a30f" stroke="#222" stroke-width="0.7"/>
<line x1="353.6" y1="1378" x2="379.6" y2="1378" stroke="#2a2a2a" stroke-width="1.3"/>
<line x1="401.4" y1="1369" x2="401.4" y2="1398.4" stroke="#333" stroke-width="0.9"/>
<line x1="397.65" y1="1369" x2="405.15" y2="1369" stroke="#333" stroke-width="0.9"/>
<line x1="397.65" y1="1398.4" x2="405.15" y2="1398.4" stroke="#333" stroke-width="0.9"/>
<rect x="388.4" y="1369.6" width="26" height="22.800000000000182" fill="#0e4382" stroke="#222" stroke-width="0.7"/>
<line x1="388.4" y1="1387" x2="414.4" y2="1387" stroke="#2a2a2a" stroke-width="1.3"/>
<circle cx="401.4" cy="1334.4" r="1.7" fill="#000"/>
<line x1="436" y1="1317" x2="436" y2="1403.4" stroke="#333" stroke-width="0.9"/>
<line x1="432.25" y1="1317" x2="439.75" y2="1317" stroke="#333" stroke-width="0.9"/>
<line x1="432.25" y1="1403.4" x2="439.75" y2="1403.4" stroke="#333" stroke-width="0.9"/>
<rect x="423.0" y="1353.6" width="26" height="27.40000000000009" fill="#ef3524" stroke="#222" stroke-width="0.7"/>
<line x1="423.0" y1="1368" x2="449.0" y2="1368" stroke="#2a2a2a" stroke-width="1.3"/>
<path d="M366.6,1209.6 L366.6,1205.6 L436,1205.6 L436,1209.6" fill="none" stroke="#3a3a3a" stroke-width="0.9"/>
<text x="401.3" y="1203.6" font-size="6.8" text-anchor="middle" font-weight="normal" fill="#1a1a1a" >NS.</text>
<path d="M401.4,1237 L401.4,1233 L436,1233 L436,1237" fill="none" stroke="#3a3a3a" stroke-width="0.9"/>
<text x="418.7" y="1231" font-size="6.8" text-anchor="middle" font-weight="normal" fill="#1a1a1a" >NS.</text>
<path d="M366.6,1264 L366.6,1260 L401.4,1260 L401.4,1264" fill="none" stroke="#3a3a3a" stroke-width="0.9"/>
<text x="384.0" y="1258" font-size="6.8" text-anchor="middle" font-weight="normal" fill="#1a1a1a" >NS.</text>
<text x="467.6" y="1289.5" font-size="7.0" text-anchor="start" font-weight="normal" fill="#1a1a1a" >Group</text>
<line x1="472.8" y1="1295" x2="472.8" y2="1302.6" stroke="#333" stroke-width="0.6"/>
<rect x="468.6" y="1296" width="8.399999999999977" height="5.6" fill="#f8a30f" stroke="#222" stroke-width="0.6"/>
<line x1="468.6" y1="1298.8" x2="477" y2="1298.8" stroke="#333" stroke-width="0.6"/>
<text x="481" y="1300.8" font-size="5.9" text-anchor="start" font-weight="normal" fill="#222" >Norm</text>
<line x1="472.8" y1="1306" x2="472.8" y2="1313.6" stroke="#333" stroke-width="0.6"/>
<rect x="468.6" y="1307" width="8.399999999999977" height="5.6" fill="#0e4382" stroke="#222" stroke-width="0.6"/>
<line x1="468.6" y1="1309.8" x2="477" y2="1309.8" stroke="#333" stroke-width="0.6"/>
<text x="481" y="1311.8" font-size="5.9" text-anchor="start" font-weight="normal" fill="#222" >MFL</text>
<line x1="472.8" y1="1317" x2="472.8" y2="1324.6" stroke="#333" stroke-width="0.6"/>
<rect x="468.6" y="1318" width="8.399999999999977" height="5.6" fill="#ef3524" stroke="#222" stroke-width="0.6"/>
<line x1="468.6" y1="1320.8" x2="477" y2="1320.8" stroke="#333" stroke-width="0.6"/>
<text x="481" y="1322.8" font-size="5.9" text-anchor="start" font-weight="normal" fill="#222" >SFL</text>
<rect x="557.4" y="1195.6" width="118.0" height="214.4000000000001" fill="#fff" stroke="#4a4a4a" stroke-width="0.9"/>
<text x="616" y="1190.4" font-size="8.2" text-anchor="middle" font-weight="normal" fill="#1a1a1a" >Bifidobacterium pseudolongum</text>
<line x1="555.4" y1="1209.4" x2="557.4" y2="1209.4" stroke="#4a4a4a" stroke-width="0.8"/>
<text x="554.1" y="1211.5" font-size="6.0" text-anchor="end" font-weight="normal" fill="#555" >3</text>
<line x1="555.4" y1="1273.6" x2="557.4" y2="1273.6" stroke="#4a4a4a" stroke-width="0.8"/>
<text x="554.1" y="1275.6999999999998" font-size="6.0" text-anchor="end" font-weight="normal" fill="#555" >2</text>
<line x1="555.4" y1="1338" x2="557.4" y2="1338" stroke="#4a4a4a" stroke-width="0.8"/>
<text x="554.1" y="1340.1" font-size="6.0" text-anchor="end" font-weight="normal" fill="#555" >1</text>
<line x1="555.4" y1="1402.4" x2="557.4" y2="1402.4" stroke="#4a4a4a" stroke-width="0.8"/>
<text x="554.1" y="1404.5" font-size="6.0" text-anchor="end" font-weight="normal" fill="#555" >0</text>
<line x1="579" y1="1410" x2="579" y2="1412" stroke="#4a4a4a" stroke-width="0.8"/>
<text x="579" y="1418" font-size="6.1" text-anchor="middle" font-weight="normal" fill="#4d4d4d" >Norm</text>
<line x1="616.6" y1="1410" x2="616.6" y2="1412" stroke="#4a4a4a" stroke-width="0.8"/>
<text x="616.6" y="1418" font-size="6.1" text-anchor="middle" font-weight="normal" fill="#4d4d4d" >MFL</text>
<line x1="653.4" y1="1410" x2="653.4" y2="1412" stroke="#4a4a4a" stroke-width="0.8"/>
<text x="653.4" y="1418" font-size="6.1" text-anchor="middle" font-weight="normal" fill="#4d4d4d" >SFL</text>
<text x="616.2" y="1426" font-size="7.0" text-anchor="middle" font-weight="normal" fill="#1a1a1a" >Group</text>
<text x="0" y="0" font-size="7" text-anchor="middle" fill="#1a1a1a" transform="translate(548,1303.2) rotate(-90)">Relative Abundance %</text>
<line x1="579" y1="1397.6" x2="579" y2="1400.4" stroke="#333" stroke-width="0.9"/>
<line x1="575.25" y1="1397.6" x2="582.75" y2="1397.6" stroke="#333" stroke-width="0.9"/>
<line x1="575.25" y1="1400.4" x2="582.75" y2="1400.4" stroke="#333" stroke-width="0.9"/>
<rect x="565.5" y="1398.4" width="27" height="1.599999999999909" fill="#f8a30f" stroke="#222" stroke-width="0.7"/>
<line x1="565.5" y1="1399" x2="592.5" y2="1399" stroke="#2a2a2a" stroke-width="1.3"/>
<line x1="616.6" y1="1349" x2="616.6" y2="1399.4" stroke="#333" stroke-width="0.9"/>
<line x1="612.85" y1="1349" x2="620.35" y2="1349" stroke="#333" stroke-width="0.9"/>
<line x1="612.85" y1="1399.4" x2="620.35" y2="1399.4" stroke="#333" stroke-width="0.9"/>
<rect x="603.1" y="1359.6" width="27" height="39.40000000000009" fill="#0e4382" stroke="#222" stroke-width="0.7"/>
<line x1="603.1" y1="1397.4" x2="630.1" y2="1397.4" stroke="#2a2a2a" stroke-width="1.3"/>
<circle cx="616.6" cy="1266" r="1.7" fill="#000"/>
<line x1="653.4" y1="1383.4" x2="653.4" y2="1399.4" stroke="#333" stroke-width="0.9"/>
<line x1="649.65" y1="1383.4" x2="657.15" y2="1383.4" stroke="#333" stroke-width="0.9"/>
<line x1="649.65" y1="1399.4" x2="657.15" y2="1399.4" stroke="#333" stroke-width="0.9"/>
<rect x="639.9" y="1386" width="27" height="12" fill="#ef3524" stroke="#222" stroke-width="0.7"/>
<line x1="639.9" y1="1394.4" x2="666.9" y2="1394.4" stroke="#2a2a2a" stroke-width="1.3"/>
<circle cx="653.4" cy="1362" r="1.7" fill="#000"/>
<circle cx="653.4" cy="1280.4" r="1.7" fill="#000"/>
<path d="M579,1209.6 L579,1205.6 L653.4,1205.6 L653.4,1209.6" fill="none" stroke="#3a3a3a" stroke-width="0.9"/>
<text x="616.2" y="1202.6" font-size="7.5" text-anchor="middle" font-weight="normal" fill="#1a1a1a" >**</text>
<path d="M616.6,1236.4 L616.6,1232.4 L653.4,1232.4 L653.4,1236.4" fill="none" stroke="#3a3a3a" stroke-width="0.9"/>
<text x="635.0" y="1230.4" font-size="6.8" text-anchor="middle" font-weight="normal" fill="#1a1a1a" >NS.</text>
<path d="M579,1263 L579,1259 L616.6,1259 L616.6,1263" fill="none" stroke="#3a3a3a" stroke-width="0.9"/>
<text x="597.8" y="1256" font-size="7.5" text-anchor="middle" font-weight="normal" fill="#1a1a1a" >*</text>
<text x="686" y="1288.5" font-size="7.0" text-anchor="start" font-weight="normal" fill="#1a1a1a" >Group</text>
<line x1="691.3" y1="1293.6" x2="691.3" y2="1301.1999999999998" stroke="#333" stroke-width="0.6"/>
<rect x="687" y="1294.6" width="8.600000000000023" height="5.6" fill="#f8a30f" stroke="#222" stroke-width="0.6"/>
<line x1="687" y1="1297.3999999999999" x2="695.6" y2="1297.3999999999999" stroke="#333" stroke-width="0.6"/>
<text x="700" y="1299.3999999999999" font-size="5.9" text-anchor="start" font-weight="normal" fill="#222" >Norm</text>
<line x1="691.3" y1="1304.4" x2="691.3" y2="1312.0" stroke="#333" stroke-width="0.6"/>
<rect x="687" y="1305.4" width="8.600000000000023" height="5.6" fill="#0e4382" stroke="#222" stroke-width="0.6"/>
<line x1="687" y1="1308.2" x2="695.6" y2="1308.2" stroke="#333" stroke-width="0.6"/>
<text x="700" y="1310.2" font-size="5.9" text-anchor="start" font-weight="normal" fill="#222" >MFL</text>
<line x1="691.3" y1="1316" x2="691.3" y2="1323.6" stroke="#333" stroke-width="0.6"/>
<rect x="687" y="1317" width="8.600000000000023" height="5.6" fill="#ef3524" stroke="#222" stroke-width="0.6"/>
<line x1="687" y1="1319.8" x2="695.6" y2="1319.8" stroke="#333" stroke-width="0.6"/>
<text x="700" y="1321.8" font-size="5.9" text-anchor="start" font-weight="normal" fill="#222" >SFL</text>
<rect x="777.4" y="1194.4" width="115.0" height="215.5999999999999" fill="#fff" stroke="#4a4a4a" stroke-width="0.9"/>
<text x="834.4" y="1189" font-size="8.2" text-anchor="middle" font-weight="normal" fill="#1a1a1a" >Lachnospiraceae bacterium</text>
<line x1="775.4" y1="1263.4" x2="777.4" y2="1263.4" stroke="#4a4a4a" stroke-width="0.8"/>
<text x="774.1" y="1265.5" font-size="6.0" text-anchor="end" font-weight="normal" fill="#555" >10</text>
<line x1="775.4" y1="1343" x2="777.4" y2="1343" stroke="#4a4a4a" stroke-width="0.8"/>
<text x="774.1" y="1345.1" font-size="6.0" text-anchor="end" font-weight="normal" fill="#555" >5</text>
<line x1="799" y1="1410" x2="799" y2="1412" stroke="#4a4a4a" stroke-width="0.8"/>
<text x="799" y="1418" font-size="6.1" text-anchor="middle" font-weight="normal" fill="#4d4d4d" >Norm</text>
<line x1="834.6" y1="1410" x2="834.6" y2="1412" stroke="#4a4a4a" stroke-width="0.8"/>
<text x="834.6" y="1418" font-size="6.1" text-anchor="middle" font-weight="normal" fill="#4d4d4d" >MFL</text>
<line x1="871" y1="1410" x2="871" y2="1412" stroke="#4a4a4a" stroke-width="0.8"/>
<text x="871" y="1418" font-size="6.1" text-anchor="middle" font-weight="normal" fill="#4d4d4d" >SFL</text>
<text x="835.0" y="1426" font-size="7.0" text-anchor="middle" font-weight="normal" fill="#1a1a1a" >Group</text>
<text x="0" y="0" font-size="7" text-anchor="middle" fill="#1a1a1a" transform="translate(764.5,1302.5) rotate(-90)">Relative Abundance %</text>
<line x1="799" y1="1333" x2="799" y2="1400.4" stroke="#333" stroke-width="0.9"/>
<line x1="795.25" y1="1333" x2="802.75" y2="1333" stroke="#333" stroke-width="0.9"/>
<line x1="795.25" y1="1400.4" x2="802.75" y2="1400.4" stroke="#333" stroke-width="0.9"/>
<rect x="785.5" y="1347" width="27" height="38.59999999999991" fill="#f8a30f" stroke="#222" stroke-width="0.7"/>
<line x1="785.5" y1="1361.4" x2="812.5" y2="1361.4" stroke="#2a2a2a" stroke-width="1.3"/>
<line x1="834.6" y1="1302" x2="834.6" y2="1374.4" stroke="#333" stroke-width="0.9"/>
<line x1="830.85" y1="1302" x2="838.35" y2="1302" stroke="#333" stroke-width="0.9"/>
<line x1="830.85" y1="1374.4" x2="838.35" y2="1374.4" stroke="#333" stroke-width="0.9"/>
<rect x="821.1" y="1329" width="27" height="33" fill="#0e4382" stroke="#222" stroke-width="0.7"/>
<line x1="821.1" y1="1339" x2="848.1" y2="1339" stroke="#2a2a2a" stroke-width="1.3"/>
<circle cx="834.6" cy="1265.4" r="1.7" fill="#000"/>
<line x1="871" y1="1373.4" x2="871" y2="1399.4" stroke="#333" stroke-width="0.9"/>
<line x1="867.25" y1="1373.4" x2="874.75" y2="1373.4" stroke="#333" stroke-width="0.9"/>
<line x1="867.25" y1="1399.4" x2="874.75" y2="1399.4" stroke="#333" stroke-width="0.9"/>
<rect x="857.5" y="1379" width="27" height="14.599999999999909" fill="#ef3524" stroke="#222" stroke-width="0.7"/>
<line x1="857.5" y1="1389.6" x2="884.5" y2="1389.6" stroke="#2a2a2a" stroke-width="1.3"/>
<circle cx="871" cy="1346" r="1.7" fill="#000"/>
<path d="M799,1208.6 L799,1204.6 L871,1204.6 L871,1208.6" fill="none" stroke="#3a3a3a" stroke-width="0.9"/>
<text x="835.0" y="1202.6" font-size="6.8" text-anchor="middle" font-weight="normal" fill="#1a1a1a" >NS.</text>
<path d="M834.6,1235 L834.6,1231 L871,1231 L871,1235" fill="none" stroke="#3a3a3a" stroke-width="0.9"/>
<text x="852.8" y="1228" font-size="7.5" text-anchor="middle" font-weight="normal" fill="#1a1a1a" >***</text>
<path d="M799,1262 L799,1258 L834.6,1258 L834.6,1262" fill="none" stroke="#3a3a3a" stroke-width="0.9"/>
<text x="816.8" y="1256" font-size="6.8" text-anchor="middle" font-weight="normal" fill="#1a1a1a" >NS.</text>
<text x="903" y="1287.5" font-size="7.0" text-anchor="start" font-weight="normal" fill="#1a1a1a" >Group</text>
<line x1="908.2" y1="1292.6" x2="908.2" y2="1300.3999999999999" stroke="#333" stroke-width="0.6"/>
<rect x="904" y="1293.6" width="8.399999999999977" height="5.8" fill="#f8a30f" stroke="#222" stroke-width="0.6"/>
<line x1="904" y1="1296.5" x2="912.4" y2="1296.5" stroke="#333" stroke-width="0.6"/>
<text x="916.6" y="1298.5" font-size="5.9" text-anchor="start" font-weight="normal" fill="#222" >Norm</text>
<line x1="908.2" y1="1303.4" x2="908.2" y2="1311.2" stroke="#333" stroke-width="0.6"/>
<rect x="904" y="1304.4" width="8.399999999999977" height="5.8" fill="#0e4382" stroke="#222" stroke-width="0.6"/>
<line x1="904" y1="1307.3000000000002" x2="912.4" y2="1307.3000000000002" stroke="#333" stroke-width="0.6"/>
<text x="916.6" y="1309.3000000000002" font-size="5.9" text-anchor="start" font-weight="normal" fill="#222" >MFL</text>
<line x1="908.2" y1="1315" x2="908.2" y2="1322.8" stroke="#333" stroke-width="0.6"/>
<rect x="904" y="1316" width="8.399999999999977" height="5.8" fill="#ef3524" stroke="#222" stroke-width="0.6"/>
<line x1="904" y1="1318.9" x2="912.4" y2="1318.9" stroke="#333" stroke-width="0.6"/>
<text x="916.6" y="1320.9" font-size="5.9" text-anchor="start" font-weight="normal" fill="#222" >SFL</text>
<rect x="1000.2" y="1191.9" width="114.79999999999995" height="215.79999999999995" fill="#fff" stroke="#4a4a4a" stroke-width="0.9"/>
<clipPath id="tc9"><rect x="0" y="1182.3" width="1200" height="100"/></clipPath><g clip-path="url(#tc9)">
<text x="1057" y="1187.2" font-size="8.2" text-anchor="middle" font-weight="normal" fill="#1a1a1a" >Ruminococcaceae bacterium</text>
</g>
<line x1="998.2" y1="1226" x2="1000.2" y2="1226" stroke="#4a4a4a" stroke-width="0.8"/>
<text x="996.9000000000001" y="1228.1" font-size="6.0" text-anchor="end" font-weight="normal" fill="#555" >1.0</text>
<line x1="998.2" y1="1266.2" x2="1000.2" y2="1266.2" stroke="#4a4a4a" stroke-width="0.8"/>
<text x="996.9000000000001" y="1268.3" font-size="6.0" text-anchor="end" font-weight="normal" fill="#555" >0.9</text>
<line x1="998.2" y1="1305.6" x2="1000.2" y2="1305.6" stroke="#4a4a4a" stroke-width="0.8"/>
<text x="996.9000000000001" y="1307.6999999999998" font-size="6.0" text-anchor="end" font-weight="normal" fill="#555" >0.8</text>
<line x1="998.2" y1="1345.3" x2="1000.2" y2="1345.3" stroke="#4a4a4a" stroke-width="0.8"/>
<text x="996.9000000000001" y="1347.3999999999999" font-size="6.0" text-anchor="end" font-weight="normal" fill="#555" >0.7</text>
<line x1="998.2" y1="1385.3" x2="1000.2" y2="1385.3" stroke="#4a4a4a" stroke-width="0.8"/>
<text x="996.9000000000001" y="1387.3999999999999" font-size="6.0" text-anchor="end" font-weight="normal" fill="#555" >0.6</text>
<line x1="1021.9" y1="1407.7" x2="1021.9" y2="1409.7" stroke="#4a4a4a" stroke-width="0.8"/>
<text x="1021.9" y="1415" font-size="6.1" text-anchor="middle" font-weight="normal" fill="#4d4d4d" >Norm</text>
<line x1="1057.4" y1="1407.7" x2="1057.4" y2="1409.7" stroke="#4a4a4a" stroke-width="0.8"/>
<text x="1057.4" y="1415" font-size="6.1" text-anchor="middle" font-weight="normal" fill="#4d4d4d" >MFL</text>
<line x1="1093.4" y1="1407.7" x2="1093.4" y2="1409.7" stroke="#4a4a4a" stroke-width="0.8"/>
<text x="1093.4" y="1415" font-size="6.1" text-anchor="middle" font-weight="normal" fill="#4d4d4d" >SFL</text>
<text x="1057.65" y="1423.5" font-size="7.0" text-anchor="middle" font-weight="normal" fill="#1a1a1a" >Group</text>
<text x="0" y="0" font-size="7" text-anchor="middle" fill="#1a1a1a" transform="translate(986,1299.9) rotate(-90)">Relative Abundance %</text>
<line x1="1021.9" y1="1262.3" x2="1021.9" y2="1372" stroke="#333" stroke-width="0.9"/>
<line x1="1018.15" y1="1262.3" x2="1025.65" y2="1262.3" stroke="#333" stroke-width="0.9"/>
<line x1="1018.15" y1="1372" x2="1025.65" y2="1372" stroke="#333" stroke-width="0.9"/>
<rect x="1008.6999999999999" y="1295.4" width="26.4" height="56.799999999999955" fill="#f8a30f" stroke="#222" stroke-width="0.7"/>
<line x1="1008.6999999999999" y1="1323.2" x2="1035.1" y2="1323.2" stroke="#2a2a2a" stroke-width="1.3"/>
<line x1="1057.4" y1="1310.2" x2="1057.4" y2="1357.2" stroke="#333" stroke-width="0.9"/>
<line x1="1053.65" y1="1310.2" x2="1061.15" y2="1310.2" stroke="#333" stroke-width="0.9"/>
<line x1="1053.65" y1="1357.2" x2="1061.15" y2="1357.2" stroke="#333" stroke-width="0.9"/>
<rect x="1044.2" y="1316.4" width="26.4" height="23.899999999999864" fill="#0e4382" stroke="#222" stroke-width="0.7"/>
<line x1="1044.2" y1="1319.7" x2="1070.6000000000001" y2="1319.7" stroke="#2a2a2a" stroke-width="1.3"/>
<circle cx="1057.4" cy="1398" r="1.7" fill="#000"/>
<line x1="1093.4" y1="1266.6" x2="1093.4" y2="1381" stroke="#333" stroke-width="0.9"/>
<line x1="1089.65" y1="1266.6" x2="1097.15" y2="1266.6" stroke="#333" stroke-width="0.9"/>
<line x1="1089.65" y1="1381" x2="1097.15" y2="1381" stroke="#333" stroke-width="0.9"/>
<rect x="1080.2" y="1287.8" width="26.4" height="57.90000000000009" fill="#ef3524" stroke="#222" stroke-width="0.7"/>
<line x1="1080.2" y1="1316.7" x2="1106.6000000000001" y2="1316.7" stroke="#2a2a2a" stroke-width="1.3"/>
<path d="M1021.9,1206.3 L1021.9,1202.3 L1093.4,1202.3 L1093.4,1206.3" fill="none" stroke="#3a3a3a" stroke-width="0.9"/>
<text x="1057.65" y="1200.3" font-size="6.8" text-anchor="middle" font-weight="normal" fill="#1a1a1a" >NS.</text>
<path d="M1057.4,1233 L1057.4,1229 L1093.4,1229 L1093.4,1233" fill="none" stroke="#3a3a3a" stroke-width="0.9"/>
<text x="1075.4" y="1227" font-size="6.8" text-anchor="middle" font-weight="normal" fill="#1a1a1a" >NS.</text>
<path d="M1021.9,1259.3 L1021.9,1255.3 L1057.4,1255.3 L1057.4,1259.3" fill="none" stroke="#3a3a3a" stroke-width="0.9"/>
<text x="1039.65" y="1253.3" font-size="6.8" text-anchor="middle" font-weight="normal" fill="#1a1a1a" >NS.</text>
<clipPath id="lc9"><rect x="0" y="0" width="1133.5" height="1430"/></clipPath><g clip-path="url(#lc9)">
<text x="1126" y="1285.5" font-size="7.0" text-anchor="start" font-weight="normal" fill="#1a1a1a" >Group</text>
<line x1="1129.9" y1="1290" x2="1129.9" y2="1298" stroke="#333" stroke-width="0.6"/>
<rect x="1126.8" y="1291" width="6.2000000000000455" height="6" fill="#f8a30f" stroke="#222" stroke-width="0.6"/>
<line x1="1126.8" y1="1294.0" x2="1133" y2="1294.0" stroke="#333" stroke-width="0.6"/>
<line x1="1129.9" y1="1301" x2="1129.9" y2="1309" stroke="#333" stroke-width="0.6"/>
<rect x="1126.8" y="1302" width="6.2000000000000455" height="6" fill="#0e4382" stroke="#222" stroke-width="0.6"/>
<line x1="1126.8" y1="1305.0" x2="1133" y2="1305.0" stroke="#333" stroke-width="0.6"/>
<line x1="1129.9" y1="1312.4" x2="1129.9" y2="1320.4" stroke="#333" stroke-width="0.6"/>
<rect x="1126.8" y="1313.4" width="6.2000000000000455" height="6" fill="#ef3524" stroke="#222" stroke-width="0.6"/>
<line x1="1126.8" y1="1316.4" x2="1133" y2="1316.4" stroke="#333" stroke-width="0.6"/>
</g>
</svg></body></html>
